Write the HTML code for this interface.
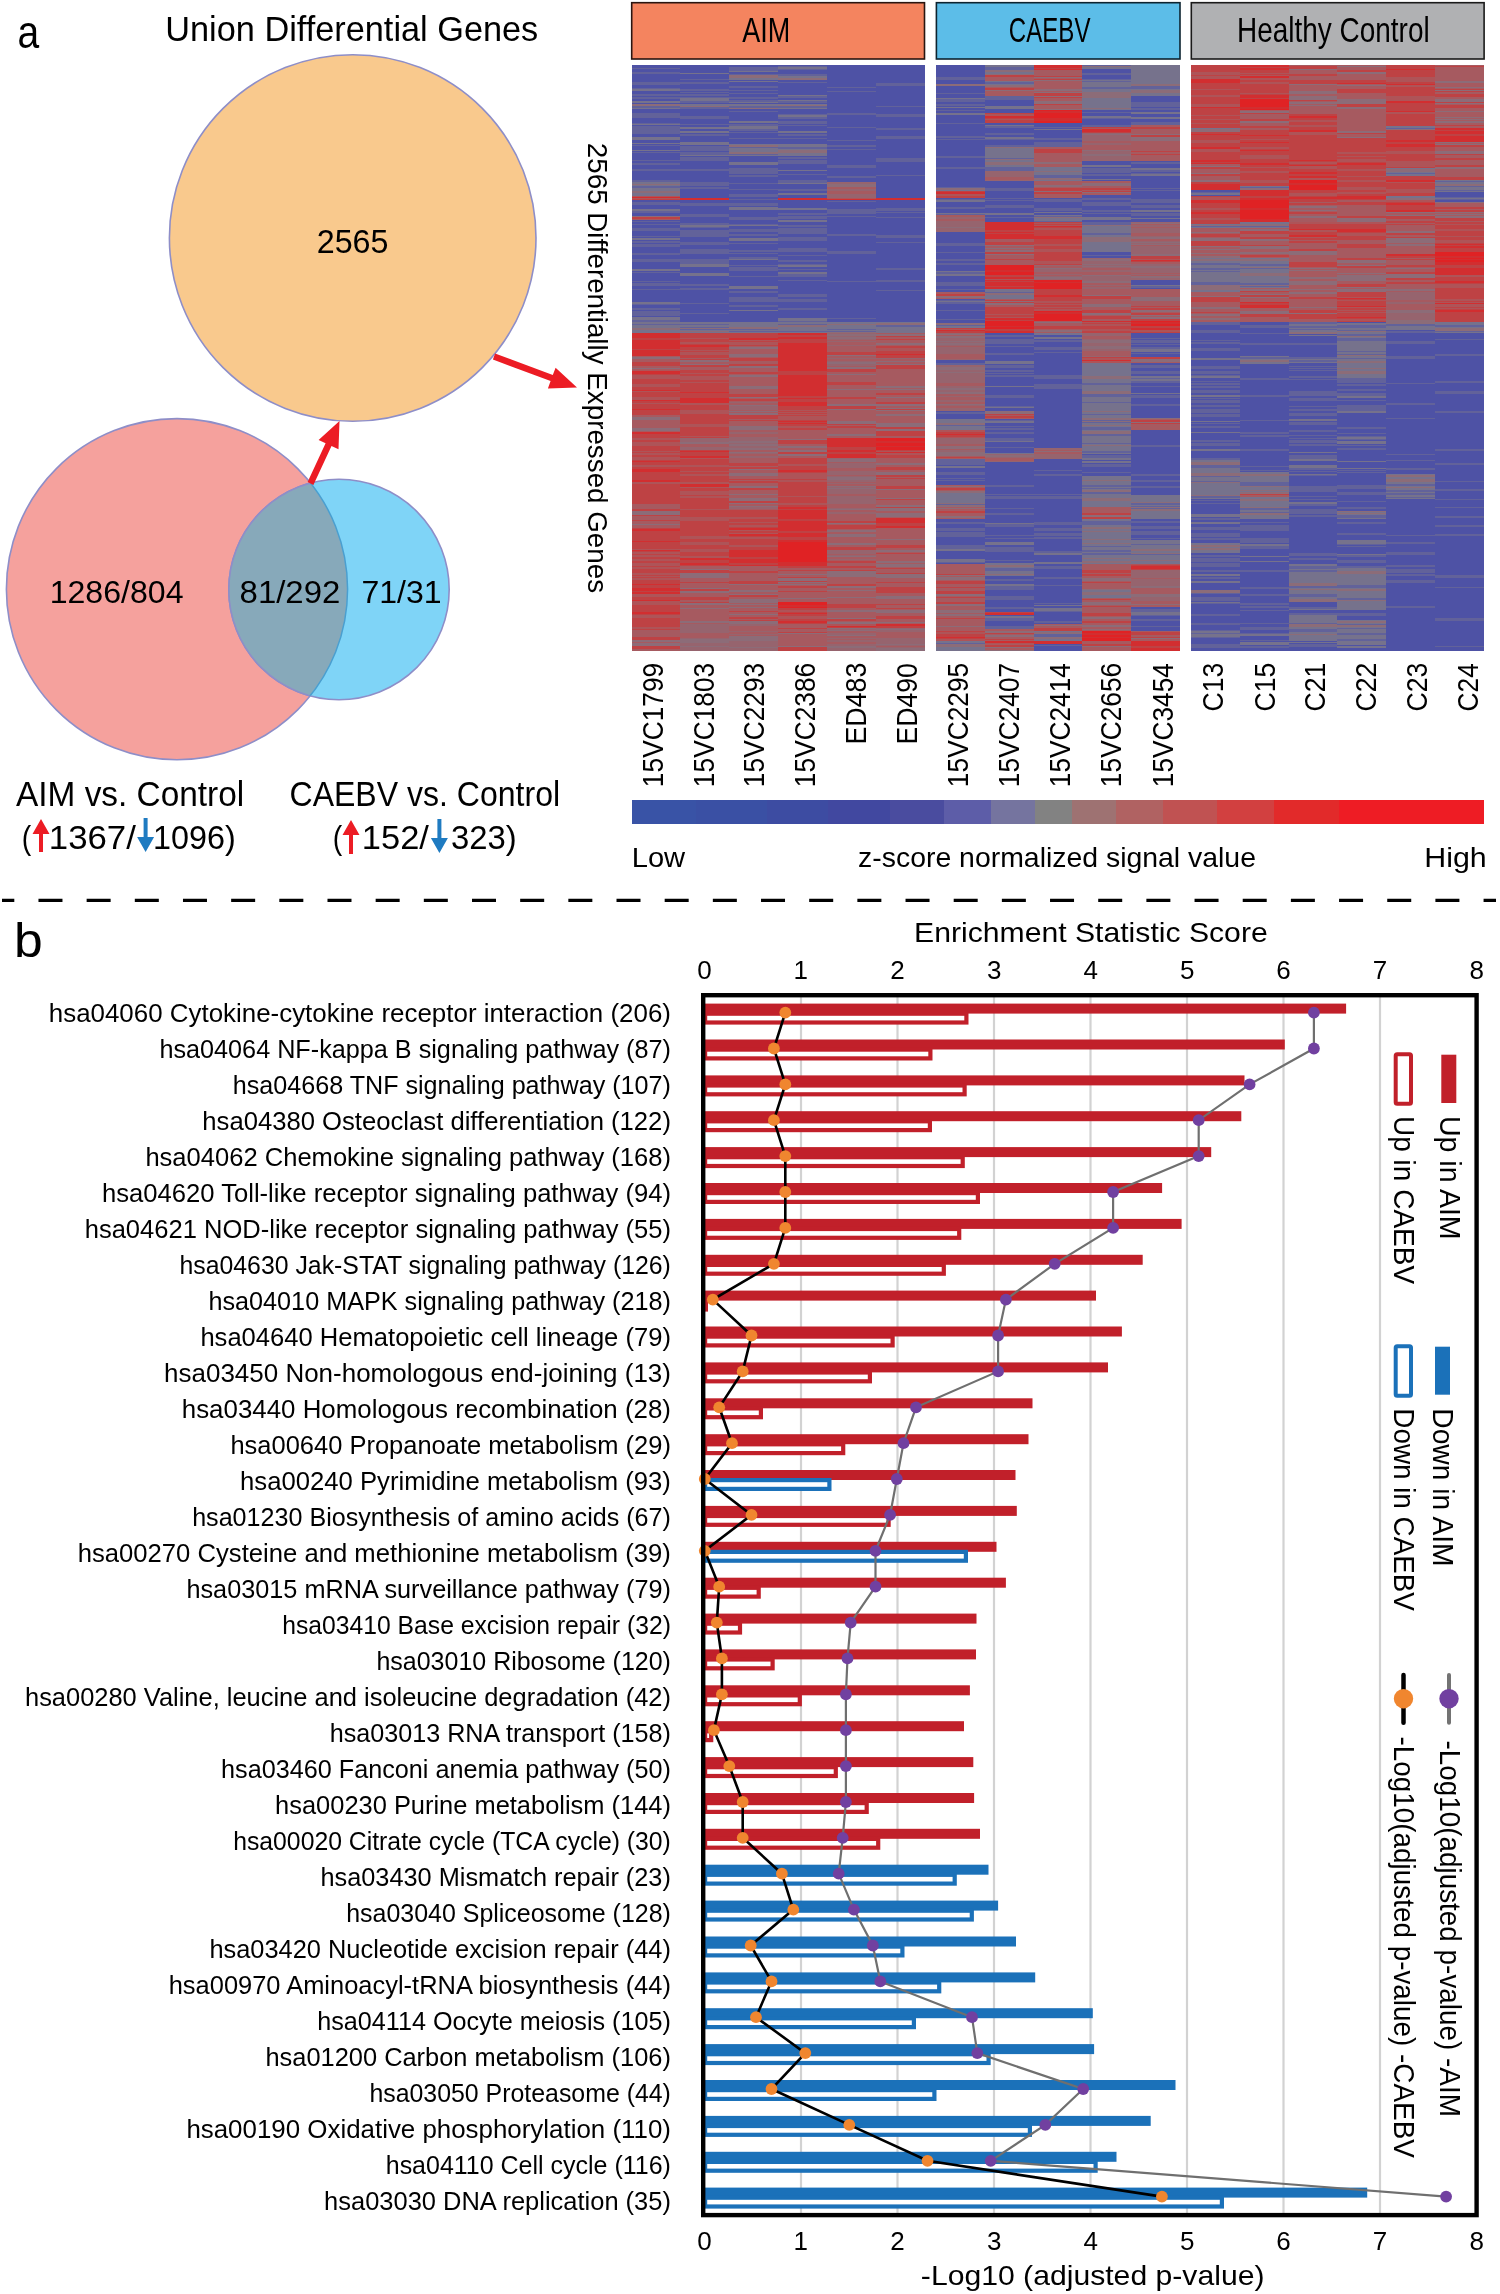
<!DOCTYPE html>
<html><head><meta charset="utf-8"><style>
html,body{margin:0;padding:0;background:#fff;}
svg{display:block;font-family:"Liberation Sans", sans-serif;will-change:transform;}
</style></head><body>
<svg width="1500" height="2294" viewBox="0 0 1500 2294">
<rect width="1500" height="2294" fill="#fff"/>
<circle cx="352.7" cy="238" r="183.3" fill="#f9c98d" stroke="#8e8ec8" stroke-width="1.6"/>
<defs><clipPath id="clipPink"><circle cx="177" cy="589.2" r="170.6"/></clipPath><clipPath id="clipBlue"><circle cx="339" cy="589.5" r="110.2"/></clipPath></defs>
<circle cx="177" cy="589.2" r="170.6" fill="#f5a19d" stroke="#8e8ec8" stroke-width="1.6"/>
<circle cx="339" cy="589.5" r="110.2" fill="#7fd4f7" stroke="#8e8ec8" stroke-width="1.6"/>
<circle cx="339" cy="589.5" r="110.2" fill="#87a9ba" clip-path="url(#clipPink)"/>
<circle cx="339" cy="589.5" r="110.2" fill="none" stroke="#8e8ec8" stroke-width="1.6" clip-path="url(#clipPink)"/>
<circle cx="177" cy="589.2" r="170.6" fill="none" stroke="#4a9fd0" stroke-width="1.5" clip-path="url(#clipBlue)"/>
<polygon points="313.4,484.9 331.5,446.0 338.5,449.2 339.5,421.0 318.6,440.0 325.6,443.2 307.6,482.1" fill="#ec1c24"/>
<polygon points="492.9,359.5 550.6,381.1 547.9,388.4 577.0,387.5 555.6,367.7 552.8,375.0 495.1,353.5" fill="#ec1c24"/>
<polygon points="39.0,852 39.0,834 32.5,834 41,819 49.5,834 43.0,834 43.0,852" fill="#ec1c24"/>
<polygon points="143.6,818 143.6,837 137.1,837 145.6,852 154.1,837 147.6,837 147.6,818" fill="#1f7bc1"/>
<polygon points="349.0,854 349.0,835 342.5,835 351,820 359.5,835 353.0,835 353.0,854" fill="#ec1c24"/>
<polygon points="437.4,819 437.4,838 430.9,838 439.4,853 447.9,838 441.4,838 441.4,819" fill="#1f7bc1"/>
<rect x="631.7" y="2.7" width="292.8" height="56.3" fill="#f4845f" stroke="#2a1510" stroke-width="1.6"/>
<rect x="936.4" y="2.7" width="243.6" height="56.3" fill="#5cbde8" stroke="#0d2430" stroke-width="1.6"/>
<rect x="1191.3" y="2.7" width="292.8" height="56.3" fill="#b0b1b3" stroke="#1a1a1a" stroke-width="1.6"/>
<g shape-rendering="crispEdges">
<rect x="632" y="65" width="48" height="39" fill="#4e52a5"/>
<rect x="632" y="97" width="48" height="2" fill="#62629a"/>
<rect x="632" y="82" width="48" height="2" fill="#62629a"/>
<rect x="632" y="72" width="48" height="2" fill="#62629a"/>
<rect x="632" y="83" width="48" height="2" fill="#62629a"/>
<rect x="632" y="94" width="48" height="2" fill="#62629a"/>
<rect x="632" y="82" width="48" height="1" fill="#62629a"/>
<rect x="632" y="68" width="48" height="1" fill="#62629a"/>
<rect x="632" y="88" width="48" height="3" fill="#62629a"/>
<rect x="632" y="101" width="48" height="2" fill="#76728c"/>
<rect x="632" y="89" width="48" height="2" fill="#76728c"/>
<rect x="632" y="104" width="48" height="5" fill="#76728c"/>
<rect x="632" y="106" width="48" height="2" fill="#62629a"/>
<rect x="632" y="104" width="48" height="2" fill="#8c6c78"/>
<rect x="632" y="109" width="48" height="73" fill="#4e52a5"/>
<rect x="632" y="113" width="48" height="2" fill="#62629a"/>
<rect x="632" y="123" width="48" height="1" fill="#62629a"/>
<rect x="632" y="152" width="48" height="1" fill="#62629a"/>
<rect x="632" y="132" width="48" height="2" fill="#62629a"/>
<rect x="632" y="169" width="48" height="2" fill="#62629a"/>
<rect x="632" y="126" width="48" height="2" fill="#62629a"/>
<rect x="632" y="145" width="48" height="1" fill="#62629a"/>
<rect x="632" y="115" width="48" height="3" fill="#62629a"/>
<rect x="632" y="128" width="48" height="3" fill="#62629a"/>
<rect x="632" y="180" width="48" height="2" fill="#62629a"/>
<rect x="632" y="160" width="48" height="1" fill="#62629a"/>
<rect x="632" y="163" width="48" height="2" fill="#62629a"/>
<rect x="632" y="130" width="48" height="2" fill="#62629a"/>
<rect x="632" y="150" width="48" height="1" fill="#62629a"/>
<rect x="632" y="138" width="48" height="1" fill="#62629a"/>
<rect x="632" y="137" width="48" height="1" fill="#62629a"/>
<rect x="632" y="170" width="48" height="1" fill="#62629a"/>
<rect x="632" y="124" width="48" height="1" fill="#76728c"/>
<rect x="632" y="143" width="48" height="1" fill="#76728c"/>
<rect x="632" y="137" width="48" height="3" fill="#76728c"/>
<rect x="632" y="150" width="48" height="1" fill="#76728c"/>
<rect x="632" y="182" width="48" height="14" fill="#76728c"/>
<rect x="632" y="192" width="48" height="1" fill="#62629a"/>
<rect x="632" y="186" width="48" height="2" fill="#62629a"/>
<rect x="632" y="186" width="48" height="2" fill="#62629a"/>
<rect x="632" y="191" width="48" height="2" fill="#8c6c78"/>
<rect x="632" y="184" width="48" height="1" fill="#8c6c78"/>
<rect x="632" y="196" width="48" height="4" fill="#be4244"/>
<rect x="632" y="196" width="48" height="3" fill="#ae5458"/>
<rect x="632" y="197" width="48" height="1" fill="#d22e30"/>
<rect x="632" y="200" width="48" height="16" fill="#4e52a5"/>
<rect x="632" y="202" width="48" height="2" fill="#62629a"/>
<rect x="632" y="203" width="48" height="2" fill="#62629a"/>
<rect x="632" y="203" width="48" height="2" fill="#62629a"/>
<rect x="632" y="210" width="48" height="3" fill="#62629a"/>
<rect x="632" y="209" width="48" height="2" fill="#76728c"/>
<rect x="632" y="216" width="48" height="4" fill="#a65a60"/>
<rect x="632" y="217" width="48" height="1" fill="#8c6c78"/>
<rect x="632" y="216" width="48" height="1" fill="#8c6c78"/>
<rect x="632" y="217" width="48" height="2" fill="#be4244"/>
<rect x="632" y="220" width="48" height="102" fill="#4e52a5"/>
<rect x="632" y="241" width="48" height="1" fill="#62629a"/>
<rect x="632" y="320" width="48" height="2" fill="#62629a"/>
<rect x="632" y="284" width="48" height="2" fill="#62629a"/>
<rect x="632" y="224" width="48" height="1" fill="#62629a"/>
<rect x="632" y="242" width="48" height="1" fill="#62629a"/>
<rect x="632" y="221" width="48" height="1" fill="#62629a"/>
<rect x="632" y="253" width="48" height="2" fill="#62629a"/>
<rect x="632" y="259" width="48" height="1" fill="#62629a"/>
<rect x="632" y="229" width="48" height="1" fill="#62629a"/>
<rect x="632" y="284" width="48" height="2" fill="#62629a"/>
<rect x="632" y="281" width="48" height="1" fill="#62629a"/>
<rect x="632" y="283" width="48" height="1" fill="#62629a"/>
<rect x="632" y="317" width="48" height="1" fill="#62629a"/>
<rect x="632" y="303" width="48" height="2" fill="#62629a"/>
<rect x="632" y="308" width="48" height="1" fill="#62629a"/>
<rect x="632" y="283" width="48" height="1" fill="#62629a"/>
<rect x="632" y="311" width="48" height="2" fill="#62629a"/>
<rect x="632" y="245" width="48" height="2" fill="#62629a"/>
<rect x="632" y="236" width="48" height="1" fill="#62629a"/>
<rect x="632" y="313" width="48" height="3" fill="#62629a"/>
<rect x="632" y="289" width="48" height="1" fill="#62629a"/>
<rect x="632" y="308" width="48" height="2" fill="#62629a"/>
<rect x="632" y="228" width="48" height="2" fill="#62629a"/>
<rect x="632" y="230" width="48" height="1" fill="#62629a"/>
<rect x="632" y="272" width="48" height="1" fill="#62629a"/>
<rect x="632" y="244" width="48" height="1" fill="#62629a"/>
<rect x="632" y="259" width="48" height="3" fill="#62629a"/>
<rect x="632" y="302" width="48" height="2" fill="#76728c"/>
<rect x="632" y="269" width="48" height="2" fill="#76728c"/>
<rect x="632" y="238" width="48" height="2" fill="#76728c"/>
<rect x="632" y="317" width="48" height="3" fill="#76728c"/>
<rect x="632" y="322" width="48" height="11" fill="#76728c"/>
<rect x="632" y="324" width="48" height="1" fill="#62629a"/>
<rect x="632" y="328" width="48" height="2" fill="#62629a"/>
<rect x="632" y="328" width="48" height="2" fill="#8c6c78"/>
<rect x="632" y="333" width="48" height="23" fill="#d22e30"/>
<rect x="632" y="338" width="48" height="1" fill="#be4244"/>
<rect x="632" y="349" width="48" height="1" fill="#be4244"/>
<rect x="632" y="339" width="48" height="1" fill="#be4244"/>
<rect x="632" y="338" width="48" height="2" fill="#be4244"/>
<rect x="632" y="356" width="48" height="14" fill="#a65a60"/>
<rect x="632" y="358" width="48" height="1" fill="#8c6c78"/>
<rect x="632" y="363" width="48" height="1" fill="#8c6c78"/>
<rect x="632" y="357" width="48" height="1" fill="#8c6c78"/>
<rect x="632" y="368" width="48" height="1" fill="#8c6c78"/>
<rect x="632" y="364" width="48" height="2" fill="#be4244"/>
<rect x="632" y="362" width="48" height="3" fill="#be4244"/>
<rect x="632" y="370" width="48" height="12" fill="#be4244"/>
<rect x="632" y="376" width="48" height="1" fill="#ae5458"/>
<rect x="632" y="375" width="48" height="1" fill="#ae5458"/>
<rect x="632" y="377" width="48" height="2" fill="#ae5458"/>
<rect x="632" y="370" width="48" height="1" fill="#ae5458"/>
<rect x="632" y="371" width="48" height="3" fill="#d22e30"/>
<rect x="632" y="382" width="48" height="24" fill="#be4244"/>
<rect x="632" y="399" width="48" height="1" fill="#ae5458"/>
<rect x="632" y="385" width="48" height="2" fill="#ae5458"/>
<rect x="632" y="384" width="48" height="1" fill="#ae5458"/>
<rect x="632" y="390" width="48" height="2" fill="#ae5458"/>
<rect x="632" y="403" width="48" height="1" fill="#ae5458"/>
<rect x="632" y="397" width="48" height="3" fill="#ae5458"/>
<rect x="632" y="400" width="48" height="1" fill="#d22e30"/>
<rect x="632" y="390" width="48" height="1" fill="#d22e30"/>
<rect x="632" y="406" width="48" height="4" fill="#d22e30"/>
<rect x="632" y="406" width="48" height="3" fill="#be4244"/>
<rect x="632" y="410" width="48" height="22" fill="#a65a60"/>
<rect x="632" y="428" width="48" height="1" fill="#8c6c78"/>
<rect x="632" y="429" width="48" height="2" fill="#8c6c78"/>
<rect x="632" y="428" width="48" height="1" fill="#8c6c78"/>
<rect x="632" y="410" width="48" height="2" fill="#8c6c78"/>
<rect x="632" y="417" width="48" height="3" fill="#8c6c78"/>
<rect x="632" y="410" width="48" height="2" fill="#be4244"/>
<rect x="632" y="412" width="48" height="1" fill="#be4244"/>
<rect x="632" y="412" width="48" height="3" fill="#be4244"/>
<rect x="632" y="432" width="48" height="4" fill="#d22e30"/>
<rect x="632" y="434" width="48" height="2" fill="#be4244"/>
<rect x="632" y="436" width="48" height="68" fill="#be4244"/>
<rect x="632" y="457" width="48" height="3" fill="#ae5458"/>
<rect x="632" y="481" width="48" height="3" fill="#ae5458"/>
<rect x="632" y="465" width="48" height="2" fill="#ae5458"/>
<rect x="632" y="442" width="48" height="2" fill="#ae5458"/>
<rect x="632" y="438" width="48" height="2" fill="#ae5458"/>
<rect x="632" y="442" width="48" height="2" fill="#ae5458"/>
<rect x="632" y="451" width="48" height="1" fill="#ae5458"/>
<rect x="632" y="443" width="48" height="3" fill="#ae5458"/>
<rect x="632" y="480" width="48" height="2" fill="#ae5458"/>
<rect x="632" y="453" width="48" height="2" fill="#ae5458"/>
<rect x="632" y="461" width="48" height="1" fill="#d22e30"/>
<rect x="632" y="481" width="48" height="1" fill="#d22e30"/>
<rect x="632" y="471" width="48" height="1" fill="#d22e30"/>
<rect x="632" y="480" width="48" height="1" fill="#d22e30"/>
<rect x="632" y="469" width="48" height="2" fill="#d22e30"/>
<rect x="632" y="504" width="48" height="24" fill="#a65a60"/>
<rect x="632" y="512" width="48" height="1" fill="#8c6c78"/>
<rect x="632" y="509" width="48" height="3" fill="#8c6c78"/>
<rect x="632" y="513" width="48" height="3" fill="#8c6c78"/>
<rect x="632" y="524" width="48" height="1" fill="#8c6c78"/>
<rect x="632" y="509" width="48" height="2" fill="#be4244"/>
<rect x="632" y="509" width="48" height="1" fill="#be4244"/>
<rect x="632" y="515" width="48" height="1" fill="#be4244"/>
<rect x="632" y="520" width="48" height="1" fill="#be4244"/>
<rect x="632" y="528" width="48" height="56" fill="#be4244"/>
<rect x="632" y="573" width="48" height="1" fill="#ae5458"/>
<rect x="632" y="553" width="48" height="1" fill="#ae5458"/>
<rect x="632" y="578" width="48" height="2" fill="#ae5458"/>
<rect x="632" y="549" width="48" height="2" fill="#ae5458"/>
<rect x="632" y="555" width="48" height="2" fill="#ae5458"/>
<rect x="632" y="567" width="48" height="2" fill="#ae5458"/>
<rect x="632" y="552" width="48" height="2" fill="#ae5458"/>
<rect x="632" y="574" width="48" height="1" fill="#ae5458"/>
<rect x="632" y="576" width="48" height="1" fill="#ae5458"/>
<rect x="632" y="565" width="48" height="1" fill="#ae5458"/>
<rect x="632" y="559" width="48" height="2" fill="#ae5458"/>
<rect x="632" y="563" width="48" height="2" fill="#ae5458"/>
<rect x="632" y="529" width="48" height="2" fill="#d22e30"/>
<rect x="632" y="550" width="48" height="1" fill="#d22e30"/>
<rect x="632" y="529" width="48" height="1" fill="#d22e30"/>
<rect x="632" y="541" width="48" height="1" fill="#d22e30"/>
<rect x="632" y="584" width="48" height="10" fill="#d22e30"/>
<rect x="632" y="591" width="48" height="1" fill="#be4244"/>
<rect x="632" y="585" width="48" height="3" fill="#be4244"/>
<rect x="632" y="594" width="48" height="36" fill="#be4244"/>
<rect x="632" y="616" width="48" height="1" fill="#ae5458"/>
<rect x="632" y="615" width="48" height="3" fill="#ae5458"/>
<rect x="632" y="627" width="48" height="2" fill="#ae5458"/>
<rect x="632" y="601" width="48" height="3" fill="#ae5458"/>
<rect x="632" y="603" width="48" height="2" fill="#ae5458"/>
<rect x="632" y="594" width="48" height="3" fill="#ae5458"/>
<rect x="632" y="612" width="48" height="2" fill="#d22e30"/>
<rect x="632" y="600" width="48" height="1" fill="#d22e30"/>
<rect x="632" y="630" width="48" height="21" fill="#a65a60"/>
<rect x="632" y="645" width="48" height="2" fill="#8c6c78"/>
<rect x="632" y="643" width="48" height="2" fill="#8c6c78"/>
<rect x="632" y="640" width="48" height="2" fill="#8c6c78"/>
<rect x="632" y="638" width="48" height="1" fill="#8c6c78"/>
<rect x="632" y="646" width="48" height="3" fill="#be4244"/>
<rect x="632" y="638" width="48" height="1" fill="#be4244"/>
<rect x="632" y="637" width="48" height="3" fill="#be4244"/>
<rect x="680" y="65" width="49" height="39" fill="#4e52a5"/>
<rect x="680" y="82" width="49" height="2" fill="#62629a"/>
<rect x="680" y="97" width="49" height="3" fill="#62629a"/>
<rect x="680" y="79" width="49" height="1" fill="#62629a"/>
<rect x="680" y="89" width="49" height="2" fill="#62629a"/>
<rect x="680" y="94" width="49" height="2" fill="#62629a"/>
<rect x="680" y="82" width="49" height="2" fill="#62629a"/>
<rect x="680" y="100" width="49" height="3" fill="#62629a"/>
<rect x="680" y="92" width="49" height="1" fill="#62629a"/>
<rect x="680" y="98" width="49" height="3" fill="#76728c"/>
<rect x="680" y="73" width="49" height="1" fill="#76728c"/>
<rect x="680" y="104" width="49" height="5" fill="#76728c"/>
<rect x="680" y="107" width="49" height="2" fill="#62629a"/>
<rect x="680" y="106" width="49" height="1" fill="#8c6c78"/>
<rect x="680" y="109" width="49" height="89" fill="#4e52a5"/>
<rect x="680" y="132" width="49" height="1" fill="#62629a"/>
<rect x="680" y="183" width="49" height="3" fill="#62629a"/>
<rect x="680" y="153" width="49" height="2" fill="#62629a"/>
<rect x="680" y="148" width="49" height="1" fill="#62629a"/>
<rect x="680" y="146" width="49" height="2" fill="#62629a"/>
<rect x="680" y="152" width="49" height="1" fill="#62629a"/>
<rect x="680" y="128" width="49" height="1" fill="#62629a"/>
<rect x="680" y="147" width="49" height="1" fill="#62629a"/>
<rect x="680" y="124" width="49" height="1" fill="#62629a"/>
<rect x="680" y="169" width="49" height="2" fill="#62629a"/>
<rect x="680" y="150" width="49" height="1" fill="#62629a"/>
<rect x="680" y="187" width="49" height="2" fill="#62629a"/>
<rect x="680" y="182" width="49" height="2" fill="#62629a"/>
<rect x="680" y="147" width="49" height="3" fill="#62629a"/>
<rect x="680" y="159" width="49" height="2" fill="#62629a"/>
<rect x="680" y="116" width="49" height="3" fill="#62629a"/>
<rect x="680" y="148" width="49" height="1" fill="#62629a"/>
<rect x="680" y="134" width="49" height="2" fill="#62629a"/>
<rect x="680" y="157" width="49" height="3" fill="#62629a"/>
<rect x="680" y="155" width="49" height="1" fill="#76728c"/>
<rect x="680" y="131" width="49" height="2" fill="#76728c"/>
<rect x="680" y="142" width="49" height="3" fill="#76728c"/>
<rect x="680" y="127" width="49" height="2" fill="#76728c"/>
<rect x="680" y="198" width="49" height="2" fill="#be4244"/>
<rect x="680" y="199" width="49" height="1" fill="#ae5458"/>
<rect x="680" y="198" width="49" height="2" fill="#d22e30"/>
<rect x="680" y="200" width="49" height="122" fill="#4e52a5"/>
<rect x="680" y="224" width="49" height="2" fill="#62629a"/>
<rect x="680" y="214" width="49" height="2" fill="#62629a"/>
<rect x="680" y="273" width="49" height="1" fill="#62629a"/>
<rect x="680" y="265" width="49" height="1" fill="#62629a"/>
<rect x="680" y="262" width="49" height="1" fill="#62629a"/>
<rect x="680" y="265" width="49" height="2" fill="#62629a"/>
<rect x="680" y="215" width="49" height="2" fill="#62629a"/>
<rect x="680" y="284" width="49" height="1" fill="#62629a"/>
<rect x="680" y="313" width="49" height="1" fill="#62629a"/>
<rect x="680" y="250" width="49" height="2" fill="#62629a"/>
<rect x="680" y="232" width="49" height="2" fill="#62629a"/>
<rect x="680" y="259" width="49" height="2" fill="#62629a"/>
<rect x="680" y="252" width="49" height="2" fill="#62629a"/>
<rect x="680" y="263" width="49" height="2" fill="#62629a"/>
<rect x="680" y="223" width="49" height="1" fill="#62629a"/>
<rect x="680" y="204" width="49" height="2" fill="#62629a"/>
<rect x="680" y="216" width="49" height="1" fill="#62629a"/>
<rect x="680" y="204" width="49" height="1" fill="#62629a"/>
<rect x="680" y="227" width="49" height="1" fill="#62629a"/>
<rect x="680" y="234" width="49" height="3" fill="#62629a"/>
<rect x="680" y="242" width="49" height="3" fill="#62629a"/>
<rect x="680" y="260" width="49" height="2" fill="#62629a"/>
<rect x="680" y="288" width="49" height="2" fill="#62629a"/>
<rect x="680" y="303" width="49" height="1" fill="#62629a"/>
<rect x="680" y="230" width="49" height="2" fill="#62629a"/>
<rect x="680" y="285" width="49" height="1" fill="#62629a"/>
<rect x="680" y="203" width="49" height="2" fill="#62629a"/>
<rect x="680" y="249" width="49" height="3" fill="#62629a"/>
<rect x="680" y="274" width="49" height="2" fill="#76728c"/>
<rect x="680" y="225" width="49" height="2" fill="#76728c"/>
<rect x="680" y="264" width="49" height="3" fill="#76728c"/>
<rect x="680" y="264" width="49" height="1" fill="#76728c"/>
<rect x="680" y="273" width="49" height="2" fill="#76728c"/>
<rect x="680" y="322" width="49" height="11" fill="#76728c"/>
<rect x="680" y="324" width="49" height="1" fill="#62629a"/>
<rect x="680" y="327" width="49" height="3" fill="#62629a"/>
<rect x="680" y="331" width="49" height="1" fill="#8c6c78"/>
<rect x="680" y="328" width="49" height="1" fill="#8c6c78"/>
<rect x="680" y="333" width="49" height="25" fill="#be4244"/>
<rect x="680" y="338" width="49" height="1" fill="#ae5458"/>
<rect x="680" y="354" width="49" height="1" fill="#ae5458"/>
<rect x="680" y="354" width="49" height="1" fill="#ae5458"/>
<rect x="680" y="350" width="49" height="1" fill="#ae5458"/>
<rect x="680" y="342" width="49" height="2" fill="#ae5458"/>
<rect x="680" y="352" width="49" height="2" fill="#ae5458"/>
<rect x="680" y="345" width="49" height="2" fill="#d22e30"/>
<rect x="680" y="358" width="49" height="12" fill="#a65a60"/>
<rect x="680" y="359" width="49" height="3" fill="#8c6c78"/>
<rect x="680" y="364" width="49" height="2" fill="#8c6c78"/>
<rect x="680" y="359" width="49" height="1" fill="#be4244"/>
<rect x="680" y="365" width="49" height="2" fill="#be4244"/>
<rect x="680" y="370" width="49" height="68" fill="#be4244"/>
<rect x="680" y="378" width="49" height="1" fill="#ae5458"/>
<rect x="680" y="412" width="49" height="2" fill="#ae5458"/>
<rect x="680" y="403" width="49" height="2" fill="#ae5458"/>
<rect x="680" y="424" width="49" height="3" fill="#ae5458"/>
<rect x="680" y="402" width="49" height="1" fill="#ae5458"/>
<rect x="680" y="373" width="49" height="1" fill="#ae5458"/>
<rect x="680" y="410" width="49" height="2" fill="#ae5458"/>
<rect x="680" y="402" width="49" height="2" fill="#ae5458"/>
<rect x="680" y="382" width="49" height="1" fill="#ae5458"/>
<rect x="680" y="382" width="49" height="1" fill="#ae5458"/>
<rect x="680" y="436" width="49" height="1" fill="#ae5458"/>
<rect x="680" y="376" width="49" height="3" fill="#ae5458"/>
<rect x="680" y="379" width="49" height="1" fill="#ae5458"/>
<rect x="680" y="400" width="49" height="3" fill="#d22e30"/>
<rect x="680" y="392" width="49" height="1" fill="#d22e30"/>
<rect x="680" y="398" width="49" height="2" fill="#d22e30"/>
<rect x="680" y="438" width="49" height="12" fill="#96646e"/>
<rect x="680" y="443" width="49" height="1" fill="#8c6c78"/>
<rect x="680" y="442" width="49" height="2" fill="#8c6c78"/>
<rect x="680" y="444" width="49" height="3" fill="#a65a60"/>
<rect x="680" y="450" width="49" height="116" fill="#be4244"/>
<rect x="680" y="471" width="49" height="1" fill="#ae5458"/>
<rect x="680" y="491" width="49" height="2" fill="#ae5458"/>
<rect x="680" y="496" width="49" height="2" fill="#ae5458"/>
<rect x="680" y="520" width="49" height="1" fill="#ae5458"/>
<rect x="680" y="509" width="49" height="1" fill="#ae5458"/>
<rect x="680" y="487" width="49" height="1" fill="#ae5458"/>
<rect x="680" y="542" width="49" height="1" fill="#ae5458"/>
<rect x="680" y="549" width="49" height="3" fill="#ae5458"/>
<rect x="680" y="556" width="49" height="3" fill="#ae5458"/>
<rect x="680" y="518" width="49" height="2" fill="#ae5458"/>
<rect x="680" y="517" width="49" height="2" fill="#ae5458"/>
<rect x="680" y="542" width="49" height="2" fill="#ae5458"/>
<rect x="680" y="482" width="49" height="2" fill="#ae5458"/>
<rect x="680" y="536" width="49" height="1" fill="#ae5458"/>
<rect x="680" y="544" width="49" height="1" fill="#ae5458"/>
<rect x="680" y="465" width="49" height="2" fill="#ae5458"/>
<rect x="680" y="551" width="49" height="1" fill="#ae5458"/>
<rect x="680" y="492" width="49" height="3" fill="#ae5458"/>
<rect x="680" y="537" width="49" height="2" fill="#ae5458"/>
<rect x="680" y="474" width="49" height="2" fill="#ae5458"/>
<rect x="680" y="458" width="49" height="1" fill="#ae5458"/>
<rect x="680" y="485" width="49" height="1" fill="#d22e30"/>
<rect x="680" y="451" width="49" height="1" fill="#d22e30"/>
<rect x="680" y="563" width="49" height="2" fill="#d22e30"/>
<rect x="680" y="456" width="49" height="2" fill="#d22e30"/>
<rect x="680" y="558" width="49" height="2" fill="#d22e30"/>
<rect x="680" y="484" width="49" height="3" fill="#d22e30"/>
<rect x="680" y="566" width="49" height="58" fill="#a65a60"/>
<rect x="680" y="604" width="49" height="1" fill="#8c6c78"/>
<rect x="680" y="576" width="49" height="2" fill="#8c6c78"/>
<rect x="680" y="588" width="49" height="1" fill="#8c6c78"/>
<rect x="680" y="602" width="49" height="2" fill="#8c6c78"/>
<rect x="680" y="573" width="49" height="3" fill="#8c6c78"/>
<rect x="680" y="621" width="49" height="2" fill="#8c6c78"/>
<rect x="680" y="573" width="49" height="1" fill="#8c6c78"/>
<rect x="680" y="608" width="49" height="1" fill="#8c6c78"/>
<rect x="680" y="591" width="49" height="2" fill="#8c6c78"/>
<rect x="680" y="569" width="49" height="2" fill="#8c6c78"/>
<rect x="680" y="603" width="49" height="1" fill="#8c6c78"/>
<rect x="680" y="572" width="49" height="1" fill="#be4244"/>
<rect x="680" y="582" width="49" height="1" fill="#be4244"/>
<rect x="680" y="597" width="49" height="2" fill="#be4244"/>
<rect x="680" y="589" width="49" height="2" fill="#be4244"/>
<rect x="680" y="598" width="49" height="2" fill="#be4244"/>
<rect x="680" y="602" width="49" height="1" fill="#be4244"/>
<rect x="680" y="570" width="49" height="3" fill="#be4244"/>
<rect x="680" y="624" width="49" height="27" fill="#96646e"/>
<rect x="680" y="641" width="49" height="2" fill="#8c6c78"/>
<rect x="680" y="634" width="49" height="1" fill="#8c6c78"/>
<rect x="680" y="634" width="49" height="1" fill="#8c6c78"/>
<rect x="680" y="646" width="49" height="1" fill="#8c6c78"/>
<rect x="680" y="639" width="49" height="2" fill="#8c6c78"/>
<rect x="680" y="635" width="49" height="1" fill="#a65a60"/>
<rect x="680" y="635" width="49" height="2" fill="#a65a60"/>
<rect x="680" y="634" width="49" height="2" fill="#a65a60"/>
<rect x="680" y="633" width="49" height="2" fill="#a65a60"/>
<rect x="680" y="636" width="49" height="2" fill="#a65a60"/>
<rect x="729" y="65" width="49" height="9" fill="#4e52a5"/>
<rect x="729" y="69" width="49" height="2" fill="#62629a"/>
<rect x="729" y="70" width="49" height="1" fill="#62629a"/>
<rect x="729" y="67" width="49" height="3" fill="#62629a"/>
<rect x="729" y="71" width="49" height="1" fill="#76728c"/>
<rect x="729" y="74" width="49" height="6" fill="#76728c"/>
<rect x="729" y="74" width="49" height="2" fill="#62629a"/>
<rect x="729" y="76" width="49" height="1" fill="#8c6c78"/>
<rect x="729" y="75" width="49" height="3" fill="#8c6c78"/>
<rect x="729" y="80" width="49" height="24" fill="#4e52a5"/>
<rect x="729" y="97" width="49" height="1" fill="#62629a"/>
<rect x="729" y="93" width="49" height="1" fill="#62629a"/>
<rect x="729" y="100" width="49" height="3" fill="#62629a"/>
<rect x="729" y="98" width="49" height="1" fill="#62629a"/>
<rect x="729" y="90" width="49" height="1" fill="#62629a"/>
<rect x="729" y="86" width="49" height="2" fill="#62629a"/>
<rect x="729" y="81" width="49" height="1" fill="#76728c"/>
<rect x="729" y="102" width="49" height="1" fill="#76728c"/>
<rect x="729" y="104" width="49" height="5" fill="#76728c"/>
<rect x="729" y="106" width="49" height="3" fill="#62629a"/>
<rect x="729" y="108" width="49" height="1" fill="#8c6c78"/>
<rect x="729" y="109" width="49" height="35" fill="#4e52a5"/>
<rect x="729" y="130" width="49" height="1" fill="#62629a"/>
<rect x="729" y="111" width="49" height="1" fill="#62629a"/>
<rect x="729" y="124" width="49" height="2" fill="#62629a"/>
<rect x="729" y="138" width="49" height="1" fill="#62629a"/>
<rect x="729" y="127" width="49" height="1" fill="#62629a"/>
<rect x="729" y="121" width="49" height="1" fill="#62629a"/>
<rect x="729" y="132" width="49" height="1" fill="#62629a"/>
<rect x="729" y="129" width="49" height="2" fill="#62629a"/>
<rect x="729" y="128" width="49" height="3" fill="#62629a"/>
<rect x="729" y="121" width="49" height="2" fill="#76728c"/>
<rect x="729" y="126" width="49" height="3" fill="#76728c"/>
<rect x="729" y="144" width="49" height="12" fill="#76728c"/>
<rect x="729" y="154" width="49" height="1" fill="#62629a"/>
<rect x="729" y="145" width="49" height="3" fill="#62629a"/>
<rect x="729" y="145" width="49" height="2" fill="#8c6c78"/>
<rect x="729" y="152" width="49" height="2" fill="#8c6c78"/>
<rect x="729" y="156" width="49" height="24" fill="#4e52a5"/>
<rect x="729" y="175" width="49" height="2" fill="#62629a"/>
<rect x="729" y="162" width="49" height="2" fill="#62629a"/>
<rect x="729" y="171" width="49" height="3" fill="#62629a"/>
<rect x="729" y="168" width="49" height="3" fill="#62629a"/>
<rect x="729" y="162" width="49" height="3" fill="#76728c"/>
<rect x="729" y="180" width="49" height="18" fill="#4e52a5"/>
<rect x="729" y="183" width="49" height="1" fill="#62629a"/>
<rect x="729" y="189" width="49" height="1" fill="#62629a"/>
<rect x="729" y="194" width="49" height="3" fill="#62629a"/>
<rect x="729" y="198" width="49" height="124" fill="#4e52a5"/>
<rect x="729" y="203" width="49" height="3" fill="#62629a"/>
<rect x="729" y="199" width="49" height="1" fill="#62629a"/>
<rect x="729" y="250" width="49" height="2" fill="#62629a"/>
<rect x="729" y="203" width="49" height="2" fill="#62629a"/>
<rect x="729" y="265" width="49" height="1" fill="#62629a"/>
<rect x="729" y="291" width="49" height="1" fill="#62629a"/>
<rect x="729" y="217" width="49" height="3" fill="#62629a"/>
<rect x="729" y="276" width="49" height="1" fill="#62629a"/>
<rect x="729" y="257" width="49" height="2" fill="#62629a"/>
<rect x="729" y="224" width="49" height="1" fill="#62629a"/>
<rect x="729" y="259" width="49" height="1" fill="#62629a"/>
<rect x="729" y="301" width="49" height="1" fill="#62629a"/>
<rect x="729" y="297" width="49" height="1" fill="#62629a"/>
<rect x="729" y="297" width="49" height="2" fill="#62629a"/>
<rect x="729" y="300" width="49" height="2" fill="#62629a"/>
<rect x="729" y="253" width="49" height="1" fill="#62629a"/>
<rect x="729" y="229" width="49" height="3" fill="#62629a"/>
<rect x="729" y="243" width="49" height="1" fill="#62629a"/>
<rect x="729" y="299" width="49" height="3" fill="#62629a"/>
<rect x="729" y="238" width="49" height="2" fill="#62629a"/>
<rect x="729" y="291" width="49" height="2" fill="#62629a"/>
<rect x="729" y="251" width="49" height="1" fill="#62629a"/>
<rect x="729" y="269" width="49" height="2" fill="#62629a"/>
<rect x="729" y="305" width="49" height="2" fill="#62629a"/>
<rect x="729" y="265" width="49" height="1" fill="#62629a"/>
<rect x="729" y="267" width="49" height="2" fill="#62629a"/>
<rect x="729" y="297" width="49" height="2" fill="#62629a"/>
<rect x="729" y="234" width="49" height="2" fill="#62629a"/>
<rect x="729" y="207" width="49" height="1" fill="#76728c"/>
<rect x="729" y="310" width="49" height="1" fill="#76728c"/>
<rect x="729" y="208" width="49" height="2" fill="#76728c"/>
<rect x="729" y="259" width="49" height="1" fill="#76728c"/>
<rect x="729" y="238" width="49" height="3" fill="#76728c"/>
<rect x="729" y="225" width="49" height="1" fill="#76728c"/>
<rect x="729" y="286" width="49" height="3" fill="#76728c"/>
<rect x="729" y="322" width="49" height="11" fill="#76728c"/>
<rect x="729" y="331" width="49" height="1" fill="#62629a"/>
<rect x="729" y="329" width="49" height="1" fill="#62629a"/>
<rect x="729" y="327" width="49" height="2" fill="#8c6c78"/>
<rect x="729" y="333" width="49" height="13" fill="#be4244"/>
<rect x="729" y="342" width="49" height="3" fill="#ae5458"/>
<rect x="729" y="339" width="49" height="2" fill="#ae5458"/>
<rect x="729" y="338" width="49" height="2" fill="#d22e30"/>
<rect x="729" y="346" width="49" height="24" fill="#a65a60"/>
<rect x="729" y="355" width="49" height="1" fill="#8c6c78"/>
<rect x="729" y="365" width="49" height="3" fill="#8c6c78"/>
<rect x="729" y="348" width="49" height="1" fill="#8c6c78"/>
<rect x="729" y="347" width="49" height="1" fill="#8c6c78"/>
<rect x="729" y="354" width="49" height="3" fill="#8c6c78"/>
<rect x="729" y="364" width="49" height="2" fill="#be4244"/>
<rect x="729" y="358" width="49" height="3" fill="#be4244"/>
<rect x="729" y="370" width="49" height="32" fill="#a65a60"/>
<rect x="729" y="386" width="49" height="2" fill="#8c6c78"/>
<rect x="729" y="387" width="49" height="2" fill="#8c6c78"/>
<rect x="729" y="373" width="49" height="1" fill="#8c6c78"/>
<rect x="729" y="396" width="49" height="2" fill="#8c6c78"/>
<rect x="729" y="395" width="49" height="1" fill="#8c6c78"/>
<rect x="729" y="386" width="49" height="1" fill="#8c6c78"/>
<rect x="729" y="375" width="49" height="2" fill="#8c6c78"/>
<rect x="729" y="399" width="49" height="2" fill="#be4244"/>
<rect x="729" y="394" width="49" height="3" fill="#be4244"/>
<rect x="729" y="372" width="49" height="2" fill="#be4244"/>
<rect x="729" y="402" width="49" height="8" fill="#96646e"/>
<rect x="729" y="404" width="49" height="2" fill="#8c6c78"/>
<rect x="729" y="403" width="49" height="2" fill="#a65a60"/>
<rect x="729" y="410" width="49" height="22" fill="#a65a60"/>
<rect x="729" y="416" width="49" height="1" fill="#8c6c78"/>
<rect x="729" y="429" width="49" height="1" fill="#8c6c78"/>
<rect x="729" y="411" width="49" height="1" fill="#8c6c78"/>
<rect x="729" y="413" width="49" height="3" fill="#8c6c78"/>
<rect x="729" y="426" width="49" height="3" fill="#8c6c78"/>
<rect x="729" y="415" width="49" height="2" fill="#be4244"/>
<rect x="729" y="420" width="49" height="1" fill="#be4244"/>
<rect x="729" y="417" width="49" height="2" fill="#be4244"/>
<rect x="729" y="432" width="49" height="26" fill="#96646e"/>
<rect x="729" y="441" width="49" height="2" fill="#8c6c78"/>
<rect x="729" y="452" width="49" height="1" fill="#8c6c78"/>
<rect x="729" y="448" width="49" height="2" fill="#8c6c78"/>
<rect x="729" y="444" width="49" height="2" fill="#8c6c78"/>
<rect x="729" y="434" width="49" height="3" fill="#a65a60"/>
<rect x="729" y="454" width="49" height="2" fill="#a65a60"/>
<rect x="729" y="450" width="49" height="2" fill="#a65a60"/>
<rect x="729" y="458" width="49" height="46" fill="#a65a60"/>
<rect x="729" y="473" width="49" height="3" fill="#8c6c78"/>
<rect x="729" y="494" width="49" height="1" fill="#8c6c78"/>
<rect x="729" y="498" width="49" height="1" fill="#8c6c78"/>
<rect x="729" y="486" width="49" height="2" fill="#8c6c78"/>
<rect x="729" y="474" width="49" height="2" fill="#8c6c78"/>
<rect x="729" y="494" width="49" height="1" fill="#8c6c78"/>
<rect x="729" y="499" width="49" height="2" fill="#8c6c78"/>
<rect x="729" y="469" width="49" height="1" fill="#8c6c78"/>
<rect x="729" y="503" width="49" height="1" fill="#8c6c78"/>
<rect x="729" y="488" width="49" height="2" fill="#be4244"/>
<rect x="729" y="467" width="49" height="2" fill="#be4244"/>
<rect x="729" y="481" width="49" height="2" fill="#be4244"/>
<rect x="729" y="501" width="49" height="2" fill="#be4244"/>
<rect x="729" y="479" width="49" height="1" fill="#be4244"/>
<rect x="729" y="463" width="49" height="3" fill="#be4244"/>
<rect x="729" y="504" width="49" height="6" fill="#96646e"/>
<rect x="729" y="504" width="49" height="3" fill="#8c6c78"/>
<rect x="729" y="509" width="49" height="1" fill="#a65a60"/>
<rect x="729" y="504" width="49" height="2" fill="#a65a60"/>
<rect x="729" y="510" width="49" height="40" fill="#be4244"/>
<rect x="729" y="545" width="49" height="2" fill="#ae5458"/>
<rect x="729" y="522" width="49" height="1" fill="#ae5458"/>
<rect x="729" y="517" width="49" height="1" fill="#ae5458"/>
<rect x="729" y="533" width="49" height="1" fill="#ae5458"/>
<rect x="729" y="537" width="49" height="2" fill="#ae5458"/>
<rect x="729" y="529" width="49" height="2" fill="#ae5458"/>
<rect x="729" y="517" width="49" height="2" fill="#ae5458"/>
<rect x="729" y="525" width="49" height="2" fill="#ae5458"/>
<rect x="729" y="534" width="49" height="2" fill="#d22e30"/>
<rect x="729" y="528" width="49" height="2" fill="#d22e30"/>
<rect x="729" y="550" width="49" height="16" fill="#d22e30"/>
<rect x="729" y="557" width="49" height="2" fill="#be4244"/>
<rect x="729" y="563" width="49" height="2" fill="#be4244"/>
<rect x="729" y="566" width="49" height="38" fill="#a65a60"/>
<rect x="729" y="590" width="49" height="2" fill="#8c6c78"/>
<rect x="729" y="584" width="49" height="1" fill="#8c6c78"/>
<rect x="729" y="581" width="49" height="1" fill="#8c6c78"/>
<rect x="729" y="601" width="49" height="1" fill="#8c6c78"/>
<rect x="729" y="601" width="49" height="2" fill="#8c6c78"/>
<rect x="729" y="594" width="49" height="2" fill="#8c6c78"/>
<rect x="729" y="590" width="49" height="1" fill="#8c6c78"/>
<rect x="729" y="599" width="49" height="1" fill="#8c6c78"/>
<rect x="729" y="599" width="49" height="2" fill="#8c6c78"/>
<rect x="729" y="595" width="49" height="2" fill="#be4244"/>
<rect x="729" y="581" width="49" height="3" fill="#be4244"/>
<rect x="729" y="581" width="49" height="1" fill="#be4244"/>
<rect x="729" y="571" width="49" height="2" fill="#be4244"/>
<rect x="729" y="571" width="49" height="2" fill="#be4244"/>
<rect x="729" y="604" width="49" height="20" fill="#a65a60"/>
<rect x="729" y="621" width="49" height="3" fill="#8c6c78"/>
<rect x="729" y="614" width="49" height="1" fill="#8c6c78"/>
<rect x="729" y="607" width="49" height="1" fill="#8c6c78"/>
<rect x="729" y="604" width="49" height="1" fill="#8c6c78"/>
<rect x="729" y="620" width="49" height="1" fill="#be4244"/>
<rect x="729" y="611" width="49" height="1" fill="#be4244"/>
<rect x="729" y="617" width="49" height="2" fill="#be4244"/>
<rect x="729" y="624" width="49" height="27" fill="#96646e"/>
<rect x="729" y="647" width="49" height="1" fill="#8c6c78"/>
<rect x="729" y="635" width="49" height="3" fill="#8c6c78"/>
<rect x="729" y="638" width="49" height="3" fill="#8c6c78"/>
<rect x="729" y="632" width="49" height="2" fill="#a65a60"/>
<rect x="729" y="635" width="49" height="1" fill="#a65a60"/>
<rect x="729" y="626" width="49" height="3" fill="#a65a60"/>
<rect x="729" y="629" width="49" height="2" fill="#a65a60"/>
<rect x="778" y="65" width="49" height="9" fill="#4e52a5"/>
<rect x="778" y="68" width="49" height="2" fill="#62629a"/>
<rect x="778" y="66" width="49" height="2" fill="#62629a"/>
<rect x="778" y="67" width="49" height="2" fill="#76728c"/>
<rect x="778" y="74" width="49" height="6" fill="#76728c"/>
<rect x="778" y="74" width="49" height="2" fill="#62629a"/>
<rect x="778" y="78" width="49" height="2" fill="#8c6c78"/>
<rect x="778" y="80" width="49" height="24" fill="#4e52a5"/>
<rect x="778" y="95" width="49" height="3" fill="#62629a"/>
<rect x="778" y="82" width="49" height="1" fill="#62629a"/>
<rect x="778" y="82" width="49" height="1" fill="#62629a"/>
<rect x="778" y="95" width="49" height="2" fill="#62629a"/>
<rect x="778" y="100" width="49" height="3" fill="#62629a"/>
<rect x="778" y="95" width="49" height="1" fill="#76728c"/>
<rect x="778" y="100" width="49" height="1" fill="#76728c"/>
<rect x="778" y="104" width="49" height="5" fill="#76728c"/>
<rect x="778" y="105" width="49" height="3" fill="#62629a"/>
<rect x="778" y="105" width="49" height="1" fill="#8c6c78"/>
<rect x="778" y="109" width="49" height="35" fill="#4e52a5"/>
<rect x="778" y="125" width="49" height="1" fill="#62629a"/>
<rect x="778" y="138" width="49" height="1" fill="#62629a"/>
<rect x="778" y="116" width="49" height="3" fill="#62629a"/>
<rect x="778" y="114" width="49" height="2" fill="#62629a"/>
<rect x="778" y="121" width="49" height="3" fill="#62629a"/>
<rect x="778" y="134" width="49" height="2" fill="#62629a"/>
<rect x="778" y="134" width="49" height="2" fill="#62629a"/>
<rect x="778" y="131" width="49" height="2" fill="#76728c"/>
<rect x="778" y="115" width="49" height="2" fill="#76728c"/>
<rect x="778" y="144" width="49" height="12" fill="#76728c"/>
<rect x="778" y="151" width="49" height="2" fill="#62629a"/>
<rect x="778" y="147" width="49" height="2" fill="#62629a"/>
<rect x="778" y="150" width="49" height="1" fill="#8c6c78"/>
<rect x="778" y="150" width="49" height="3" fill="#8c6c78"/>
<rect x="778" y="156" width="49" height="42" fill="#4e52a5"/>
<rect x="778" y="189" width="49" height="2" fill="#62629a"/>
<rect x="778" y="160" width="49" height="1" fill="#62629a"/>
<rect x="778" y="160" width="49" height="2" fill="#62629a"/>
<rect x="778" y="181" width="49" height="3" fill="#62629a"/>
<rect x="778" y="163" width="49" height="1" fill="#62629a"/>
<rect x="778" y="157" width="49" height="2" fill="#62629a"/>
<rect x="778" y="180" width="49" height="2" fill="#62629a"/>
<rect x="778" y="160" width="49" height="1" fill="#62629a"/>
<rect x="778" y="162" width="49" height="1" fill="#62629a"/>
<rect x="778" y="174" width="49" height="1" fill="#62629a"/>
<rect x="778" y="170" width="49" height="1" fill="#76728c"/>
<rect x="778" y="193" width="49" height="2" fill="#76728c"/>
<rect x="778" y="183" width="49" height="1" fill="#76728c"/>
<rect x="778" y="198" width="49" height="2" fill="#be4244"/>
<rect x="778" y="199" width="49" height="1" fill="#ae5458"/>
<rect x="778" y="198" width="49" height="2" fill="#d22e30"/>
<rect x="778" y="200" width="49" height="122" fill="#4e52a5"/>
<rect x="778" y="275" width="49" height="2" fill="#62629a"/>
<rect x="778" y="248" width="49" height="3" fill="#62629a"/>
<rect x="778" y="238" width="49" height="3" fill="#62629a"/>
<rect x="778" y="280" width="49" height="1" fill="#62629a"/>
<rect x="778" y="264" width="49" height="2" fill="#62629a"/>
<rect x="778" y="240" width="49" height="1" fill="#62629a"/>
<rect x="778" y="237" width="49" height="1" fill="#62629a"/>
<rect x="778" y="213" width="49" height="2" fill="#62629a"/>
<rect x="778" y="225" width="49" height="2" fill="#62629a"/>
<rect x="778" y="295" width="49" height="2" fill="#62629a"/>
<rect x="778" y="274" width="49" height="1" fill="#62629a"/>
<rect x="778" y="231" width="49" height="1" fill="#62629a"/>
<rect x="778" y="308" width="49" height="2" fill="#62629a"/>
<rect x="778" y="228" width="49" height="2" fill="#62629a"/>
<rect x="778" y="260" width="49" height="2" fill="#62629a"/>
<rect x="778" y="269" width="49" height="1" fill="#62629a"/>
<rect x="778" y="319" width="49" height="1" fill="#62629a"/>
<rect x="778" y="320" width="49" height="2" fill="#62629a"/>
<rect x="778" y="299" width="49" height="3" fill="#62629a"/>
<rect x="778" y="269" width="49" height="1" fill="#62629a"/>
<rect x="778" y="276" width="49" height="1" fill="#62629a"/>
<rect x="778" y="294" width="49" height="1" fill="#62629a"/>
<rect x="778" y="230" width="49" height="1" fill="#62629a"/>
<rect x="778" y="250" width="49" height="2" fill="#62629a"/>
<rect x="778" y="240" width="49" height="1" fill="#62629a"/>
<rect x="778" y="232" width="49" height="2" fill="#62629a"/>
<rect x="778" y="255" width="49" height="1" fill="#62629a"/>
<rect x="778" y="216" width="49" height="3" fill="#62629a"/>
<rect x="778" y="265" width="49" height="2" fill="#76728c"/>
<rect x="778" y="208" width="49" height="2" fill="#76728c"/>
<rect x="778" y="220" width="49" height="2" fill="#76728c"/>
<rect x="778" y="318" width="49" height="3" fill="#76728c"/>
<rect x="778" y="272" width="49" height="2" fill="#76728c"/>
<rect x="778" y="322" width="49" height="11" fill="#76728c"/>
<rect x="778" y="331" width="49" height="1" fill="#62629a"/>
<rect x="778" y="325" width="49" height="1" fill="#62629a"/>
<rect x="778" y="324" width="49" height="2" fill="#62629a"/>
<rect x="778" y="325" width="49" height="2" fill="#8c6c78"/>
<rect x="778" y="333" width="49" height="49" fill="#d22e30"/>
<rect x="778" y="342" width="49" height="1" fill="#be4244"/>
<rect x="778" y="371" width="49" height="2" fill="#be4244"/>
<rect x="778" y="335" width="49" height="2" fill="#be4244"/>
<rect x="778" y="371" width="49" height="1" fill="#be4244"/>
<rect x="778" y="339" width="49" height="3" fill="#be4244"/>
<rect x="778" y="372" width="49" height="3" fill="#be4244"/>
<rect x="778" y="382" width="49" height="24" fill="#d22e30"/>
<rect x="778" y="396" width="49" height="2" fill="#be4244"/>
<rect x="778" y="399" width="49" height="3" fill="#be4244"/>
<rect x="778" y="406" width="49" height="24" fill="#be4244"/>
<rect x="778" y="410" width="49" height="1" fill="#ae5458"/>
<rect x="778" y="416" width="49" height="2" fill="#ae5458"/>
<rect x="778" y="418" width="49" height="1" fill="#ae5458"/>
<rect x="778" y="419" width="49" height="1" fill="#ae5458"/>
<rect x="778" y="414" width="49" height="1" fill="#ae5458"/>
<rect x="778" y="412" width="49" height="1" fill="#ae5458"/>
<rect x="778" y="426" width="49" height="2" fill="#ae5458"/>
<rect x="778" y="421" width="49" height="1" fill="#d22e30"/>
<rect x="778" y="423" width="49" height="1" fill="#d22e30"/>
<rect x="778" y="430" width="49" height="28" fill="#a65a60"/>
<rect x="778" y="441" width="49" height="1" fill="#8c6c78"/>
<rect x="778" y="446" width="49" height="2" fill="#8c6c78"/>
<rect x="778" y="439" width="49" height="2" fill="#8c6c78"/>
<rect x="778" y="454" width="49" height="2" fill="#8c6c78"/>
<rect x="778" y="450" width="49" height="2" fill="#8c6c78"/>
<rect x="778" y="443" width="49" height="1" fill="#be4244"/>
<rect x="778" y="452" width="49" height="2" fill="#be4244"/>
<rect x="778" y="440" width="49" height="3" fill="#be4244"/>
<rect x="778" y="458" width="49" height="52" fill="#be4244"/>
<rect x="778" y="464" width="49" height="2" fill="#ae5458"/>
<rect x="778" y="504" width="49" height="1" fill="#ae5458"/>
<rect x="778" y="475" width="49" height="2" fill="#ae5458"/>
<rect x="778" y="480" width="49" height="2" fill="#ae5458"/>
<rect x="778" y="474" width="49" height="1" fill="#ae5458"/>
<rect x="778" y="473" width="49" height="1" fill="#ae5458"/>
<rect x="778" y="503" width="49" height="2" fill="#ae5458"/>
<rect x="778" y="476" width="49" height="3" fill="#ae5458"/>
<rect x="778" y="496" width="49" height="1" fill="#ae5458"/>
<rect x="778" y="503" width="49" height="1" fill="#ae5458"/>
<rect x="778" y="470" width="49" height="1" fill="#d22e30"/>
<rect x="778" y="470" width="49" height="2" fill="#d22e30"/>
<rect x="778" y="507" width="49" height="2" fill="#d22e30"/>
<rect x="778" y="510" width="49" height="32" fill="#d22e30"/>
<rect x="778" y="531" width="49" height="2" fill="#be4244"/>
<rect x="778" y="537" width="49" height="2" fill="#be4244"/>
<rect x="778" y="519" width="49" height="2" fill="#be4244"/>
<rect x="778" y="538" width="49" height="2" fill="#be4244"/>
<rect x="778" y="542" width="49" height="24" fill="#e02224"/>
<rect x="778" y="565" width="49" height="1" fill="#d22e30"/>
<rect x="778" y="562" width="49" height="3" fill="#d22e30"/>
<rect x="778" y="566" width="49" height="36" fill="#a65a60"/>
<rect x="778" y="578" width="49" height="3" fill="#8c6c78"/>
<rect x="778" y="580" width="49" height="2" fill="#8c6c78"/>
<rect x="778" y="574" width="49" height="1" fill="#8c6c78"/>
<rect x="778" y="580" width="49" height="3" fill="#8c6c78"/>
<rect x="778" y="598" width="49" height="1" fill="#8c6c78"/>
<rect x="778" y="584" width="49" height="1" fill="#8c6c78"/>
<rect x="778" y="570" width="49" height="1" fill="#be4244"/>
<rect x="778" y="586" width="49" height="2" fill="#be4244"/>
<rect x="778" y="566" width="49" height="2" fill="#be4244"/>
<rect x="778" y="591" width="49" height="1" fill="#be4244"/>
<rect x="778" y="577" width="49" height="1" fill="#be4244"/>
<rect x="778" y="581" width="49" height="1" fill="#be4244"/>
<rect x="778" y="602" width="49" height="6" fill="#e02224"/>
<rect x="778" y="605" width="49" height="2" fill="#d22e30"/>
<rect x="778" y="608" width="49" height="16" fill="#be4244"/>
<rect x="778" y="610" width="49" height="2" fill="#ae5458"/>
<rect x="778" y="616" width="49" height="3" fill="#ae5458"/>
<rect x="778" y="613" width="49" height="1" fill="#d22e30"/>
<rect x="778" y="621" width="49" height="2" fill="#d22e30"/>
<rect x="778" y="624" width="49" height="27" fill="#a65a60"/>
<rect x="778" y="632" width="49" height="2" fill="#8c6c78"/>
<rect x="778" y="648" width="49" height="1" fill="#8c6c78"/>
<rect x="778" y="646" width="49" height="2" fill="#8c6c78"/>
<rect x="778" y="632" width="49" height="1" fill="#8c6c78"/>
<rect x="778" y="646" width="49" height="3" fill="#8c6c78"/>
<rect x="778" y="632" width="49" height="1" fill="#be4244"/>
<rect x="778" y="647" width="49" height="1" fill="#be4244"/>
<rect x="778" y="628" width="49" height="1" fill="#be4244"/>
<rect x="778" y="648" width="49" height="3" fill="#be4244"/>
<rect x="827" y="65" width="49" height="117" fill="#4e52a5"/>
<rect x="827" y="127" width="49" height="1" fill="#62629a"/>
<rect x="827" y="87" width="49" height="1" fill="#62629a"/>
<rect x="827" y="140" width="49" height="1" fill="#62629a"/>
<rect x="827" y="149" width="49" height="1" fill="#62629a"/>
<rect x="827" y="176" width="49" height="2" fill="#62629a"/>
<rect x="827" y="165" width="49" height="2" fill="#62629a"/>
<rect x="827" y="165" width="49" height="3" fill="#62629a"/>
<rect x="827" y="145" width="49" height="2" fill="#62629a"/>
<rect x="827" y="113" width="49" height="2" fill="#62629a"/>
<rect x="827" y="91" width="49" height="1" fill="#62629a"/>
<rect x="827" y="182" width="49" height="16" fill="#96646e"/>
<rect x="827" y="184" width="49" height="1" fill="#8c6c78"/>
<rect x="827" y="185" width="49" height="3" fill="#8c6c78"/>
<rect x="827" y="193" width="49" height="1" fill="#a65a60"/>
<rect x="827" y="191" width="49" height="2" fill="#a65a60"/>
<rect x="827" y="187" width="49" height="2" fill="#a65a60"/>
<rect x="827" y="198" width="49" height="2" fill="#be4244"/>
<rect x="827" y="198" width="49" height="3" fill="#ae5458"/>
<rect x="827" y="199" width="49" height="1" fill="#d22e30"/>
<rect x="827" y="200" width="49" height="122" fill="#4e52a5"/>
<rect x="827" y="318" width="49" height="1" fill="#62629a"/>
<rect x="827" y="281" width="49" height="1" fill="#62629a"/>
<rect x="827" y="216" width="49" height="1" fill="#62629a"/>
<rect x="827" y="211" width="49" height="3" fill="#62629a"/>
<rect x="827" y="253" width="49" height="1" fill="#62629a"/>
<rect x="827" y="209" width="49" height="2" fill="#62629a"/>
<rect x="827" y="201" width="49" height="1" fill="#62629a"/>
<rect x="827" y="234" width="49" height="2" fill="#62629a"/>
<rect x="827" y="251" width="49" height="2" fill="#62629a"/>
<rect x="827" y="210" width="49" height="2" fill="#62629a"/>
<rect x="827" y="322" width="49" height="11" fill="#76728c"/>
<rect x="827" y="331" width="49" height="2" fill="#62629a"/>
<rect x="827" y="324" width="49" height="1" fill="#62629a"/>
<rect x="827" y="329" width="49" height="1" fill="#62629a"/>
<rect x="827" y="324" width="49" height="1" fill="#8c6c78"/>
<rect x="827" y="332" width="49" height="1" fill="#8c6c78"/>
<rect x="827" y="333" width="49" height="13" fill="#96646e"/>
<rect x="827" y="340" width="49" height="1" fill="#8c6c78"/>
<rect x="827" y="337" width="49" height="2" fill="#8c6c78"/>
<rect x="827" y="334" width="49" height="2" fill="#8c6c78"/>
<rect x="827" y="340" width="49" height="1" fill="#a65a60"/>
<rect x="827" y="342" width="49" height="3" fill="#a65a60"/>
<rect x="827" y="346" width="49" height="12" fill="#a65a60"/>
<rect x="827" y="353" width="49" height="1" fill="#8c6c78"/>
<rect x="827" y="352" width="49" height="1" fill="#8c6c78"/>
<rect x="827" y="354" width="49" height="2" fill="#8c6c78"/>
<rect x="827" y="352" width="49" height="3" fill="#be4244"/>
<rect x="827" y="358" width="49" height="8" fill="#96646e"/>
<rect x="827" y="362" width="49" height="2" fill="#8c6c78"/>
<rect x="827" y="359" width="49" height="2" fill="#a65a60"/>
<rect x="827" y="366" width="49" height="72" fill="#a65a60"/>
<rect x="827" y="374" width="49" height="1" fill="#8c6c78"/>
<rect x="827" y="382" width="49" height="2" fill="#8c6c78"/>
<rect x="827" y="404" width="49" height="2" fill="#8c6c78"/>
<rect x="827" y="421" width="49" height="2" fill="#8c6c78"/>
<rect x="827" y="382" width="49" height="3" fill="#8c6c78"/>
<rect x="827" y="404" width="49" height="2" fill="#8c6c78"/>
<rect x="827" y="408" width="49" height="2" fill="#8c6c78"/>
<rect x="827" y="368" width="49" height="2" fill="#8c6c78"/>
<rect x="827" y="434" width="49" height="2" fill="#8c6c78"/>
<rect x="827" y="407" width="49" height="1" fill="#8c6c78"/>
<rect x="827" y="389" width="49" height="1" fill="#8c6c78"/>
<rect x="827" y="367" width="49" height="2" fill="#8c6c78"/>
<rect x="827" y="422" width="49" height="2" fill="#8c6c78"/>
<rect x="827" y="397" width="49" height="2" fill="#be4244"/>
<rect x="827" y="426" width="49" height="2" fill="#be4244"/>
<rect x="827" y="371" width="49" height="1" fill="#be4244"/>
<rect x="827" y="406" width="49" height="1" fill="#be4244"/>
<rect x="827" y="407" width="49" height="2" fill="#be4244"/>
<rect x="827" y="382" width="49" height="3" fill="#be4244"/>
<rect x="827" y="370" width="49" height="1" fill="#be4244"/>
<rect x="827" y="369" width="49" height="2" fill="#be4244"/>
<rect x="827" y="424" width="49" height="1" fill="#be4244"/>
<rect x="827" y="438" width="49" height="20" fill="#d22e30"/>
<rect x="827" y="447" width="49" height="3" fill="#be4244"/>
<rect x="827" y="452" width="49" height="2" fill="#be4244"/>
<rect x="827" y="458" width="49" height="16" fill="#96646e"/>
<rect x="827" y="459" width="49" height="2" fill="#8c6c78"/>
<rect x="827" y="460" width="49" height="2" fill="#8c6c78"/>
<rect x="827" y="462" width="49" height="1" fill="#a65a60"/>
<rect x="827" y="468" width="49" height="2" fill="#a65a60"/>
<rect x="827" y="469" width="49" height="2" fill="#a65a60"/>
<rect x="827" y="474" width="49" height="12" fill="#96646e"/>
<rect x="827" y="477" width="49" height="1" fill="#8c6c78"/>
<rect x="827" y="478" width="49" height="2" fill="#8c6c78"/>
<rect x="827" y="482" width="49" height="1" fill="#a65a60"/>
<rect x="827" y="475" width="49" height="1" fill="#a65a60"/>
<rect x="827" y="484" width="49" height="2" fill="#a65a60"/>
<rect x="827" y="486" width="49" height="28" fill="#96646e"/>
<rect x="827" y="506" width="49" height="1" fill="#8c6c78"/>
<rect x="827" y="505" width="49" height="2" fill="#8c6c78"/>
<rect x="827" y="486" width="49" height="1" fill="#8c6c78"/>
<rect x="827" y="509" width="49" height="2" fill="#8c6c78"/>
<rect x="827" y="488" width="49" height="1" fill="#8c6c78"/>
<rect x="827" y="494" width="49" height="2" fill="#a65a60"/>
<rect x="827" y="510" width="49" height="2" fill="#a65a60"/>
<rect x="827" y="504" width="49" height="1" fill="#a65a60"/>
<rect x="827" y="505" width="49" height="3" fill="#a65a60"/>
<rect x="827" y="514" width="49" height="36" fill="#a65a60"/>
<rect x="827" y="534" width="49" height="3" fill="#8c6c78"/>
<rect x="827" y="523" width="49" height="1" fill="#8c6c78"/>
<rect x="827" y="543" width="49" height="2" fill="#8c6c78"/>
<rect x="827" y="530" width="49" height="2" fill="#8c6c78"/>
<rect x="827" y="527" width="49" height="1" fill="#8c6c78"/>
<rect x="827" y="547" width="49" height="1" fill="#8c6c78"/>
<rect x="827" y="521" width="49" height="2" fill="#be4244"/>
<rect x="827" y="528" width="49" height="1" fill="#be4244"/>
<rect x="827" y="547" width="49" height="3" fill="#be4244"/>
<rect x="827" y="525" width="49" height="3" fill="#be4244"/>
<rect x="827" y="550" width="49" height="10" fill="#96646e"/>
<rect x="827" y="556" width="49" height="3" fill="#8c6c78"/>
<rect x="827" y="557" width="49" height="2" fill="#a65a60"/>
<rect x="827" y="554" width="49" height="1" fill="#a65a60"/>
<rect x="827" y="560" width="49" height="64" fill="#a65a60"/>
<rect x="827" y="618" width="49" height="2" fill="#8c6c78"/>
<rect x="827" y="584" width="49" height="1" fill="#8c6c78"/>
<rect x="827" y="574" width="49" height="1" fill="#8c6c78"/>
<rect x="827" y="575" width="49" height="2" fill="#8c6c78"/>
<rect x="827" y="610" width="49" height="2" fill="#8c6c78"/>
<rect x="827" y="573" width="49" height="2" fill="#8c6c78"/>
<rect x="827" y="597" width="49" height="1" fill="#8c6c78"/>
<rect x="827" y="590" width="49" height="1" fill="#8c6c78"/>
<rect x="827" y="622" width="49" height="2" fill="#8c6c78"/>
<rect x="827" y="571" width="49" height="3" fill="#8c6c78"/>
<rect x="827" y="573" width="49" height="2" fill="#8c6c78"/>
<rect x="827" y="586" width="49" height="2" fill="#8c6c78"/>
<rect x="827" y="604" width="49" height="1" fill="#be4244"/>
<rect x="827" y="619" width="49" height="2" fill="#be4244"/>
<rect x="827" y="561" width="49" height="2" fill="#be4244"/>
<rect x="827" y="607" width="49" height="1" fill="#be4244"/>
<rect x="827" y="584" width="49" height="2" fill="#be4244"/>
<rect x="827" y="604" width="49" height="3" fill="#be4244"/>
<rect x="827" y="566" width="49" height="2" fill="#be4244"/>
<rect x="827" y="570" width="49" height="1" fill="#be4244"/>
<rect x="827" y="624" width="49" height="4" fill="#be4244"/>
<rect x="827" y="624" width="49" height="2" fill="#ae5458"/>
<rect x="827" y="626" width="49" height="1" fill="#d22e30"/>
<rect x="827" y="628" width="49" height="23" fill="#96646e"/>
<rect x="827" y="628" width="49" height="1" fill="#8c6c78"/>
<rect x="827" y="646" width="49" height="2" fill="#8c6c78"/>
<rect x="827" y="630" width="49" height="2" fill="#8c6c78"/>
<rect x="827" y="635" width="49" height="2" fill="#8c6c78"/>
<rect x="827" y="642" width="49" height="2" fill="#a65a60"/>
<rect x="827" y="636" width="49" height="2" fill="#a65a60"/>
<rect x="827" y="639" width="49" height="1" fill="#a65a60"/>
<rect x="827" y="631" width="49" height="1" fill="#a65a60"/>
<rect x="827" y="631" width="49" height="2" fill="#a65a60"/>
<rect x="876" y="65" width="49" height="133" fill="#4e52a5"/>
<rect x="876" y="106" width="49" height="1" fill="#62629a"/>
<rect x="876" y="128" width="49" height="2" fill="#62629a"/>
<rect x="876" y="83" width="49" height="3" fill="#62629a"/>
<rect x="876" y="136" width="49" height="3" fill="#62629a"/>
<rect x="876" y="160" width="49" height="2" fill="#62629a"/>
<rect x="876" y="114" width="49" height="3" fill="#62629a"/>
<rect x="876" y="175" width="49" height="1" fill="#62629a"/>
<rect x="876" y="158" width="49" height="2" fill="#62629a"/>
<rect x="876" y="198" width="49" height="2" fill="#be4244"/>
<rect x="876" y="198" width="49" height="2" fill="#ae5458"/>
<rect x="876" y="198" width="49" height="2" fill="#d22e30"/>
<rect x="876" y="200" width="49" height="122" fill="#4e52a5"/>
<rect x="876" y="212" width="49" height="1" fill="#62629a"/>
<rect x="876" y="242" width="49" height="1" fill="#62629a"/>
<rect x="876" y="217" width="49" height="1" fill="#62629a"/>
<rect x="876" y="290" width="49" height="1" fill="#62629a"/>
<rect x="876" y="268" width="49" height="2" fill="#62629a"/>
<rect x="876" y="235" width="49" height="3" fill="#62629a"/>
<rect x="876" y="208" width="49" height="3" fill="#62629a"/>
<rect x="876" y="268" width="49" height="1" fill="#62629a"/>
<rect x="876" y="280" width="49" height="2" fill="#62629a"/>
<rect x="876" y="322" width="49" height="11" fill="#76728c"/>
<rect x="876" y="324" width="49" height="2" fill="#62629a"/>
<rect x="876" y="324" width="49" height="3" fill="#62629a"/>
<rect x="876" y="323" width="49" height="2" fill="#8c6c78"/>
<rect x="876" y="333" width="49" height="13" fill="#a65a60"/>
<rect x="876" y="334" width="49" height="2" fill="#8c6c78"/>
<rect x="876" y="343" width="49" height="2" fill="#8c6c78"/>
<rect x="876" y="339" width="49" height="1" fill="#be4244"/>
<rect x="876" y="336" width="49" height="1" fill="#be4244"/>
<rect x="876" y="346" width="49" height="12" fill="#be4244"/>
<rect x="876" y="348" width="49" height="2" fill="#ae5458"/>
<rect x="876" y="350" width="49" height="1" fill="#ae5458"/>
<rect x="876" y="348" width="49" height="3" fill="#ae5458"/>
<rect x="876" y="354" width="49" height="1" fill="#d22e30"/>
<rect x="876" y="358" width="49" height="4" fill="#96646e"/>
<rect x="876" y="360" width="49" height="2" fill="#8c6c78"/>
<rect x="876" y="359" width="49" height="2" fill="#a65a60"/>
<rect x="876" y="362" width="49" height="76" fill="#a65a60"/>
<rect x="876" y="424" width="49" height="3" fill="#8c6c78"/>
<rect x="876" y="414" width="49" height="2" fill="#8c6c78"/>
<rect x="876" y="430" width="49" height="1" fill="#8c6c78"/>
<rect x="876" y="389" width="49" height="1" fill="#8c6c78"/>
<rect x="876" y="430" width="49" height="1" fill="#8c6c78"/>
<rect x="876" y="366" width="49" height="2" fill="#8c6c78"/>
<rect x="876" y="425" width="49" height="2" fill="#8c6c78"/>
<rect x="876" y="397" width="49" height="1" fill="#8c6c78"/>
<rect x="876" y="428" width="49" height="2" fill="#8c6c78"/>
<rect x="876" y="364" width="49" height="1" fill="#8c6c78"/>
<rect x="876" y="386" width="49" height="2" fill="#8c6c78"/>
<rect x="876" y="404" width="49" height="2" fill="#8c6c78"/>
<rect x="876" y="423" width="49" height="1" fill="#8c6c78"/>
<rect x="876" y="410" width="49" height="1" fill="#8c6c78"/>
<rect x="876" y="408" width="49" height="2" fill="#8c6c78"/>
<rect x="876" y="364" width="49" height="2" fill="#8c6c78"/>
<rect x="876" y="431" width="49" height="3" fill="#be4244"/>
<rect x="876" y="409" width="49" height="1" fill="#be4244"/>
<rect x="876" y="402" width="49" height="2" fill="#be4244"/>
<rect x="876" y="393" width="49" height="2" fill="#be4244"/>
<rect x="876" y="367" width="49" height="2" fill="#be4244"/>
<rect x="876" y="427" width="49" height="2" fill="#be4244"/>
<rect x="876" y="434" width="49" height="2" fill="#be4244"/>
<rect x="876" y="365" width="49" height="2" fill="#be4244"/>
<rect x="876" y="438" width="49" height="12" fill="#e02224"/>
<rect x="876" y="446" width="49" height="1" fill="#d22e30"/>
<rect x="876" y="441" width="49" height="2" fill="#d22e30"/>
<rect x="876" y="450" width="49" height="8" fill="#be4244"/>
<rect x="876" y="453" width="49" height="2" fill="#ae5458"/>
<rect x="876" y="451" width="49" height="1" fill="#ae5458"/>
<rect x="876" y="452" width="49" height="1" fill="#d22e30"/>
<rect x="876" y="458" width="49" height="60" fill="#a65a60"/>
<rect x="876" y="498" width="49" height="1" fill="#8c6c78"/>
<rect x="876" y="489" width="49" height="1" fill="#8c6c78"/>
<rect x="876" y="515" width="49" height="2" fill="#8c6c78"/>
<rect x="876" y="472" width="49" height="1" fill="#8c6c78"/>
<rect x="876" y="507" width="49" height="2" fill="#8c6c78"/>
<rect x="876" y="463" width="49" height="2" fill="#8c6c78"/>
<rect x="876" y="509" width="49" height="2" fill="#8c6c78"/>
<rect x="876" y="513" width="49" height="3" fill="#8c6c78"/>
<rect x="876" y="473" width="49" height="2" fill="#8c6c78"/>
<rect x="876" y="510" width="49" height="1" fill="#8c6c78"/>
<rect x="876" y="505" width="49" height="2" fill="#8c6c78"/>
<rect x="876" y="499" width="49" height="1" fill="#be4244"/>
<rect x="876" y="467" width="49" height="3" fill="#be4244"/>
<rect x="876" y="507" width="49" height="1" fill="#be4244"/>
<rect x="876" y="478" width="49" height="1" fill="#be4244"/>
<rect x="876" y="486" width="49" height="3" fill="#be4244"/>
<rect x="876" y="475" width="49" height="2" fill="#be4244"/>
<rect x="876" y="475" width="49" height="2" fill="#be4244"/>
<rect x="876" y="518" width="49" height="10" fill="#d22e30"/>
<rect x="876" y="523" width="49" height="3" fill="#be4244"/>
<rect x="876" y="528" width="49" height="96" fill="#a65a60"/>
<rect x="876" y="550" width="49" height="2" fill="#8c6c78"/>
<rect x="876" y="562" width="49" height="1" fill="#8c6c78"/>
<rect x="876" y="545" width="49" height="3" fill="#8c6c78"/>
<rect x="876" y="597" width="49" height="2" fill="#8c6c78"/>
<rect x="876" y="622" width="49" height="1" fill="#8c6c78"/>
<rect x="876" y="612" width="49" height="1" fill="#8c6c78"/>
<rect x="876" y="539" width="49" height="1" fill="#8c6c78"/>
<rect x="876" y="576" width="49" height="2" fill="#8c6c78"/>
<rect x="876" y="573" width="49" height="3" fill="#8c6c78"/>
<rect x="876" y="587" width="49" height="1" fill="#8c6c78"/>
<rect x="876" y="610" width="49" height="2" fill="#8c6c78"/>
<rect x="876" y="561" width="49" height="1" fill="#8c6c78"/>
<rect x="876" y="576" width="49" height="2" fill="#8c6c78"/>
<rect x="876" y="564" width="49" height="3" fill="#8c6c78"/>
<rect x="876" y="587" width="49" height="3" fill="#8c6c78"/>
<rect x="876" y="596" width="49" height="1" fill="#8c6c78"/>
<rect x="876" y="545" width="49" height="2" fill="#be4244"/>
<rect x="876" y="608" width="49" height="1" fill="#be4244"/>
<rect x="876" y="582" width="49" height="1" fill="#be4244"/>
<rect x="876" y="588" width="49" height="2" fill="#be4244"/>
<rect x="876" y="587" width="49" height="1" fill="#be4244"/>
<rect x="876" y="604" width="49" height="1" fill="#be4244"/>
<rect x="876" y="547" width="49" height="1" fill="#be4244"/>
<rect x="876" y="591" width="49" height="2" fill="#be4244"/>
<rect x="876" y="590" width="49" height="1" fill="#be4244"/>
<rect x="876" y="573" width="49" height="1" fill="#be4244"/>
<rect x="876" y="616" width="49" height="3" fill="#be4244"/>
<rect x="876" y="553" width="49" height="1" fill="#be4244"/>
<rect x="876" y="568" width="49" height="1" fill="#be4244"/>
<rect x="876" y="590" width="49" height="3" fill="#be4244"/>
<rect x="876" y="624" width="49" height="4" fill="#d22e30"/>
<rect x="876" y="626" width="49" height="2" fill="#be4244"/>
<rect x="876" y="628" width="49" height="23" fill="#96646e"/>
<rect x="876" y="629" width="49" height="1" fill="#8c6c78"/>
<rect x="876" y="648" width="49" height="3" fill="#8c6c78"/>
<rect x="876" y="632" width="49" height="1" fill="#8c6c78"/>
<rect x="876" y="644" width="49" height="1" fill="#8c6c78"/>
<rect x="876" y="637" width="49" height="1" fill="#a65a60"/>
<rect x="876" y="646" width="49" height="1" fill="#a65a60"/>
<rect x="876" y="632" width="49" height="2" fill="#a65a60"/>
<rect x="876" y="635" width="49" height="1" fill="#a65a60"/>
<rect x="876" y="634" width="49" height="3" fill="#a65a60"/>
<rect x="936" y="65" width="49" height="19" fill="#4e52a5"/>
<rect x="936" y="77" width="49" height="2" fill="#62629a"/>
<rect x="936" y="78" width="49" height="2" fill="#62629a"/>
<rect x="936" y="84" width="49" height="2" fill="#76728c"/>
<rect x="936" y="84" width="49" height="2" fill="#62629a"/>
<rect x="936" y="84" width="49" height="3" fill="#8c6c78"/>
<rect x="936" y="86" width="49" height="10" fill="#4e52a5"/>
<rect x="936" y="93" width="49" height="1" fill="#62629a"/>
<rect x="936" y="96" width="49" height="32" fill="#4e52a5"/>
<rect x="936" y="110" width="49" height="1" fill="#62629a"/>
<rect x="936" y="113" width="49" height="1" fill="#62629a"/>
<rect x="936" y="123" width="49" height="1" fill="#62629a"/>
<rect x="936" y="100" width="49" height="2" fill="#62629a"/>
<rect x="936" y="123" width="49" height="1" fill="#62629a"/>
<rect x="936" y="113" width="49" height="2" fill="#62629a"/>
<rect x="936" y="104" width="49" height="1" fill="#62629a"/>
<rect x="936" y="104" width="49" height="2" fill="#62629a"/>
<rect x="936" y="99" width="49" height="1" fill="#62629a"/>
<rect x="936" y="107" width="49" height="1" fill="#76728c"/>
<rect x="936" y="113" width="49" height="2" fill="#76728c"/>
<rect x="936" y="98" width="49" height="1" fill="#76728c"/>
<rect x="936" y="128" width="49" height="60" fill="#4e52a5"/>
<rect x="936" y="167" width="49" height="2" fill="#62629a"/>
<rect x="936" y="139" width="49" height="1" fill="#62629a"/>
<rect x="936" y="136" width="49" height="2" fill="#62629a"/>
<rect x="936" y="187" width="49" height="1" fill="#62629a"/>
<rect x="936" y="156" width="49" height="2" fill="#62629a"/>
<rect x="936" y="188" width="49" height="3" fill="#76728c"/>
<rect x="936" y="188" width="49" height="2" fill="#62629a"/>
<rect x="936" y="188" width="49" height="2" fill="#8c6c78"/>
<rect x="936" y="191" width="49" height="7" fill="#be4244"/>
<rect x="936" y="192" width="49" height="1" fill="#ae5458"/>
<rect x="936" y="194" width="49" height="2" fill="#ae5458"/>
<rect x="936" y="192" width="49" height="2" fill="#d22e30"/>
<rect x="936" y="198" width="49" height="17" fill="#4e52a5"/>
<rect x="936" y="213" width="49" height="1" fill="#62629a"/>
<rect x="936" y="214" width="49" height="1" fill="#62629a"/>
<rect x="936" y="207" width="49" height="2" fill="#62629a"/>
<rect x="936" y="199" width="49" height="3" fill="#62629a"/>
<rect x="936" y="213" width="49" height="1" fill="#76728c"/>
<rect x="936" y="200" width="49" height="2" fill="#76728c"/>
<rect x="936" y="215" width="49" height="17" fill="#96646e"/>
<rect x="936" y="219" width="49" height="1" fill="#8c6c78"/>
<rect x="936" y="227" width="49" height="1" fill="#8c6c78"/>
<rect x="936" y="216" width="49" height="1" fill="#8c6c78"/>
<rect x="936" y="215" width="49" height="2" fill="#8c6c78"/>
<rect x="936" y="216" width="49" height="1" fill="#a65a60"/>
<rect x="936" y="215" width="49" height="2" fill="#a65a60"/>
<rect x="936" y="219" width="49" height="2" fill="#a65a60"/>
<rect x="936" y="232" width="49" height="26" fill="#4e52a5"/>
<rect x="936" y="252" width="49" height="1" fill="#62629a"/>
<rect x="936" y="243" width="49" height="3" fill="#62629a"/>
<rect x="936" y="258" width="49" height="34" fill="#4e52a5"/>
<rect x="936" y="284" width="49" height="2" fill="#62629a"/>
<rect x="936" y="282" width="49" height="3" fill="#62629a"/>
<rect x="936" y="289" width="49" height="1" fill="#62629a"/>
<rect x="936" y="271" width="49" height="2" fill="#62629a"/>
<rect x="936" y="271" width="49" height="3" fill="#62629a"/>
<rect x="936" y="259" width="49" height="2" fill="#62629a"/>
<rect x="936" y="263" width="49" height="2" fill="#62629a"/>
<rect x="936" y="271" width="49" height="1" fill="#76728c"/>
<rect x="936" y="274" width="49" height="2" fill="#76728c"/>
<rect x="936" y="292" width="49" height="7" fill="#a65a60"/>
<rect x="936" y="296" width="49" height="2" fill="#8c6c78"/>
<rect x="936" y="295" width="49" height="2" fill="#8c6c78"/>
<rect x="936" y="294" width="49" height="2" fill="#be4244"/>
<rect x="936" y="299" width="49" height="10" fill="#4e52a5"/>
<rect x="936" y="300" width="49" height="1" fill="#62629a"/>
<rect x="936" y="301" width="49" height="3" fill="#62629a"/>
<rect x="936" y="301" width="49" height="1" fill="#76728c"/>
<rect x="936" y="309" width="49" height="14" fill="#4e52a5"/>
<rect x="936" y="319" width="49" height="1" fill="#62629a"/>
<rect x="936" y="310" width="49" height="1" fill="#62629a"/>
<rect x="936" y="323" width="49" height="5" fill="#76728c"/>
<rect x="936" y="325" width="49" height="1" fill="#62629a"/>
<rect x="936" y="323" width="49" height="3" fill="#62629a"/>
<rect x="936" y="323" width="49" height="2" fill="#8c6c78"/>
<rect x="936" y="328" width="49" height="5" fill="#be4244"/>
<rect x="936" y="329" width="49" height="1" fill="#ae5458"/>
<rect x="936" y="330" width="49" height="1" fill="#ae5458"/>
<rect x="936" y="330" width="49" height="1" fill="#d22e30"/>
<rect x="936" y="333" width="49" height="27" fill="#96646e"/>
<rect x="936" y="343" width="49" height="1" fill="#8c6c78"/>
<rect x="936" y="357" width="49" height="2" fill="#8c6c78"/>
<rect x="936" y="334" width="49" height="1" fill="#8c6c78"/>
<rect x="936" y="341" width="49" height="1" fill="#8c6c78"/>
<rect x="936" y="336" width="49" height="2" fill="#8c6c78"/>
<rect x="936" y="344" width="49" height="1" fill="#8c6c78"/>
<rect x="936" y="346" width="49" height="1" fill="#a65a60"/>
<rect x="936" y="354" width="49" height="3" fill="#a65a60"/>
<rect x="936" y="335" width="49" height="1" fill="#a65a60"/>
<rect x="936" y="357" width="49" height="2" fill="#a65a60"/>
<rect x="936" y="360" width="49" height="5" fill="#4e52a5"/>
<rect x="936" y="363" width="49" height="2" fill="#62629a"/>
<rect x="936" y="365" width="49" height="46" fill="#96646e"/>
<rect x="936" y="388" width="49" height="2" fill="#8c6c78"/>
<rect x="936" y="372" width="49" height="1" fill="#8c6c78"/>
<rect x="936" y="393" width="49" height="3" fill="#8c6c78"/>
<rect x="936" y="367" width="49" height="3" fill="#8c6c78"/>
<rect x="936" y="392" width="49" height="2" fill="#8c6c78"/>
<rect x="936" y="403" width="49" height="2" fill="#8c6c78"/>
<rect x="936" y="383" width="49" height="3" fill="#a65a60"/>
<rect x="936" y="406" width="49" height="2" fill="#a65a60"/>
<rect x="936" y="403" width="49" height="1" fill="#a65a60"/>
<rect x="936" y="397" width="49" height="3" fill="#a65a60"/>
<rect x="936" y="394" width="49" height="2" fill="#a65a60"/>
<rect x="936" y="402" width="49" height="2" fill="#a65a60"/>
<rect x="936" y="411" width="49" height="8" fill="#4e52a5"/>
<rect x="936" y="412" width="49" height="2" fill="#62629a"/>
<rect x="936" y="419" width="49" height="11" fill="#76728c"/>
<rect x="936" y="424" width="49" height="2" fill="#62629a"/>
<rect x="936" y="424" width="49" height="1" fill="#62629a"/>
<rect x="936" y="424" width="49" height="1" fill="#8c6c78"/>
<rect x="936" y="423" width="49" height="2" fill="#8c6c78"/>
<rect x="936" y="430" width="49" height="8" fill="#be4244"/>
<rect x="936" y="430" width="49" height="2" fill="#ae5458"/>
<rect x="936" y="437" width="49" height="1" fill="#ae5458"/>
<rect x="936" y="434" width="49" height="1" fill="#d22e30"/>
<rect x="936" y="438" width="49" height="16" fill="#96646e"/>
<rect x="936" y="452" width="49" height="2" fill="#8c6c78"/>
<rect x="936" y="446" width="49" height="3" fill="#8c6c78"/>
<rect x="936" y="449" width="49" height="1" fill="#a65a60"/>
<rect x="936" y="444" width="49" height="2" fill="#a65a60"/>
<rect x="936" y="449" width="49" height="1" fill="#a65a60"/>
<rect x="936" y="454" width="49" height="5" fill="#a65a60"/>
<rect x="936" y="454" width="49" height="2" fill="#8c6c78"/>
<rect x="936" y="457" width="49" height="1" fill="#be4244"/>
<rect x="936" y="459" width="49" height="3" fill="#4e52a5"/>
<rect x="936" y="459" width="49" height="3" fill="#62629a"/>
<rect x="936" y="462" width="49" height="23" fill="#4e52a5"/>
<rect x="936" y="480" width="49" height="1" fill="#62629a"/>
<rect x="936" y="473" width="49" height="1" fill="#62629a"/>
<rect x="936" y="463" width="49" height="2" fill="#62629a"/>
<rect x="936" y="478" width="49" height="1" fill="#62629a"/>
<rect x="936" y="473" width="49" height="2" fill="#62629a"/>
<rect x="936" y="472" width="49" height="1" fill="#62629a"/>
<rect x="936" y="462" width="49" height="2" fill="#62629a"/>
<rect x="936" y="466" width="49" height="2" fill="#76728c"/>
<rect x="936" y="485" width="49" height="8" fill="#a65a60"/>
<rect x="936" y="491" width="49" height="2" fill="#8c6c78"/>
<rect x="936" y="486" width="49" height="1" fill="#8c6c78"/>
<rect x="936" y="488" width="49" height="2" fill="#be4244"/>
<rect x="936" y="493" width="49" height="14" fill="#76728c"/>
<rect x="936" y="504" width="49" height="2" fill="#62629a"/>
<rect x="936" y="503" width="49" height="1" fill="#62629a"/>
<rect x="936" y="503" width="49" height="1" fill="#62629a"/>
<rect x="936" y="505" width="49" height="2" fill="#8c6c78"/>
<rect x="936" y="503" width="49" height="1" fill="#8c6c78"/>
<rect x="936" y="507" width="49" height="12" fill="#a65a60"/>
<rect x="936" y="516" width="49" height="1" fill="#8c6c78"/>
<rect x="936" y="508" width="49" height="1" fill="#8c6c78"/>
<rect x="936" y="517" width="49" height="1" fill="#8c6c78"/>
<rect x="936" y="516" width="49" height="1" fill="#8c6c78"/>
<rect x="936" y="512" width="49" height="1" fill="#be4244"/>
<rect x="936" y="511" width="49" height="2" fill="#be4244"/>
<rect x="936" y="519" width="49" height="45" fill="#4e52a5"/>
<rect x="936" y="545" width="49" height="3" fill="#62629a"/>
<rect x="936" y="522" width="49" height="2" fill="#62629a"/>
<rect x="936" y="528" width="49" height="3" fill="#62629a"/>
<rect x="936" y="532" width="49" height="3" fill="#62629a"/>
<rect x="936" y="560" width="49" height="3" fill="#62629a"/>
<rect x="936" y="548" width="49" height="2" fill="#62629a"/>
<rect x="936" y="535" width="49" height="2" fill="#62629a"/>
<rect x="936" y="549" width="49" height="2" fill="#76728c"/>
<rect x="936" y="559" width="49" height="3" fill="#76728c"/>
<rect x="936" y="564" width="49" height="67" fill="#a65a60"/>
<rect x="936" y="603" width="49" height="3" fill="#8c6c78"/>
<rect x="936" y="577" width="49" height="3" fill="#8c6c78"/>
<rect x="936" y="575" width="49" height="1" fill="#8c6c78"/>
<rect x="936" y="594" width="49" height="2" fill="#8c6c78"/>
<rect x="936" y="582" width="49" height="1" fill="#8c6c78"/>
<rect x="936" y="626" width="49" height="1" fill="#8c6c78"/>
<rect x="936" y="604" width="49" height="2" fill="#8c6c78"/>
<rect x="936" y="577" width="49" height="1" fill="#8c6c78"/>
<rect x="936" y="610" width="49" height="1" fill="#8c6c78"/>
<rect x="936" y="610" width="49" height="3" fill="#8c6c78"/>
<rect x="936" y="614" width="49" height="2" fill="#8c6c78"/>
<rect x="936" y="574" width="49" height="1" fill="#be4244"/>
<rect x="936" y="581" width="49" height="3" fill="#be4244"/>
<rect x="936" y="618" width="49" height="1" fill="#be4244"/>
<rect x="936" y="582" width="49" height="2" fill="#be4244"/>
<rect x="936" y="597" width="49" height="1" fill="#be4244"/>
<rect x="936" y="587" width="49" height="1" fill="#be4244"/>
<rect x="936" y="591" width="49" height="3" fill="#be4244"/>
<rect x="936" y="602" width="49" height="2" fill="#be4244"/>
<rect x="936" y="631" width="49" height="10" fill="#be4244"/>
<rect x="936" y="632" width="49" height="2" fill="#ae5458"/>
<rect x="936" y="639" width="49" height="2" fill="#ae5458"/>
<rect x="936" y="637" width="49" height="1" fill="#d22e30"/>
<rect x="936" y="641" width="49" height="10" fill="#76728c"/>
<rect x="936" y="643" width="49" height="2" fill="#62629a"/>
<rect x="936" y="644" width="49" height="2" fill="#62629a"/>
<rect x="936" y="644" width="49" height="3" fill="#8c6c78"/>
<rect x="985" y="65" width="49" height="9" fill="#76728c"/>
<rect x="985" y="69" width="49" height="1" fill="#62629a"/>
<rect x="985" y="68" width="49" height="1" fill="#62629a"/>
<rect x="985" y="67" width="49" height="2" fill="#62629a"/>
<rect x="985" y="70" width="49" height="2" fill="#8c6c78"/>
<rect x="985" y="74" width="49" height="7" fill="#a65a60"/>
<rect x="985" y="76" width="49" height="1" fill="#8c6c78"/>
<rect x="985" y="74" width="49" height="3" fill="#8c6c78"/>
<rect x="985" y="75" width="49" height="2" fill="#be4244"/>
<rect x="985" y="81" width="49" height="6" fill="#76728c"/>
<rect x="985" y="82" width="49" height="2" fill="#62629a"/>
<rect x="985" y="85" width="49" height="2" fill="#8c6c78"/>
<rect x="985" y="87" width="49" height="9" fill="#a65a60"/>
<rect x="985" y="90" width="49" height="1" fill="#8c6c78"/>
<rect x="985" y="90" width="49" height="1" fill="#8c6c78"/>
<rect x="985" y="88" width="49" height="2" fill="#be4244"/>
<rect x="985" y="96" width="49" height="17" fill="#4e52a5"/>
<rect x="985" y="97" width="49" height="3" fill="#62629a"/>
<rect x="985" y="97" width="49" height="1" fill="#62629a"/>
<rect x="985" y="96" width="49" height="2" fill="#62629a"/>
<rect x="985" y="108" width="49" height="1" fill="#62629a"/>
<rect x="985" y="106" width="49" height="3" fill="#76728c"/>
<rect x="985" y="113" width="49" height="10" fill="#be4244"/>
<rect x="985" y="119" width="49" height="1" fill="#ae5458"/>
<rect x="985" y="117" width="49" height="1" fill="#ae5458"/>
<rect x="985" y="114" width="49" height="2" fill="#ae5458"/>
<rect x="985" y="116" width="49" height="2" fill="#d22e30"/>
<rect x="985" y="123" width="49" height="24" fill="#4e52a5"/>
<rect x="985" y="137" width="49" height="3" fill="#62629a"/>
<rect x="985" y="145" width="49" height="1" fill="#62629a"/>
<rect x="985" y="146" width="49" height="1" fill="#62629a"/>
<rect x="985" y="133" width="49" height="2" fill="#62629a"/>
<rect x="985" y="138" width="49" height="1" fill="#62629a"/>
<rect x="985" y="125" width="49" height="3" fill="#62629a"/>
<rect x="985" y="125" width="49" height="1" fill="#76728c"/>
<rect x="985" y="137" width="49" height="2" fill="#76728c"/>
<rect x="985" y="147" width="49" height="24" fill="#76728c"/>
<rect x="985" y="167" width="49" height="3" fill="#62629a"/>
<rect x="985" y="169" width="49" height="2" fill="#62629a"/>
<rect x="985" y="158" width="49" height="1" fill="#62629a"/>
<rect x="985" y="159" width="49" height="1" fill="#8c6c78"/>
<rect x="985" y="164" width="49" height="1" fill="#8c6c78"/>
<rect x="985" y="147" width="49" height="1" fill="#8c6c78"/>
<rect x="985" y="162" width="49" height="3" fill="#8c6c78"/>
<rect x="985" y="171" width="49" height="10" fill="#96646e"/>
<rect x="985" y="177" width="49" height="3" fill="#8c6c78"/>
<rect x="985" y="177" width="49" height="3" fill="#a65a60"/>
<rect x="985" y="181" width="49" height="17" fill="#4e52a5"/>
<rect x="985" y="188" width="49" height="3" fill="#62629a"/>
<rect x="985" y="198" width="49" height="17" fill="#4e52a5"/>
<rect x="985" y="205" width="49" height="1" fill="#62629a"/>
<rect x="985" y="198" width="49" height="1" fill="#62629a"/>
<rect x="985" y="213" width="49" height="1" fill="#62629a"/>
<rect x="985" y="200" width="49" height="1" fill="#62629a"/>
<rect x="985" y="206" width="49" height="2" fill="#62629a"/>
<rect x="985" y="213" width="49" height="2" fill="#76728c"/>
<rect x="985" y="215" width="49" height="7" fill="#4e52a5"/>
<rect x="985" y="217" width="49" height="1" fill="#62629a"/>
<rect x="985" y="222" width="49" height="17" fill="#d22e30"/>
<rect x="985" y="230" width="49" height="2" fill="#be4244"/>
<rect x="985" y="231" width="49" height="1" fill="#be4244"/>
<rect x="985" y="233" width="49" height="1" fill="#be4244"/>
<rect x="985" y="239" width="49" height="26" fill="#a65a60"/>
<rect x="985" y="251" width="49" height="2" fill="#8c6c78"/>
<rect x="985" y="248" width="49" height="1" fill="#8c6c78"/>
<rect x="985" y="245" width="49" height="1" fill="#8c6c78"/>
<rect x="985" y="250" width="49" height="2" fill="#8c6c78"/>
<rect x="985" y="254" width="49" height="1" fill="#8c6c78"/>
<rect x="985" y="253" width="49" height="1" fill="#8c6c78"/>
<rect x="985" y="242" width="49" height="2" fill="#be4244"/>
<rect x="985" y="259" width="49" height="1" fill="#be4244"/>
<rect x="985" y="243" width="49" height="2" fill="#be4244"/>
<rect x="985" y="252" width="49" height="2" fill="#be4244"/>
<rect x="985" y="265" width="49" height="10" fill="#e02224"/>
<rect x="985" y="270" width="49" height="2" fill="#d22e30"/>
<rect x="985" y="275" width="49" height="5" fill="#be4244"/>
<rect x="985" y="277" width="49" height="3" fill="#ae5458"/>
<rect x="985" y="277" width="49" height="2" fill="#d22e30"/>
<rect x="985" y="280" width="49" height="9" fill="#d22e30"/>
<rect x="985" y="281" width="49" height="1" fill="#be4244"/>
<rect x="985" y="286" width="49" height="1" fill="#be4244"/>
<rect x="985" y="289" width="49" height="10" fill="#76728c"/>
<rect x="985" y="292" width="49" height="3" fill="#62629a"/>
<rect x="985" y="294" width="49" height="1" fill="#8c6c78"/>
<rect x="985" y="293" width="49" height="1" fill="#8c6c78"/>
<rect x="985" y="299" width="49" height="8" fill="#a65a60"/>
<rect x="985" y="301" width="49" height="2" fill="#8c6c78"/>
<rect x="985" y="303" width="49" height="2" fill="#8c6c78"/>
<rect x="985" y="302" width="49" height="1" fill="#be4244"/>
<rect x="985" y="300" width="49" height="1" fill="#be4244"/>
<rect x="985" y="307" width="49" height="14" fill="#be4244"/>
<rect x="985" y="314" width="49" height="1" fill="#ae5458"/>
<rect x="985" y="317" width="49" height="3" fill="#ae5458"/>
<rect x="985" y="318" width="49" height="2" fill="#d22e30"/>
<rect x="985" y="321" width="49" height="8" fill="#e02224"/>
<rect x="985" y="326" width="49" height="1" fill="#d22e30"/>
<rect x="985" y="329" width="49" height="4" fill="#be4244"/>
<rect x="985" y="331" width="49" height="2" fill="#ae5458"/>
<rect x="985" y="331" width="49" height="2" fill="#d22e30"/>
<rect x="985" y="333" width="49" height="78" fill="#4e52a5"/>
<rect x="985" y="363" width="49" height="1" fill="#62629a"/>
<rect x="985" y="353" width="49" height="2" fill="#62629a"/>
<rect x="985" y="353" width="49" height="2" fill="#62629a"/>
<rect x="985" y="339" width="49" height="2" fill="#62629a"/>
<rect x="985" y="362" width="49" height="2" fill="#62629a"/>
<rect x="985" y="365" width="49" height="3" fill="#62629a"/>
<rect x="985" y="342" width="49" height="2" fill="#62629a"/>
<rect x="985" y="397" width="49" height="1" fill="#62629a"/>
<rect x="985" y="346" width="49" height="1" fill="#62629a"/>
<rect x="985" y="375" width="49" height="2" fill="#62629a"/>
<rect x="985" y="395" width="49" height="2" fill="#62629a"/>
<rect x="985" y="340" width="49" height="3" fill="#62629a"/>
<rect x="985" y="335" width="49" height="2" fill="#62629a"/>
<rect x="985" y="370" width="49" height="2" fill="#62629a"/>
<rect x="985" y="373" width="49" height="1" fill="#62629a"/>
<rect x="985" y="370" width="49" height="2" fill="#62629a"/>
<rect x="985" y="362" width="49" height="1" fill="#62629a"/>
<rect x="985" y="406" width="49" height="2" fill="#62629a"/>
<rect x="985" y="386" width="49" height="1" fill="#76728c"/>
<rect x="985" y="407" width="49" height="1" fill="#76728c"/>
<rect x="985" y="407" width="49" height="1" fill="#76728c"/>
<rect x="985" y="361" width="49" height="3" fill="#76728c"/>
<rect x="985" y="411" width="49" height="8" fill="#a65a60"/>
<rect x="985" y="412" width="49" height="2" fill="#8c6c78"/>
<rect x="985" y="411" width="49" height="2" fill="#8c6c78"/>
<rect x="985" y="414" width="49" height="1" fill="#be4244"/>
<rect x="985" y="416" width="49" height="2" fill="#be4244"/>
<rect x="985" y="419" width="49" height="35" fill="#4e52a5"/>
<rect x="985" y="421" width="49" height="1" fill="#62629a"/>
<rect x="985" y="426" width="49" height="1" fill="#62629a"/>
<rect x="985" y="428" width="49" height="2" fill="#62629a"/>
<rect x="985" y="440" width="49" height="2" fill="#62629a"/>
<rect x="985" y="432" width="49" height="2" fill="#62629a"/>
<rect x="985" y="438" width="49" height="2" fill="#62629a"/>
<rect x="985" y="422" width="49" height="1" fill="#62629a"/>
<rect x="985" y="447" width="49" height="1" fill="#62629a"/>
<rect x="985" y="420" width="49" height="2" fill="#62629a"/>
<rect x="985" y="447" width="49" height="1" fill="#62629a"/>
<rect x="985" y="441" width="49" height="1" fill="#76728c"/>
<rect x="985" y="453" width="49" height="1" fill="#76728c"/>
<rect x="985" y="421" width="49" height="2" fill="#76728c"/>
<rect x="985" y="454" width="49" height="8" fill="#96646e"/>
<rect x="985" y="455" width="49" height="2" fill="#8c6c78"/>
<rect x="985" y="460" width="49" height="1" fill="#a65a60"/>
<rect x="985" y="458" width="49" height="3" fill="#a65a60"/>
<rect x="985" y="462" width="49" height="57" fill="#4e52a5"/>
<rect x="985" y="513" width="49" height="2" fill="#62629a"/>
<rect x="985" y="494" width="49" height="1" fill="#62629a"/>
<rect x="985" y="508" width="49" height="1" fill="#62629a"/>
<rect x="985" y="485" width="49" height="2" fill="#62629a"/>
<rect x="985" y="496" width="49" height="3" fill="#62629a"/>
<rect x="985" y="519" width="49" height="44" fill="#4e52a5"/>
<rect x="985" y="526" width="49" height="1" fill="#62629a"/>
<rect x="985" y="538" width="49" height="1" fill="#62629a"/>
<rect x="985" y="535" width="49" height="1" fill="#62629a"/>
<rect x="985" y="547" width="49" height="2" fill="#62629a"/>
<rect x="985" y="538" width="49" height="1" fill="#62629a"/>
<rect x="985" y="549" width="49" height="3" fill="#62629a"/>
<rect x="985" y="560" width="49" height="1" fill="#62629a"/>
<rect x="985" y="547" width="49" height="2" fill="#62629a"/>
<rect x="985" y="549" width="49" height="2" fill="#62629a"/>
<rect x="985" y="524" width="49" height="3" fill="#62629a"/>
<rect x="985" y="548" width="49" height="2" fill="#62629a"/>
<rect x="985" y="542" width="49" height="3" fill="#76728c"/>
<rect x="985" y="523" width="49" height="1" fill="#76728c"/>
<rect x="985" y="563" width="49" height="13" fill="#76728c"/>
<rect x="985" y="569" width="49" height="2" fill="#62629a"/>
<rect x="985" y="565" width="49" height="1" fill="#62629a"/>
<rect x="985" y="568" width="49" height="2" fill="#62629a"/>
<rect x="985" y="574" width="49" height="1" fill="#8c6c78"/>
<rect x="985" y="565" width="49" height="2" fill="#8c6c78"/>
<rect x="985" y="576" width="49" height="26" fill="#4e52a5"/>
<rect x="985" y="597" width="49" height="3" fill="#62629a"/>
<rect x="985" y="586" width="49" height="2" fill="#62629a"/>
<rect x="985" y="588" width="49" height="2" fill="#62629a"/>
<rect x="985" y="579" width="49" height="2" fill="#62629a"/>
<rect x="985" y="596" width="49" height="3" fill="#62629a"/>
<rect x="985" y="584" width="49" height="2" fill="#76728c"/>
<rect x="985" y="585" width="49" height="1" fill="#76728c"/>
<rect x="985" y="602" width="49" height="10" fill="#4e52a5"/>
<rect x="985" y="608" width="49" height="1" fill="#62629a"/>
<rect x="985" y="607" width="49" height="2" fill="#62629a"/>
<rect x="985" y="612" width="49" height="3" fill="#be4244"/>
<rect x="985" y="613" width="49" height="2" fill="#ae5458"/>
<rect x="985" y="613" width="49" height="2" fill="#d22e30"/>
<rect x="985" y="615" width="49" height="14" fill="#4e52a5"/>
<rect x="985" y="619" width="49" height="2" fill="#62629a"/>
<rect x="985" y="617" width="49" height="2" fill="#62629a"/>
<rect x="985" y="626" width="49" height="3" fill="#62629a"/>
<rect x="985" y="616" width="49" height="2" fill="#76728c"/>
<rect x="985" y="629" width="49" height="12" fill="#a65a60"/>
<rect x="985" y="631" width="49" height="2" fill="#8c6c78"/>
<rect x="985" y="633" width="49" height="1" fill="#8c6c78"/>
<rect x="985" y="635" width="49" height="2" fill="#8c6c78"/>
<rect x="985" y="639" width="49" height="1" fill="#be4244"/>
<rect x="985" y="633" width="49" height="1" fill="#be4244"/>
<rect x="985" y="641" width="49" height="3" fill="#be4244"/>
<rect x="985" y="641" width="49" height="3" fill="#ae5458"/>
<rect x="985" y="641" width="49" height="2" fill="#d22e30"/>
<rect x="985" y="644" width="49" height="7" fill="#a65a60"/>
<rect x="985" y="650" width="49" height="1" fill="#8c6c78"/>
<rect x="985" y="646" width="49" height="2" fill="#8c6c78"/>
<rect x="985" y="645" width="49" height="2" fill="#be4244"/>
<rect x="1034" y="65" width="48" height="5" fill="#d22e30"/>
<rect x="1034" y="68" width="48" height="1" fill="#be4244"/>
<rect x="1034" y="70" width="48" height="40" fill="#a65a60"/>
<rect x="1034" y="96" width="48" height="1" fill="#8c6c78"/>
<rect x="1034" y="102" width="48" height="2" fill="#8c6c78"/>
<rect x="1034" y="109" width="48" height="1" fill="#8c6c78"/>
<rect x="1034" y="92" width="48" height="1" fill="#8c6c78"/>
<rect x="1034" y="89" width="48" height="2" fill="#8c6c78"/>
<rect x="1034" y="76" width="48" height="2" fill="#8c6c78"/>
<rect x="1034" y="101" width="48" height="2" fill="#8c6c78"/>
<rect x="1034" y="80" width="48" height="1" fill="#8c6c78"/>
<rect x="1034" y="79" width="48" height="1" fill="#be4244"/>
<rect x="1034" y="104" width="48" height="1" fill="#be4244"/>
<rect x="1034" y="93" width="48" height="3" fill="#be4244"/>
<rect x="1034" y="76" width="48" height="1" fill="#be4244"/>
<rect x="1034" y="93" width="48" height="1" fill="#be4244"/>
<rect x="1034" y="97" width="48" height="1" fill="#be4244"/>
<rect x="1034" y="110" width="48" height="13" fill="#e02224"/>
<rect x="1034" y="111" width="48" height="2" fill="#d22e30"/>
<rect x="1034" y="118" width="48" height="3" fill="#d22e30"/>
<rect x="1034" y="123" width="48" height="24" fill="#4e52a5"/>
<rect x="1034" y="142" width="48" height="2" fill="#62629a"/>
<rect x="1034" y="144" width="48" height="3" fill="#62629a"/>
<rect x="1034" y="129" width="48" height="1" fill="#62629a"/>
<rect x="1034" y="127" width="48" height="1" fill="#62629a"/>
<rect x="1034" y="138" width="48" height="2" fill="#62629a"/>
<rect x="1034" y="129" width="48" height="1" fill="#62629a"/>
<rect x="1034" y="129" width="48" height="1" fill="#76728c"/>
<rect x="1034" y="129" width="48" height="1" fill="#76728c"/>
<rect x="1034" y="147" width="48" height="20" fill="#a65a60"/>
<rect x="1034" y="162" width="48" height="1" fill="#8c6c78"/>
<rect x="1034" y="150" width="48" height="2" fill="#8c6c78"/>
<rect x="1034" y="150" width="48" height="2" fill="#8c6c78"/>
<rect x="1034" y="162" width="48" height="2" fill="#8c6c78"/>
<rect x="1034" y="149" width="48" height="2" fill="#be4244"/>
<rect x="1034" y="150" width="48" height="3" fill="#be4244"/>
<rect x="1034" y="167" width="48" height="14" fill="#76728c"/>
<rect x="1034" y="175" width="48" height="3" fill="#62629a"/>
<rect x="1034" y="176" width="48" height="2" fill="#62629a"/>
<rect x="1034" y="171" width="48" height="1" fill="#8c6c78"/>
<rect x="1034" y="178" width="48" height="2" fill="#8c6c78"/>
<rect x="1034" y="181" width="48" height="17" fill="#a65a60"/>
<rect x="1034" y="191" width="48" height="2" fill="#8c6c78"/>
<rect x="1034" y="185" width="48" height="2" fill="#8c6c78"/>
<rect x="1034" y="191" width="48" height="2" fill="#8c6c78"/>
<rect x="1034" y="192" width="48" height="2" fill="#be4244"/>
<rect x="1034" y="188" width="48" height="3" fill="#be4244"/>
<rect x="1034" y="198" width="48" height="17" fill="#4e52a5"/>
<rect x="1034" y="209" width="48" height="2" fill="#62629a"/>
<rect x="1034" y="199" width="48" height="1" fill="#62629a"/>
<rect x="1034" y="200" width="48" height="2" fill="#62629a"/>
<rect x="1034" y="208" width="48" height="3" fill="#62629a"/>
<rect x="1034" y="212" width="48" height="1" fill="#76728c"/>
<rect x="1034" y="215" width="48" height="7" fill="#76728c"/>
<rect x="1034" y="221" width="48" height="1" fill="#62629a"/>
<rect x="1034" y="216" width="48" height="1" fill="#62629a"/>
<rect x="1034" y="217" width="48" height="1" fill="#8c6c78"/>
<rect x="1034" y="222" width="48" height="43" fill="#be4244"/>
<rect x="1034" y="225" width="48" height="1" fill="#ae5458"/>
<rect x="1034" y="249" width="48" height="3" fill="#ae5458"/>
<rect x="1034" y="223" width="48" height="1" fill="#ae5458"/>
<rect x="1034" y="228" width="48" height="2" fill="#ae5458"/>
<rect x="1034" y="261" width="48" height="3" fill="#ae5458"/>
<rect x="1034" y="244" width="48" height="2" fill="#ae5458"/>
<rect x="1034" y="244" width="48" height="2" fill="#ae5458"/>
<rect x="1034" y="226" width="48" height="1" fill="#d22e30"/>
<rect x="1034" y="236" width="48" height="3" fill="#d22e30"/>
<rect x="1034" y="265" width="48" height="15" fill="#96646e"/>
<rect x="1034" y="277" width="48" height="2" fill="#8c6c78"/>
<rect x="1034" y="266" width="48" height="3" fill="#8c6c78"/>
<rect x="1034" y="272" width="48" height="1" fill="#a65a60"/>
<rect x="1034" y="275" width="48" height="1" fill="#a65a60"/>
<rect x="1034" y="273" width="48" height="1" fill="#a65a60"/>
<rect x="1034" y="266" width="48" height="2" fill="#a65a60"/>
<rect x="1034" y="280" width="48" height="9" fill="#e02224"/>
<rect x="1034" y="282" width="48" height="1" fill="#d22e30"/>
<rect x="1034" y="289" width="48" height="22" fill="#be4244"/>
<rect x="1034" y="304" width="48" height="1" fill="#ae5458"/>
<rect x="1034" y="309" width="48" height="1" fill="#ae5458"/>
<rect x="1034" y="307" width="48" height="1" fill="#ae5458"/>
<rect x="1034" y="302" width="48" height="1" fill="#ae5458"/>
<rect x="1034" y="309" width="48" height="2" fill="#ae5458"/>
<rect x="1034" y="301" width="48" height="2" fill="#ae5458"/>
<rect x="1034" y="295" width="48" height="2" fill="#d22e30"/>
<rect x="1034" y="311" width="48" height="10" fill="#e02224"/>
<rect x="1034" y="312" width="48" height="1" fill="#d22e30"/>
<rect x="1034" y="312" width="48" height="2" fill="#d22e30"/>
<rect x="1034" y="321" width="48" height="12" fill="#a65a60"/>
<rect x="1034" y="322" width="48" height="1" fill="#8c6c78"/>
<rect x="1034" y="330" width="48" height="2" fill="#8c6c78"/>
<rect x="1034" y="326" width="48" height="1" fill="#8c6c78"/>
<rect x="1034" y="330" width="48" height="1" fill="#8c6c78"/>
<rect x="1034" y="326" width="48" height="3" fill="#be4244"/>
<rect x="1034" y="333" width="48" height="20" fill="#4e52a5"/>
<rect x="1034" y="347" width="48" height="2" fill="#62629a"/>
<rect x="1034" y="347" width="48" height="3" fill="#62629a"/>
<rect x="1034" y="340" width="48" height="1" fill="#62629a"/>
<rect x="1034" y="352" width="48" height="1" fill="#62629a"/>
<rect x="1034" y="341" width="48" height="1" fill="#62629a"/>
<rect x="1034" y="337" width="48" height="2" fill="#76728c"/>
<rect x="1034" y="333" width="48" height="2" fill="#76728c"/>
<rect x="1034" y="353" width="48" height="95" fill="#4e52a5"/>
<rect x="1034" y="378" width="48" height="1" fill="#62629a"/>
<rect x="1034" y="387" width="48" height="2" fill="#62629a"/>
<rect x="1034" y="384" width="48" height="3" fill="#62629a"/>
<rect x="1034" y="385" width="48" height="3" fill="#62629a"/>
<rect x="1034" y="375" width="48" height="3" fill="#62629a"/>
<rect x="1034" y="448" width="48" height="11" fill="#96646e"/>
<rect x="1034" y="450" width="48" height="2" fill="#8c6c78"/>
<rect x="1034" y="450" width="48" height="1" fill="#8c6c78"/>
<rect x="1034" y="452" width="48" height="2" fill="#a65a60"/>
<rect x="1034" y="450" width="48" height="1" fill="#a65a60"/>
<rect x="1034" y="459" width="48" height="60" fill="#4e52a5"/>
<rect x="1034" y="496" width="48" height="3" fill="#62629a"/>
<rect x="1034" y="494" width="48" height="1" fill="#62629a"/>
<rect x="1034" y="474" width="48" height="2" fill="#62629a"/>
<rect x="1034" y="470" width="48" height="1" fill="#62629a"/>
<rect x="1034" y="519" width="48" height="45" fill="#4e52a5"/>
<rect x="1034" y="522" width="48" height="1" fill="#62629a"/>
<rect x="1034" y="533" width="48" height="2" fill="#62629a"/>
<rect x="1034" y="528" width="48" height="3" fill="#62629a"/>
<rect x="1034" y="554" width="48" height="1" fill="#62629a"/>
<rect x="1034" y="523" width="48" height="2" fill="#62629a"/>
<rect x="1034" y="551" width="48" height="3" fill="#62629a"/>
<rect x="1034" y="538" width="48" height="1" fill="#62629a"/>
<rect x="1034" y="537" width="48" height="1" fill="#62629a"/>
<rect x="1034" y="535" width="48" height="1" fill="#62629a"/>
<rect x="1034" y="522" width="48" height="2" fill="#62629a"/>
<rect x="1034" y="563" width="48" height="1" fill="#62629a"/>
<rect x="1034" y="562" width="48" height="2" fill="#76728c"/>
<rect x="1034" y="553" width="48" height="2" fill="#76728c"/>
<rect x="1034" y="564" width="48" height="38" fill="#4e52a5"/>
<rect x="1034" y="577" width="48" height="1" fill="#62629a"/>
<rect x="1034" y="578" width="48" height="1" fill="#62629a"/>
<rect x="1034" y="585" width="48" height="1" fill="#62629a"/>
<rect x="1034" y="566" width="48" height="3" fill="#62629a"/>
<rect x="1034" y="602" width="48" height="22" fill="#4e52a5"/>
<rect x="1034" y="603" width="48" height="1" fill="#62629a"/>
<rect x="1034" y="610" width="48" height="1" fill="#62629a"/>
<rect x="1034" y="611" width="48" height="1" fill="#62629a"/>
<rect x="1034" y="605" width="48" height="1" fill="#62629a"/>
<rect x="1034" y="605" width="48" height="1" fill="#62629a"/>
<rect x="1034" y="621" width="48" height="2" fill="#62629a"/>
<rect x="1034" y="609" width="48" height="2" fill="#62629a"/>
<rect x="1034" y="605" width="48" height="1" fill="#76728c"/>
<rect x="1034" y="608" width="48" height="3" fill="#76728c"/>
<rect x="1034" y="624" width="48" height="7" fill="#a65a60"/>
<rect x="1034" y="625" width="48" height="1" fill="#8c6c78"/>
<rect x="1034" y="628" width="48" height="1" fill="#8c6c78"/>
<rect x="1034" y="629" width="48" height="1" fill="#8c6c78"/>
<rect x="1034" y="628" width="48" height="3" fill="#be4244"/>
<rect x="1034" y="631" width="48" height="10" fill="#76728c"/>
<rect x="1034" y="634" width="48" height="3" fill="#62629a"/>
<rect x="1034" y="637" width="48" height="2" fill="#8c6c78"/>
<rect x="1034" y="632" width="48" height="2" fill="#8c6c78"/>
<rect x="1034" y="641" width="48" height="3" fill="#be4244"/>
<rect x="1034" y="643" width="48" height="1" fill="#ae5458"/>
<rect x="1034" y="641" width="48" height="3" fill="#d22e30"/>
<rect x="1034" y="644" width="48" height="7" fill="#4e52a5"/>
<rect x="1034" y="645" width="48" height="1" fill="#62629a"/>
<rect x="1082" y="65" width="49" height="4" fill="#76728c"/>
<rect x="1082" y="65" width="49" height="2" fill="#62629a"/>
<rect x="1082" y="66" width="49" height="1" fill="#8c6c78"/>
<rect x="1082" y="69" width="49" height="10" fill="#4e52a5"/>
<rect x="1082" y="73" width="49" height="2" fill="#62629a"/>
<rect x="1082" y="79" width="49" height="31" fill="#76728c"/>
<rect x="1082" y="92" width="49" height="2" fill="#62629a"/>
<rect x="1082" y="87" width="49" height="2" fill="#62629a"/>
<rect x="1082" y="81" width="49" height="1" fill="#62629a"/>
<rect x="1082" y="79" width="49" height="1" fill="#62629a"/>
<rect x="1082" y="108" width="49" height="1" fill="#62629a"/>
<rect x="1082" y="93" width="49" height="3" fill="#62629a"/>
<rect x="1082" y="108" width="49" height="1" fill="#8c6c78"/>
<rect x="1082" y="95" width="49" height="3" fill="#8c6c78"/>
<rect x="1082" y="93" width="49" height="2" fill="#8c6c78"/>
<rect x="1082" y="92" width="49" height="2" fill="#8c6c78"/>
<rect x="1082" y="110" width="49" height="17" fill="#4e52a5"/>
<rect x="1082" y="125" width="49" height="2" fill="#62629a"/>
<rect x="1082" y="117" width="49" height="2" fill="#62629a"/>
<rect x="1082" y="112" width="49" height="1" fill="#62629a"/>
<rect x="1082" y="125" width="49" height="2" fill="#62629a"/>
<rect x="1082" y="117" width="49" height="1" fill="#76728c"/>
<rect x="1082" y="116" width="49" height="2" fill="#76728c"/>
<rect x="1082" y="127" width="49" height="6" fill="#be4244"/>
<rect x="1082" y="128" width="49" height="1" fill="#ae5458"/>
<rect x="1082" y="128" width="49" height="1" fill="#ae5458"/>
<rect x="1082" y="129" width="49" height="3" fill="#d22e30"/>
<rect x="1082" y="133" width="49" height="28" fill="#96646e"/>
<rect x="1082" y="134" width="49" height="1" fill="#8c6c78"/>
<rect x="1082" y="154" width="49" height="2" fill="#8c6c78"/>
<rect x="1082" y="149" width="49" height="2" fill="#8c6c78"/>
<rect x="1082" y="146" width="49" height="1" fill="#8c6c78"/>
<rect x="1082" y="142" width="49" height="1" fill="#8c6c78"/>
<rect x="1082" y="141" width="49" height="1" fill="#a65a60"/>
<rect x="1082" y="142" width="49" height="1" fill="#a65a60"/>
<rect x="1082" y="148" width="49" height="2" fill="#a65a60"/>
<rect x="1082" y="145" width="49" height="3" fill="#a65a60"/>
<rect x="1082" y="161" width="49" height="20" fill="#4e52a5"/>
<rect x="1082" y="174" width="49" height="2" fill="#62629a"/>
<rect x="1082" y="168" width="49" height="1" fill="#62629a"/>
<rect x="1082" y="171" width="49" height="2" fill="#62629a"/>
<rect x="1082" y="169" width="49" height="2" fill="#62629a"/>
<rect x="1082" y="169" width="49" height="2" fill="#62629a"/>
<rect x="1082" y="179" width="49" height="1" fill="#76728c"/>
<rect x="1082" y="165" width="49" height="2" fill="#76728c"/>
<rect x="1082" y="181" width="49" height="14" fill="#a65a60"/>
<rect x="1082" y="191" width="49" height="2" fill="#8c6c78"/>
<rect x="1082" y="183" width="49" height="3" fill="#8c6c78"/>
<rect x="1082" y="188" width="49" height="2" fill="#be4244"/>
<rect x="1082" y="191" width="49" height="1" fill="#be4244"/>
<rect x="1082" y="195" width="49" height="27" fill="#4e52a5"/>
<rect x="1082" y="203" width="49" height="3" fill="#62629a"/>
<rect x="1082" y="210" width="49" height="2" fill="#62629a"/>
<rect x="1082" y="213" width="49" height="1" fill="#62629a"/>
<rect x="1082" y="202" width="49" height="2" fill="#62629a"/>
<rect x="1082" y="211" width="49" height="1" fill="#62629a"/>
<rect x="1082" y="204" width="49" height="1" fill="#62629a"/>
<rect x="1082" y="198" width="49" height="2" fill="#62629a"/>
<rect x="1082" y="217" width="49" height="3" fill="#76728c"/>
<rect x="1082" y="222" width="49" height="30" fill="#76728c"/>
<rect x="1082" y="240" width="49" height="2" fill="#62629a"/>
<rect x="1082" y="222" width="49" height="3" fill="#62629a"/>
<rect x="1082" y="233" width="49" height="2" fill="#62629a"/>
<rect x="1082" y="238" width="49" height="2" fill="#62629a"/>
<rect x="1082" y="237" width="49" height="3" fill="#8c6c78"/>
<rect x="1082" y="225" width="49" height="1" fill="#8c6c78"/>
<rect x="1082" y="240" width="49" height="2" fill="#8c6c78"/>
<rect x="1082" y="252" width="49" height="6" fill="#4e52a5"/>
<rect x="1082" y="255" width="49" height="1" fill="#62629a"/>
<rect x="1082" y="258" width="49" height="31" fill="#96646e"/>
<rect x="1082" y="266" width="49" height="1" fill="#8c6c78"/>
<rect x="1082" y="259" width="49" height="2" fill="#8c6c78"/>
<rect x="1082" y="282" width="49" height="1" fill="#8c6c78"/>
<rect x="1082" y="275" width="49" height="1" fill="#8c6c78"/>
<rect x="1082" y="281" width="49" height="2" fill="#8c6c78"/>
<rect x="1082" y="264" width="49" height="1" fill="#8c6c78"/>
<rect x="1082" y="272" width="49" height="3" fill="#a65a60"/>
<rect x="1082" y="268" width="49" height="2" fill="#a65a60"/>
<rect x="1082" y="286" width="49" height="1" fill="#a65a60"/>
<rect x="1082" y="283" width="49" height="2" fill="#a65a60"/>
<rect x="1082" y="289" width="49" height="32" fill="#a65a60"/>
<rect x="1082" y="298" width="49" height="1" fill="#8c6c78"/>
<rect x="1082" y="304" width="49" height="3" fill="#8c6c78"/>
<rect x="1082" y="317" width="49" height="2" fill="#8c6c78"/>
<rect x="1082" y="295" width="49" height="3" fill="#8c6c78"/>
<rect x="1082" y="313" width="49" height="2" fill="#8c6c78"/>
<rect x="1082" y="316" width="49" height="3" fill="#be4244"/>
<rect x="1082" y="296" width="49" height="3" fill="#be4244"/>
<rect x="1082" y="310" width="49" height="3" fill="#be4244"/>
<rect x="1082" y="321" width="49" height="12" fill="#be4244"/>
<rect x="1082" y="329" width="49" height="2" fill="#ae5458"/>
<rect x="1082" y="322" width="49" height="1" fill="#ae5458"/>
<rect x="1082" y="324" width="49" height="2" fill="#ae5458"/>
<rect x="1082" y="321" width="49" height="1" fill="#d22e30"/>
<rect x="1082" y="333" width="49" height="24" fill="#96646e"/>
<rect x="1082" y="355" width="49" height="1" fill="#8c6c78"/>
<rect x="1082" y="340" width="49" height="3" fill="#8c6c78"/>
<rect x="1082" y="346" width="49" height="3" fill="#8c6c78"/>
<rect x="1082" y="354" width="49" height="2" fill="#a65a60"/>
<rect x="1082" y="351" width="49" height="3" fill="#a65a60"/>
<rect x="1082" y="336" width="49" height="3" fill="#a65a60"/>
<rect x="1082" y="357" width="49" height="6" fill="#be4244"/>
<rect x="1082" y="361" width="49" height="2" fill="#ae5458"/>
<rect x="1082" y="358" width="49" height="2" fill="#ae5458"/>
<rect x="1082" y="360" width="49" height="1" fill="#d22e30"/>
<rect x="1082" y="363" width="49" height="91" fill="#76728c"/>
<rect x="1082" y="451" width="49" height="2" fill="#62629a"/>
<rect x="1082" y="421" width="49" height="2" fill="#62629a"/>
<rect x="1082" y="427" width="49" height="3" fill="#62629a"/>
<rect x="1082" y="402" width="49" height="1" fill="#62629a"/>
<rect x="1082" y="431" width="49" height="2" fill="#62629a"/>
<rect x="1082" y="414" width="49" height="1" fill="#62629a"/>
<rect x="1082" y="420" width="49" height="2" fill="#62629a"/>
<rect x="1082" y="383" width="49" height="2" fill="#62629a"/>
<rect x="1082" y="394" width="49" height="3" fill="#62629a"/>
<rect x="1082" y="443" width="49" height="1" fill="#62629a"/>
<rect x="1082" y="434" width="49" height="2" fill="#62629a"/>
<rect x="1082" y="384" width="49" height="1" fill="#62629a"/>
<rect x="1082" y="432" width="49" height="2" fill="#62629a"/>
<rect x="1082" y="376" width="49" height="3" fill="#8c6c78"/>
<rect x="1082" y="391" width="49" height="2" fill="#8c6c78"/>
<rect x="1082" y="425" width="49" height="1" fill="#8c6c78"/>
<rect x="1082" y="421" width="49" height="1" fill="#8c6c78"/>
<rect x="1082" y="431" width="49" height="3" fill="#8c6c78"/>
<rect x="1082" y="393" width="49" height="1" fill="#8c6c78"/>
<rect x="1082" y="445" width="49" height="1" fill="#8c6c78"/>
<rect x="1082" y="411" width="49" height="1" fill="#8c6c78"/>
<rect x="1082" y="418" width="49" height="2" fill="#8c6c78"/>
<rect x="1082" y="432" width="49" height="2" fill="#8c6c78"/>
<rect x="1082" y="454" width="49" height="22" fill="#4e52a5"/>
<rect x="1082" y="456" width="49" height="2" fill="#62629a"/>
<rect x="1082" y="465" width="49" height="1" fill="#62629a"/>
<rect x="1082" y="455" width="49" height="2" fill="#62629a"/>
<rect x="1082" y="472" width="49" height="1" fill="#62629a"/>
<rect x="1082" y="455" width="49" height="2" fill="#62629a"/>
<rect x="1082" y="464" width="49" height="3" fill="#62629a"/>
<rect x="1082" y="458" width="49" height="2" fill="#76728c"/>
<rect x="1082" y="461" width="49" height="2" fill="#76728c"/>
<rect x="1082" y="476" width="49" height="31" fill="#76728c"/>
<rect x="1082" y="485" width="49" height="2" fill="#62629a"/>
<rect x="1082" y="486" width="49" height="1" fill="#62629a"/>
<rect x="1082" y="485" width="49" height="1" fill="#62629a"/>
<rect x="1082" y="491" width="49" height="3" fill="#62629a"/>
<rect x="1082" y="488" width="49" height="1" fill="#62629a"/>
<rect x="1082" y="500" width="49" height="1" fill="#8c6c78"/>
<rect x="1082" y="480" width="49" height="1" fill="#8c6c78"/>
<rect x="1082" y="490" width="49" height="2" fill="#8c6c78"/>
<rect x="1082" y="498" width="49" height="2" fill="#8c6c78"/>
<rect x="1082" y="507" width="49" height="12" fill="#a65a60"/>
<rect x="1082" y="515" width="49" height="2" fill="#8c6c78"/>
<rect x="1082" y="516" width="49" height="2" fill="#8c6c78"/>
<rect x="1082" y="513" width="49" height="2" fill="#be4244"/>
<rect x="1082" y="517" width="49" height="2" fill="#be4244"/>
<rect x="1082" y="519" width="49" height="45" fill="#76728c"/>
<rect x="1082" y="523" width="49" height="2" fill="#62629a"/>
<rect x="1082" y="553" width="49" height="1" fill="#62629a"/>
<rect x="1082" y="546" width="49" height="1" fill="#62629a"/>
<rect x="1082" y="543" width="49" height="1" fill="#62629a"/>
<rect x="1082" y="553" width="49" height="2" fill="#62629a"/>
<rect x="1082" y="550" width="49" height="2" fill="#62629a"/>
<rect x="1082" y="531" width="49" height="1" fill="#62629a"/>
<rect x="1082" y="521" width="49" height="3" fill="#62629a"/>
<rect x="1082" y="539" width="49" height="1" fill="#8c6c78"/>
<rect x="1082" y="561" width="49" height="2" fill="#8c6c78"/>
<rect x="1082" y="527" width="49" height="2" fill="#8c6c78"/>
<rect x="1082" y="558" width="49" height="1" fill="#8c6c78"/>
<rect x="1082" y="543" width="49" height="1" fill="#8c6c78"/>
<rect x="1082" y="531" width="49" height="1" fill="#8c6c78"/>
<rect x="1082" y="564" width="49" height="26" fill="#a65a60"/>
<rect x="1082" y="578" width="49" height="3" fill="#8c6c78"/>
<rect x="1082" y="589" width="49" height="1" fill="#8c6c78"/>
<rect x="1082" y="578" width="49" height="2" fill="#8c6c78"/>
<rect x="1082" y="570" width="49" height="3" fill="#8c6c78"/>
<rect x="1082" y="570" width="49" height="3" fill="#be4244"/>
<rect x="1082" y="574" width="49" height="2" fill="#be4244"/>
<rect x="1082" y="582" width="49" height="1" fill="#be4244"/>
<rect x="1082" y="590" width="49" height="8" fill="#76728c"/>
<rect x="1082" y="592" width="49" height="1" fill="#62629a"/>
<rect x="1082" y="593" width="49" height="2" fill="#62629a"/>
<rect x="1082" y="593" width="49" height="1" fill="#8c6c78"/>
<rect x="1082" y="592" width="49" height="3" fill="#8c6c78"/>
<rect x="1082" y="598" width="49" height="33" fill="#a65a60"/>
<rect x="1082" y="617" width="49" height="2" fill="#8c6c78"/>
<rect x="1082" y="629" width="49" height="1" fill="#8c6c78"/>
<rect x="1082" y="613" width="49" height="3" fill="#8c6c78"/>
<rect x="1082" y="625" width="49" height="2" fill="#8c6c78"/>
<rect x="1082" y="602" width="49" height="3" fill="#8c6c78"/>
<rect x="1082" y="599" width="49" height="1" fill="#be4244"/>
<rect x="1082" y="613" width="49" height="3" fill="#be4244"/>
<rect x="1082" y="621" width="49" height="2" fill="#be4244"/>
<rect x="1082" y="606" width="49" height="1" fill="#be4244"/>
<rect x="1082" y="631" width="49" height="10" fill="#e02224"/>
<rect x="1082" y="637" width="49" height="1" fill="#d22e30"/>
<rect x="1082" y="633" width="49" height="2" fill="#d22e30"/>
<rect x="1082" y="641" width="49" height="10" fill="#a65a60"/>
<rect x="1082" y="644" width="49" height="3" fill="#8c6c78"/>
<rect x="1082" y="644" width="49" height="2" fill="#be4244"/>
<rect x="1131" y="65" width="49" height="31" fill="#76728c"/>
<rect x="1131" y="84" width="49" height="1" fill="#62629a"/>
<rect x="1131" y="90" width="49" height="2" fill="#62629a"/>
<rect x="1131" y="87" width="49" height="2" fill="#62629a"/>
<rect x="1131" y="86" width="49" height="2" fill="#62629a"/>
<rect x="1131" y="90" width="49" height="3" fill="#62629a"/>
<rect x="1131" y="84" width="49" height="2" fill="#8c6c78"/>
<rect x="1131" y="90" width="49" height="3" fill="#8c6c78"/>
<rect x="1131" y="91" width="49" height="2" fill="#8c6c78"/>
<rect x="1131" y="96" width="49" height="29" fill="#4e52a5"/>
<rect x="1131" y="117" width="49" height="1" fill="#62629a"/>
<rect x="1131" y="102" width="49" height="2" fill="#62629a"/>
<rect x="1131" y="122" width="49" height="2" fill="#62629a"/>
<rect x="1131" y="122" width="49" height="3" fill="#62629a"/>
<rect x="1131" y="108" width="49" height="2" fill="#62629a"/>
<rect x="1131" y="104" width="49" height="3" fill="#62629a"/>
<rect x="1131" y="117" width="49" height="2" fill="#76728c"/>
<rect x="1131" y="112" width="49" height="2" fill="#76728c"/>
<rect x="1131" y="125" width="49" height="36" fill="#a65a60"/>
<rect x="1131" y="136" width="49" height="3" fill="#8c6c78"/>
<rect x="1131" y="138" width="49" height="3" fill="#8c6c78"/>
<rect x="1131" y="137" width="49" height="2" fill="#8c6c78"/>
<rect x="1131" y="134" width="49" height="2" fill="#8c6c78"/>
<rect x="1131" y="138" width="49" height="2" fill="#8c6c78"/>
<rect x="1131" y="135" width="49" height="2" fill="#be4244"/>
<rect x="1131" y="151" width="49" height="1" fill="#be4244"/>
<rect x="1131" y="127" width="49" height="2" fill="#be4244"/>
<rect x="1131" y="127" width="49" height="2" fill="#be4244"/>
<rect x="1131" y="154" width="49" height="1" fill="#be4244"/>
<rect x="1131" y="161" width="49" height="20" fill="#4e52a5"/>
<rect x="1131" y="162" width="49" height="2" fill="#62629a"/>
<rect x="1131" y="173" width="49" height="3" fill="#62629a"/>
<rect x="1131" y="175" width="49" height="1" fill="#62629a"/>
<rect x="1131" y="170" width="49" height="2" fill="#62629a"/>
<rect x="1131" y="174" width="49" height="2" fill="#76728c"/>
<rect x="1131" y="168" width="49" height="2" fill="#76728c"/>
<rect x="1131" y="181" width="49" height="10" fill="#4e52a5"/>
<rect x="1131" y="190" width="49" height="1" fill="#62629a"/>
<rect x="1131" y="188" width="49" height="1" fill="#62629a"/>
<rect x="1131" y="191" width="49" height="31" fill="#4e52a5"/>
<rect x="1131" y="200" width="49" height="2" fill="#62629a"/>
<rect x="1131" y="205" width="49" height="3" fill="#62629a"/>
<rect x="1131" y="199" width="49" height="1" fill="#62629a"/>
<rect x="1131" y="201" width="49" height="2" fill="#62629a"/>
<rect x="1131" y="200" width="49" height="2" fill="#62629a"/>
<rect x="1131" y="213" width="49" height="3" fill="#62629a"/>
<rect x="1131" y="210" width="49" height="2" fill="#76728c"/>
<rect x="1131" y="218" width="49" height="1" fill="#76728c"/>
<rect x="1131" y="222" width="49" height="34" fill="#96646e"/>
<rect x="1131" y="244" width="49" height="2" fill="#8c6c78"/>
<rect x="1131" y="242" width="49" height="1" fill="#8c6c78"/>
<rect x="1131" y="237" width="49" height="2" fill="#8c6c78"/>
<rect x="1131" y="254" width="49" height="2" fill="#8c6c78"/>
<rect x="1131" y="223" width="49" height="2" fill="#8c6c78"/>
<rect x="1131" y="233" width="49" height="2" fill="#a65a60"/>
<rect x="1131" y="224" width="49" height="1" fill="#a65a60"/>
<rect x="1131" y="240" width="49" height="1" fill="#a65a60"/>
<rect x="1131" y="245" width="49" height="1" fill="#a65a60"/>
<rect x="1131" y="235" width="49" height="1" fill="#a65a60"/>
<rect x="1131" y="227" width="49" height="1" fill="#a65a60"/>
<rect x="1131" y="239" width="49" height="2" fill="#a65a60"/>
<rect x="1131" y="256" width="49" height="6" fill="#be4244"/>
<rect x="1131" y="259" width="49" height="1" fill="#ae5458"/>
<rect x="1131" y="259" width="49" height="2" fill="#ae5458"/>
<rect x="1131" y="260" width="49" height="1" fill="#d22e30"/>
<rect x="1131" y="262" width="49" height="18" fill="#96646e"/>
<rect x="1131" y="275" width="49" height="3" fill="#8c6c78"/>
<rect x="1131" y="266" width="49" height="2" fill="#8c6c78"/>
<rect x="1131" y="262" width="49" height="1" fill="#a65a60"/>
<rect x="1131" y="273" width="49" height="1" fill="#a65a60"/>
<rect x="1131" y="275" width="49" height="1" fill="#a65a60"/>
<rect x="1131" y="262" width="49" height="2" fill="#a65a60"/>
<rect x="1131" y="280" width="49" height="9" fill="#4e52a5"/>
<rect x="1131" y="286" width="49" height="1" fill="#62629a"/>
<rect x="1131" y="285" width="49" height="1" fill="#62629a"/>
<rect x="1131" y="286" width="49" height="2" fill="#62629a"/>
<rect x="1131" y="285" width="49" height="1" fill="#76728c"/>
<rect x="1131" y="289" width="49" height="32" fill="#a65a60"/>
<rect x="1131" y="310" width="49" height="2" fill="#8c6c78"/>
<rect x="1131" y="314" width="49" height="1" fill="#8c6c78"/>
<rect x="1131" y="315" width="49" height="1" fill="#8c6c78"/>
<rect x="1131" y="298" width="49" height="3" fill="#8c6c78"/>
<rect x="1131" y="317" width="49" height="2" fill="#8c6c78"/>
<rect x="1131" y="297" width="49" height="2" fill="#8c6c78"/>
<rect x="1131" y="319" width="49" height="2" fill="#be4244"/>
<rect x="1131" y="306" width="49" height="1" fill="#be4244"/>
<rect x="1131" y="308" width="49" height="2" fill="#be4244"/>
<rect x="1131" y="309" width="49" height="1" fill="#be4244"/>
<rect x="1131" y="313" width="49" height="2" fill="#be4244"/>
<rect x="1131" y="321" width="49" height="5" fill="#e02224"/>
<rect x="1131" y="322" width="49" height="2" fill="#d22e30"/>
<rect x="1131" y="326" width="49" height="7" fill="#be4244"/>
<rect x="1131" y="331" width="49" height="1" fill="#ae5458"/>
<rect x="1131" y="329" width="49" height="3" fill="#ae5458"/>
<rect x="1131" y="328" width="49" height="2" fill="#d22e30"/>
<rect x="1131" y="333" width="49" height="24" fill="#4e52a5"/>
<rect x="1131" y="340" width="49" height="3" fill="#62629a"/>
<rect x="1131" y="353" width="49" height="1" fill="#62629a"/>
<rect x="1131" y="344" width="49" height="1" fill="#62629a"/>
<rect x="1131" y="338" width="49" height="1" fill="#62629a"/>
<rect x="1131" y="347" width="49" height="3" fill="#62629a"/>
<rect x="1131" y="349" width="49" height="3" fill="#76728c"/>
<rect x="1131" y="357" width="49" height="6" fill="#a65a60"/>
<rect x="1131" y="359" width="49" height="3" fill="#8c6c78"/>
<rect x="1131" y="357" width="49" height="2" fill="#be4244"/>
<rect x="1131" y="363" width="49" height="55" fill="#4e52a5"/>
<rect x="1131" y="365" width="49" height="2" fill="#62629a"/>
<rect x="1131" y="404" width="49" height="1" fill="#62629a"/>
<rect x="1131" y="395" width="49" height="2" fill="#62629a"/>
<rect x="1131" y="366" width="49" height="2" fill="#62629a"/>
<rect x="1131" y="386" width="49" height="1" fill="#62629a"/>
<rect x="1131" y="395" width="49" height="3" fill="#62629a"/>
<rect x="1131" y="377" width="49" height="2" fill="#62629a"/>
<rect x="1131" y="371" width="49" height="3" fill="#62629a"/>
<rect x="1131" y="380" width="49" height="3" fill="#62629a"/>
<rect x="1131" y="404" width="49" height="2" fill="#62629a"/>
<rect x="1131" y="393" width="49" height="1" fill="#76728c"/>
<rect x="1131" y="376" width="49" height="2" fill="#76728c"/>
<rect x="1131" y="376" width="49" height="1" fill="#76728c"/>
<rect x="1131" y="379" width="49" height="2" fill="#76728c"/>
<rect x="1131" y="418" width="49" height="12" fill="#a65a60"/>
<rect x="1131" y="418" width="49" height="1" fill="#8c6c78"/>
<rect x="1131" y="422" width="49" height="2" fill="#8c6c78"/>
<rect x="1131" y="421" width="49" height="1" fill="#8c6c78"/>
<rect x="1131" y="420" width="49" height="1" fill="#8c6c78"/>
<rect x="1131" y="423" width="49" height="1" fill="#be4244"/>
<rect x="1131" y="420" width="49" height="2" fill="#be4244"/>
<rect x="1131" y="430" width="49" height="65" fill="#4e52a5"/>
<rect x="1131" y="486" width="49" height="2" fill="#62629a"/>
<rect x="1131" y="480" width="49" height="2" fill="#62629a"/>
<rect x="1131" y="474" width="49" height="2" fill="#62629a"/>
<rect x="1131" y="445" width="49" height="2" fill="#62629a"/>
<rect x="1131" y="495" width="49" height="24" fill="#76728c"/>
<rect x="1131" y="503" width="49" height="2" fill="#62629a"/>
<rect x="1131" y="506" width="49" height="1" fill="#62629a"/>
<rect x="1131" y="508" width="49" height="2" fill="#62629a"/>
<rect x="1131" y="502" width="49" height="1" fill="#62629a"/>
<rect x="1131" y="502" width="49" height="1" fill="#8c6c78"/>
<rect x="1131" y="510" width="49" height="1" fill="#8c6c78"/>
<rect x="1131" y="509" width="49" height="1" fill="#8c6c78"/>
<rect x="1131" y="507" width="49" height="1" fill="#8c6c78"/>
<rect x="1131" y="519" width="49" height="23" fill="#4e52a5"/>
<rect x="1131" y="538" width="49" height="1" fill="#62629a"/>
<rect x="1131" y="533" width="49" height="2" fill="#62629a"/>
<rect x="1131" y="526" width="49" height="3" fill="#62629a"/>
<rect x="1131" y="521" width="49" height="2" fill="#62629a"/>
<rect x="1131" y="531" width="49" height="2" fill="#62629a"/>
<rect x="1131" y="540" width="49" height="2" fill="#76728c"/>
<rect x="1131" y="542" width="49" height="22" fill="#76728c"/>
<rect x="1131" y="544" width="49" height="1" fill="#62629a"/>
<rect x="1131" y="553" width="49" height="1" fill="#62629a"/>
<rect x="1131" y="553" width="49" height="2" fill="#62629a"/>
<rect x="1131" y="553" width="49" height="2" fill="#62629a"/>
<rect x="1131" y="560" width="49" height="1" fill="#8c6c78"/>
<rect x="1131" y="549" width="49" height="2" fill="#8c6c78"/>
<rect x="1131" y="553" width="49" height="1" fill="#8c6c78"/>
<rect x="1131" y="564" width="49" height="6" fill="#be4244"/>
<rect x="1131" y="564" width="49" height="1" fill="#ae5458"/>
<rect x="1131" y="568" width="49" height="1" fill="#ae5458"/>
<rect x="1131" y="566" width="49" height="3" fill="#d22e30"/>
<rect x="1131" y="570" width="49" height="37" fill="#96646e"/>
<rect x="1131" y="586" width="49" height="1" fill="#8c6c78"/>
<rect x="1131" y="591" width="49" height="2" fill="#8c6c78"/>
<rect x="1131" y="591" width="49" height="2" fill="#8c6c78"/>
<rect x="1131" y="595" width="49" height="2" fill="#8c6c78"/>
<rect x="1131" y="587" width="49" height="1" fill="#8c6c78"/>
<rect x="1131" y="594" width="49" height="1" fill="#8c6c78"/>
<rect x="1131" y="604" width="49" height="1" fill="#8c6c78"/>
<rect x="1131" y="588" width="49" height="3" fill="#a65a60"/>
<rect x="1131" y="605" width="49" height="2" fill="#a65a60"/>
<rect x="1131" y="591" width="49" height="3" fill="#a65a60"/>
<rect x="1131" y="578" width="49" height="1" fill="#a65a60"/>
<rect x="1131" y="601" width="49" height="3" fill="#a65a60"/>
<rect x="1131" y="607" width="49" height="24" fill="#4e52a5"/>
<rect x="1131" y="609" width="49" height="2" fill="#62629a"/>
<rect x="1131" y="615" width="49" height="1" fill="#62629a"/>
<rect x="1131" y="619" width="49" height="2" fill="#62629a"/>
<rect x="1131" y="611" width="49" height="3" fill="#62629a"/>
<rect x="1131" y="626" width="49" height="1" fill="#62629a"/>
<rect x="1131" y="612" width="49" height="3" fill="#76728c"/>
<rect x="1131" y="631" width="49" height="10" fill="#a65a60"/>
<rect x="1131" y="632" width="49" height="1" fill="#8c6c78"/>
<rect x="1131" y="638" width="49" height="1" fill="#8c6c78"/>
<rect x="1131" y="632" width="49" height="3" fill="#8c6c78"/>
<rect x="1131" y="637" width="49" height="1" fill="#be4244"/>
<rect x="1131" y="632" width="49" height="3" fill="#be4244"/>
<rect x="1131" y="641" width="49" height="10" fill="#d22e30"/>
<rect x="1131" y="646" width="49" height="2" fill="#be4244"/>
<rect x="1191" y="65" width="49" height="63" fill="#be4244"/>
<rect x="1191" y="115" width="49" height="1" fill="#ae5458"/>
<rect x="1191" y="76" width="49" height="3" fill="#ae5458"/>
<rect x="1191" y="72" width="49" height="3" fill="#ae5458"/>
<rect x="1191" y="123" width="49" height="1" fill="#ae5458"/>
<rect x="1191" y="119" width="49" height="1" fill="#ae5458"/>
<rect x="1191" y="89" width="49" height="1" fill="#ae5458"/>
<rect x="1191" y="80" width="49" height="3" fill="#ae5458"/>
<rect x="1191" y="104" width="49" height="3" fill="#ae5458"/>
<rect x="1191" y="95" width="49" height="2" fill="#ae5458"/>
<rect x="1191" y="80" width="49" height="1" fill="#d22e30"/>
<rect x="1191" y="82" width="49" height="1" fill="#d22e30"/>
<rect x="1191" y="107" width="49" height="1" fill="#d22e30"/>
<rect x="1191" y="81" width="49" height="1" fill="#d22e30"/>
<rect x="1191" y="79" width="49" height="3" fill="#d22e30"/>
<rect x="1191" y="128" width="49" height="4" fill="#76728c"/>
<rect x="1191" y="130" width="49" height="2" fill="#62629a"/>
<rect x="1191" y="129" width="49" height="3" fill="#8c6c78"/>
<rect x="1191" y="132" width="49" height="28" fill="#be4244"/>
<rect x="1191" y="149" width="49" height="3" fill="#ae5458"/>
<rect x="1191" y="149" width="49" height="3" fill="#ae5458"/>
<rect x="1191" y="140" width="49" height="3" fill="#ae5458"/>
<rect x="1191" y="134" width="49" height="1" fill="#d22e30"/>
<rect x="1191" y="147" width="49" height="2" fill="#d22e30"/>
<rect x="1191" y="160" width="49" height="4" fill="#d22e30"/>
<rect x="1191" y="162" width="49" height="1" fill="#be4244"/>
<rect x="1191" y="164" width="49" height="18" fill="#a65a60"/>
<rect x="1191" y="166" width="49" height="1" fill="#8c6c78"/>
<rect x="1191" y="180" width="49" height="2" fill="#8c6c78"/>
<rect x="1191" y="173" width="49" height="2" fill="#8c6c78"/>
<rect x="1191" y="166" width="49" height="2" fill="#8c6c78"/>
<rect x="1191" y="174" width="49" height="2" fill="#be4244"/>
<rect x="1191" y="167" width="49" height="2" fill="#be4244"/>
<rect x="1191" y="182" width="49" height="8" fill="#d22e30"/>
<rect x="1191" y="182" width="49" height="2" fill="#be4244"/>
<rect x="1191" y="190" width="49" height="6" fill="#4e52a5"/>
<rect x="1191" y="192" width="49" height="3" fill="#62629a"/>
<rect x="1191" y="193" width="49" height="2" fill="#76728c"/>
<rect x="1191" y="196" width="49" height="28" fill="#be4244"/>
<rect x="1191" y="201" width="49" height="2" fill="#ae5458"/>
<rect x="1191" y="197" width="49" height="3" fill="#ae5458"/>
<rect x="1191" y="218" width="49" height="2" fill="#ae5458"/>
<rect x="1191" y="200" width="49" height="1" fill="#ae5458"/>
<rect x="1191" y="208" width="49" height="2" fill="#ae5458"/>
<rect x="1191" y="212" width="49" height="2" fill="#d22e30"/>
<rect x="1191" y="200" width="49" height="3" fill="#d22e30"/>
<rect x="1191" y="224" width="49" height="4" fill="#76728c"/>
<rect x="1191" y="226" width="49" height="1" fill="#62629a"/>
<rect x="1191" y="225" width="49" height="1" fill="#8c6c78"/>
<rect x="1191" y="228" width="49" height="30" fill="#a65a60"/>
<rect x="1191" y="232" width="49" height="1" fill="#8c6c78"/>
<rect x="1191" y="246" width="49" height="1" fill="#8c6c78"/>
<rect x="1191" y="235" width="49" height="1" fill="#8c6c78"/>
<rect x="1191" y="238" width="49" height="3" fill="#8c6c78"/>
<rect x="1191" y="249" width="49" height="1" fill="#8c6c78"/>
<rect x="1191" y="253" width="49" height="1" fill="#8c6c78"/>
<rect x="1191" y="256" width="49" height="2" fill="#8c6c78"/>
<rect x="1191" y="245" width="49" height="1" fill="#be4244"/>
<rect x="1191" y="236" width="49" height="1" fill="#be4244"/>
<rect x="1191" y="241" width="49" height="1" fill="#be4244"/>
<rect x="1191" y="234" width="49" height="2" fill="#be4244"/>
<rect x="1191" y="242" width="49" height="3" fill="#be4244"/>
<rect x="1191" y="258" width="49" height="34" fill="#76728c"/>
<rect x="1191" y="264" width="49" height="1" fill="#62629a"/>
<rect x="1191" y="283" width="49" height="2" fill="#62629a"/>
<rect x="1191" y="263" width="49" height="2" fill="#62629a"/>
<rect x="1191" y="282" width="49" height="2" fill="#62629a"/>
<rect x="1191" y="271" width="49" height="1" fill="#62629a"/>
<rect x="1191" y="268" width="49" height="2" fill="#62629a"/>
<rect x="1191" y="259" width="49" height="2" fill="#8c6c78"/>
<rect x="1191" y="288" width="49" height="2" fill="#8c6c78"/>
<rect x="1191" y="286" width="49" height="2" fill="#8c6c78"/>
<rect x="1191" y="285" width="49" height="2" fill="#8c6c78"/>
<rect x="1191" y="292" width="49" height="30" fill="#a65a60"/>
<rect x="1191" y="307" width="49" height="2" fill="#8c6c78"/>
<rect x="1191" y="296" width="49" height="3" fill="#8c6c78"/>
<rect x="1191" y="314" width="49" height="2" fill="#8c6c78"/>
<rect x="1191" y="318" width="49" height="2" fill="#8c6c78"/>
<rect x="1191" y="318" width="49" height="1" fill="#8c6c78"/>
<rect x="1191" y="300" width="49" height="1" fill="#be4244"/>
<rect x="1191" y="300" width="49" height="2" fill="#be4244"/>
<rect x="1191" y="312" width="49" height="1" fill="#be4244"/>
<rect x="1191" y="297" width="49" height="3" fill="#be4244"/>
<rect x="1191" y="322" width="49" height="138" fill="#4e52a5"/>
<rect x="1191" y="440" width="49" height="2" fill="#62629a"/>
<rect x="1191" y="426" width="49" height="2" fill="#62629a"/>
<rect x="1191" y="398" width="49" height="1" fill="#62629a"/>
<rect x="1191" y="423" width="49" height="1" fill="#62629a"/>
<rect x="1191" y="371" width="49" height="3" fill="#62629a"/>
<rect x="1191" y="414" width="49" height="2" fill="#62629a"/>
<rect x="1191" y="444" width="49" height="2" fill="#62629a"/>
<rect x="1191" y="443" width="49" height="2" fill="#62629a"/>
<rect x="1191" y="458" width="49" height="2" fill="#62629a"/>
<rect x="1191" y="411" width="49" height="2" fill="#62629a"/>
<rect x="1191" y="342" width="49" height="2" fill="#62629a"/>
<rect x="1191" y="390" width="49" height="2" fill="#62629a"/>
<rect x="1191" y="340" width="49" height="1" fill="#62629a"/>
<rect x="1191" y="330" width="49" height="3" fill="#62629a"/>
<rect x="1191" y="400" width="49" height="3" fill="#62629a"/>
<rect x="1191" y="366" width="49" height="1" fill="#62629a"/>
<rect x="1191" y="375" width="49" height="2" fill="#62629a"/>
<rect x="1191" y="383" width="49" height="2" fill="#62629a"/>
<rect x="1191" y="358" width="49" height="1" fill="#62629a"/>
<rect x="1191" y="391" width="49" height="2" fill="#62629a"/>
<rect x="1191" y="348" width="49" height="2" fill="#62629a"/>
<rect x="1191" y="349" width="49" height="2" fill="#62629a"/>
<rect x="1191" y="405" width="49" height="2" fill="#62629a"/>
<rect x="1191" y="322" width="49" height="3" fill="#62629a"/>
<rect x="1191" y="416" width="49" height="1" fill="#62629a"/>
<rect x="1191" y="366" width="49" height="3" fill="#62629a"/>
<rect x="1191" y="386" width="49" height="2" fill="#62629a"/>
<rect x="1191" y="409" width="49" height="2" fill="#62629a"/>
<rect x="1191" y="381" width="49" height="1" fill="#62629a"/>
<rect x="1191" y="432" width="49" height="1" fill="#76728c"/>
<rect x="1191" y="421" width="49" height="1" fill="#76728c"/>
<rect x="1191" y="449" width="49" height="2" fill="#76728c"/>
<rect x="1191" y="358" width="49" height="2" fill="#76728c"/>
<rect x="1191" y="376" width="49" height="2" fill="#76728c"/>
<rect x="1191" y="421" width="49" height="1" fill="#76728c"/>
<rect x="1191" y="395" width="49" height="2" fill="#76728c"/>
<rect x="1191" y="460" width="49" height="39" fill="#76728c"/>
<rect x="1191" y="466" width="49" height="2" fill="#62629a"/>
<rect x="1191" y="495" width="49" height="3" fill="#62629a"/>
<rect x="1191" y="465" width="49" height="1" fill="#62629a"/>
<rect x="1191" y="466" width="49" height="2" fill="#62629a"/>
<rect x="1191" y="476" width="49" height="1" fill="#62629a"/>
<rect x="1191" y="481" width="49" height="1" fill="#62629a"/>
<rect x="1191" y="482" width="49" height="1" fill="#8c6c78"/>
<rect x="1191" y="473" width="49" height="3" fill="#8c6c78"/>
<rect x="1191" y="462" width="49" height="3" fill="#8c6c78"/>
<rect x="1191" y="495" width="49" height="1" fill="#8c6c78"/>
<rect x="1191" y="499" width="49" height="44" fill="#4e52a5"/>
<rect x="1191" y="519" width="49" height="1" fill="#62629a"/>
<rect x="1191" y="528" width="49" height="2" fill="#62629a"/>
<rect x="1191" y="518" width="49" height="2" fill="#62629a"/>
<rect x="1191" y="539" width="49" height="1" fill="#62629a"/>
<rect x="1191" y="527" width="49" height="1" fill="#62629a"/>
<rect x="1191" y="519" width="49" height="1" fill="#62629a"/>
<rect x="1191" y="500" width="49" height="1" fill="#62629a"/>
<rect x="1191" y="536" width="49" height="1" fill="#62629a"/>
<rect x="1191" y="522" width="49" height="1" fill="#62629a"/>
<rect x="1191" y="503" width="49" height="1" fill="#62629a"/>
<rect x="1191" y="533" width="49" height="3" fill="#62629a"/>
<rect x="1191" y="538" width="49" height="2" fill="#62629a"/>
<rect x="1191" y="528" width="49" height="1" fill="#62629a"/>
<rect x="1191" y="514" width="49" height="3" fill="#76728c"/>
<rect x="1191" y="522" width="49" height="2" fill="#76728c"/>
<rect x="1191" y="543" width="49" height="10" fill="#76728c"/>
<rect x="1191" y="545" width="49" height="2" fill="#62629a"/>
<rect x="1191" y="549" width="49" height="1" fill="#62629a"/>
<rect x="1191" y="545" width="49" height="2" fill="#8c6c78"/>
<rect x="1191" y="548" width="49" height="2" fill="#8c6c78"/>
<rect x="1191" y="553" width="49" height="37" fill="#4e52a5"/>
<rect x="1191" y="560" width="49" height="2" fill="#62629a"/>
<rect x="1191" y="570" width="49" height="2" fill="#62629a"/>
<rect x="1191" y="570" width="49" height="2" fill="#62629a"/>
<rect x="1191" y="558" width="49" height="2" fill="#62629a"/>
<rect x="1191" y="555" width="49" height="2" fill="#62629a"/>
<rect x="1191" y="566" width="49" height="1" fill="#62629a"/>
<rect x="1191" y="577" width="49" height="2" fill="#62629a"/>
<rect x="1191" y="563" width="49" height="3" fill="#62629a"/>
<rect x="1191" y="574" width="49" height="2" fill="#76728c"/>
<rect x="1191" y="581" width="49" height="2" fill="#76728c"/>
<rect x="1191" y="590" width="49" height="4" fill="#76728c"/>
<rect x="1191" y="592" width="49" height="2" fill="#62629a"/>
<rect x="1191" y="590" width="49" height="3" fill="#8c6c78"/>
<rect x="1191" y="594" width="49" height="57" fill="#4e52a5"/>
<rect x="1191" y="632" width="49" height="2" fill="#62629a"/>
<rect x="1191" y="598" width="49" height="2" fill="#62629a"/>
<rect x="1191" y="597" width="49" height="1" fill="#62629a"/>
<rect x="1191" y="623" width="49" height="2" fill="#62629a"/>
<rect x="1191" y="645" width="49" height="3" fill="#62629a"/>
<rect x="1191" y="602" width="49" height="2" fill="#62629a"/>
<rect x="1191" y="599" width="49" height="2" fill="#62629a"/>
<rect x="1191" y="637" width="49" height="1" fill="#62629a"/>
<rect x="1191" y="630" width="49" height="2" fill="#62629a"/>
<rect x="1191" y="614" width="49" height="2" fill="#62629a"/>
<rect x="1191" y="635" width="49" height="1" fill="#62629a"/>
<rect x="1191" y="644" width="49" height="1" fill="#62629a"/>
<rect x="1191" y="602" width="49" height="2" fill="#62629a"/>
<rect x="1191" y="602" width="49" height="1" fill="#76728c"/>
<rect x="1191" y="634" width="49" height="3" fill="#76728c"/>
<rect x="1191" y="631" width="49" height="2" fill="#76728c"/>
<rect x="1240" y="65" width="49" height="1" fill="#be4244"/>
<rect x="1240" y="65" width="49" height="1" fill="#ae5458"/>
<rect x="1240" y="65" width="49" height="1" fill="#d22e30"/>
<rect x="1240" y="66" width="49" height="4" fill="#d22e30"/>
<rect x="1240" y="67" width="49" height="1" fill="#be4244"/>
<rect x="1240" y="70" width="49" height="29" fill="#be4244"/>
<rect x="1240" y="79" width="49" height="1" fill="#ae5458"/>
<rect x="1240" y="82" width="49" height="1" fill="#ae5458"/>
<rect x="1240" y="73" width="49" height="1" fill="#ae5458"/>
<rect x="1240" y="97" width="49" height="1" fill="#ae5458"/>
<rect x="1240" y="83" width="49" height="1" fill="#ae5458"/>
<rect x="1240" y="93" width="49" height="1" fill="#ae5458"/>
<rect x="1240" y="75" width="49" height="2" fill="#ae5458"/>
<rect x="1240" y="78" width="49" height="2" fill="#ae5458"/>
<rect x="1240" y="76" width="49" height="2" fill="#d22e30"/>
<rect x="1240" y="95" width="49" height="3" fill="#d22e30"/>
<rect x="1240" y="99" width="49" height="11" fill="#e02224"/>
<rect x="1240" y="107" width="49" height="2" fill="#d22e30"/>
<rect x="1240" y="110" width="49" height="20" fill="#a65a60"/>
<rect x="1240" y="121" width="49" height="2" fill="#8c6c78"/>
<rect x="1240" y="111" width="49" height="2" fill="#8c6c78"/>
<rect x="1240" y="126" width="49" height="2" fill="#8c6c78"/>
<rect x="1240" y="126" width="49" height="1" fill="#8c6c78"/>
<rect x="1240" y="113" width="49" height="1" fill="#be4244"/>
<rect x="1240" y="119" width="49" height="2" fill="#be4244"/>
<rect x="1240" y="126" width="49" height="2" fill="#be4244"/>
<rect x="1240" y="130" width="49" height="56" fill="#be4244"/>
<rect x="1240" y="139" width="49" height="1" fill="#ae5458"/>
<rect x="1240" y="147" width="49" height="2" fill="#ae5458"/>
<rect x="1240" y="163" width="49" height="1" fill="#ae5458"/>
<rect x="1240" y="171" width="49" height="2" fill="#ae5458"/>
<rect x="1240" y="167" width="49" height="1" fill="#ae5458"/>
<rect x="1240" y="180" width="49" height="3" fill="#ae5458"/>
<rect x="1240" y="155" width="49" height="1" fill="#ae5458"/>
<rect x="1240" y="158" width="49" height="1" fill="#ae5458"/>
<rect x="1240" y="139" width="49" height="1" fill="#ae5458"/>
<rect x="1240" y="157" width="49" height="2" fill="#ae5458"/>
<rect x="1240" y="156" width="49" height="3" fill="#ae5458"/>
<rect x="1240" y="150" width="49" height="1" fill="#d22e30"/>
<rect x="1240" y="142" width="49" height="1" fill="#d22e30"/>
<rect x="1240" y="163" width="49" height="2" fill="#d22e30"/>
<rect x="1240" y="135" width="49" height="1" fill="#d22e30"/>
<rect x="1240" y="186" width="49" height="4" fill="#76728c"/>
<rect x="1240" y="187" width="49" height="2" fill="#62629a"/>
<rect x="1240" y="188" width="49" height="2" fill="#8c6c78"/>
<rect x="1240" y="190" width="49" height="10" fill="#d22e30"/>
<rect x="1240" y="196" width="49" height="2" fill="#be4244"/>
<rect x="1240" y="200" width="49" height="22" fill="#e02224"/>
<rect x="1240" y="208" width="49" height="2" fill="#d22e30"/>
<rect x="1240" y="219" width="49" height="3" fill="#d22e30"/>
<rect x="1240" y="222" width="49" height="6" fill="#76728c"/>
<rect x="1240" y="225" width="49" height="2" fill="#62629a"/>
<rect x="1240" y="225" width="49" height="1" fill="#8c6c78"/>
<rect x="1240" y="224" width="49" height="2" fill="#8c6c78"/>
<rect x="1240" y="228" width="49" height="30" fill="#a65a60"/>
<rect x="1240" y="252" width="49" height="2" fill="#8c6c78"/>
<rect x="1240" y="246" width="49" height="3" fill="#8c6c78"/>
<rect x="1240" y="239" width="49" height="2" fill="#8c6c78"/>
<rect x="1240" y="229" width="49" height="3" fill="#8c6c78"/>
<rect x="1240" y="237" width="49" height="2" fill="#be4244"/>
<rect x="1240" y="256" width="49" height="1" fill="#be4244"/>
<rect x="1240" y="255" width="49" height="1" fill="#be4244"/>
<rect x="1240" y="245" width="49" height="1" fill="#be4244"/>
<rect x="1240" y="231" width="49" height="3" fill="#be4244"/>
<rect x="1240" y="258" width="49" height="30" fill="#76728c"/>
<rect x="1240" y="286" width="49" height="1" fill="#62629a"/>
<rect x="1240" y="283" width="49" height="2" fill="#62629a"/>
<rect x="1240" y="273" width="49" height="1" fill="#62629a"/>
<rect x="1240" y="264" width="49" height="2" fill="#62629a"/>
<rect x="1240" y="268" width="49" height="1" fill="#62629a"/>
<rect x="1240" y="284" width="49" height="2" fill="#62629a"/>
<rect x="1240" y="285" width="49" height="1" fill="#8c6c78"/>
<rect x="1240" y="267" width="49" height="1" fill="#8c6c78"/>
<rect x="1240" y="259" width="49" height="2" fill="#8c6c78"/>
<rect x="1240" y="273" width="49" height="3" fill="#8c6c78"/>
<rect x="1240" y="288" width="49" height="14" fill="#a65a60"/>
<rect x="1240" y="294" width="49" height="2" fill="#8c6c78"/>
<rect x="1240" y="290" width="49" height="1" fill="#8c6c78"/>
<rect x="1240" y="289" width="49" height="1" fill="#8c6c78"/>
<rect x="1240" y="295" width="49" height="3" fill="#8c6c78"/>
<rect x="1240" y="291" width="49" height="1" fill="#be4244"/>
<rect x="1240" y="295" width="49" height="2" fill="#be4244"/>
<rect x="1240" y="302" width="49" height="6" fill="#d22e30"/>
<rect x="1240" y="303" width="49" height="2" fill="#be4244"/>
<rect x="1240" y="308" width="49" height="14" fill="#a65a60"/>
<rect x="1240" y="313" width="49" height="2" fill="#8c6c78"/>
<rect x="1240" y="311" width="49" height="2" fill="#8c6c78"/>
<rect x="1240" y="313" width="49" height="1" fill="#8c6c78"/>
<rect x="1240" y="314" width="49" height="3" fill="#be4244"/>
<rect x="1240" y="322" width="49" height="34" fill="#4e52a5"/>
<rect x="1240" y="333" width="49" height="1" fill="#62629a"/>
<rect x="1240" y="325" width="49" height="3" fill="#62629a"/>
<rect x="1240" y="343" width="49" height="2" fill="#62629a"/>
<rect x="1240" y="356" width="49" height="8" fill="#76728c"/>
<rect x="1240" y="357" width="49" height="2" fill="#62629a"/>
<rect x="1240" y="360" width="49" height="2" fill="#8c6c78"/>
<rect x="1240" y="364" width="49" height="108" fill="#4e52a5"/>
<rect x="1240" y="470" width="49" height="1" fill="#62629a"/>
<rect x="1240" y="395" width="49" height="2" fill="#62629a"/>
<rect x="1240" y="466" width="49" height="1" fill="#62629a"/>
<rect x="1240" y="432" width="49" height="2" fill="#62629a"/>
<rect x="1240" y="378" width="49" height="2" fill="#62629a"/>
<rect x="1240" y="435" width="49" height="2" fill="#62629a"/>
<rect x="1240" y="420" width="49" height="1" fill="#62629a"/>
<rect x="1240" y="449" width="49" height="2" fill="#62629a"/>
<rect x="1240" y="472" width="49" height="20" fill="#76728c"/>
<rect x="1240" y="484" width="49" height="3" fill="#62629a"/>
<rect x="1240" y="482" width="49" height="3" fill="#62629a"/>
<rect x="1240" y="474" width="49" height="2" fill="#8c6c78"/>
<rect x="1240" y="486" width="49" height="1" fill="#8c6c78"/>
<rect x="1240" y="490" width="49" height="1" fill="#8c6c78"/>
<rect x="1240" y="492" width="49" height="5" fill="#a65a60"/>
<rect x="1240" y="492" width="49" height="2" fill="#8c6c78"/>
<rect x="1240" y="494" width="49" height="1" fill="#be4244"/>
<rect x="1240" y="497" width="49" height="22" fill="#76728c"/>
<rect x="1240" y="508" width="49" height="2" fill="#62629a"/>
<rect x="1240" y="512" width="49" height="3" fill="#62629a"/>
<rect x="1240" y="499" width="49" height="2" fill="#62629a"/>
<rect x="1240" y="513" width="49" height="2" fill="#8c6c78"/>
<rect x="1240" y="507" width="49" height="1" fill="#8c6c78"/>
<rect x="1240" y="499" width="49" height="2" fill="#8c6c78"/>
<rect x="1240" y="519" width="49" height="45" fill="#4e52a5"/>
<rect x="1240" y="522" width="49" height="1" fill="#62629a"/>
<rect x="1240" y="547" width="49" height="2" fill="#62629a"/>
<rect x="1240" y="544" width="49" height="3" fill="#62629a"/>
<rect x="1240" y="527" width="49" height="3" fill="#62629a"/>
<rect x="1240" y="542" width="49" height="1" fill="#62629a"/>
<rect x="1240" y="538" width="49" height="1" fill="#62629a"/>
<rect x="1240" y="530" width="49" height="1" fill="#62629a"/>
<rect x="1240" y="539" width="49" height="3" fill="#62629a"/>
<rect x="1240" y="525" width="49" height="2" fill="#62629a"/>
<rect x="1240" y="544" width="49" height="1" fill="#62629a"/>
<rect x="1240" y="544" width="49" height="2" fill="#76728c"/>
<rect x="1240" y="561" width="49" height="1" fill="#76728c"/>
<rect x="1240" y="556" width="49" height="1" fill="#76728c"/>
<rect x="1240" y="564" width="49" height="38" fill="#4e52a5"/>
<rect x="1240" y="587" width="49" height="2" fill="#62629a"/>
<rect x="1240" y="594" width="49" height="2" fill="#62629a"/>
<rect x="1240" y="570" width="49" height="2" fill="#62629a"/>
<rect x="1240" y="602" width="49" height="49" fill="#4e52a5"/>
<rect x="1240" y="646" width="49" height="2" fill="#62629a"/>
<rect x="1240" y="633" width="49" height="1" fill="#62629a"/>
<rect x="1240" y="610" width="49" height="1" fill="#62629a"/>
<rect x="1240" y="646" width="49" height="1" fill="#62629a"/>
<rect x="1240" y="646" width="49" height="1" fill="#62629a"/>
<rect x="1240" y="642" width="49" height="2" fill="#62629a"/>
<rect x="1240" y="606" width="49" height="2" fill="#62629a"/>
<rect x="1240" y="633" width="49" height="1" fill="#62629a"/>
<rect x="1240" y="627" width="49" height="3" fill="#62629a"/>
<rect x="1240" y="623" width="49" height="1" fill="#62629a"/>
<rect x="1240" y="603" width="49" height="2" fill="#62629a"/>
<rect x="1240" y="640" width="49" height="1" fill="#62629a"/>
<rect x="1240" y="634" width="49" height="2" fill="#76728c"/>
<rect x="1240" y="642" width="49" height="3" fill="#76728c"/>
<rect x="1289" y="65" width="48" height="49" fill="#a65a60"/>
<rect x="1289" y="98" width="48" height="2" fill="#8c6c78"/>
<rect x="1289" y="67" width="48" height="1" fill="#8c6c78"/>
<rect x="1289" y="91" width="48" height="2" fill="#8c6c78"/>
<rect x="1289" y="91" width="48" height="1" fill="#8c6c78"/>
<rect x="1289" y="96" width="48" height="2" fill="#8c6c78"/>
<rect x="1289" y="105" width="48" height="1" fill="#8c6c78"/>
<rect x="1289" y="69" width="48" height="1" fill="#8c6c78"/>
<rect x="1289" y="83" width="48" height="1" fill="#8c6c78"/>
<rect x="1289" y="102" width="48" height="2" fill="#8c6c78"/>
<rect x="1289" y="93" width="48" height="1" fill="#8c6c78"/>
<rect x="1289" y="83" width="48" height="2" fill="#8c6c78"/>
<rect x="1289" y="74" width="48" height="1" fill="#be4244"/>
<rect x="1289" y="66" width="48" height="1" fill="#be4244"/>
<rect x="1289" y="74" width="48" height="1" fill="#be4244"/>
<rect x="1289" y="75" width="48" height="1" fill="#be4244"/>
<rect x="1289" y="80" width="48" height="2" fill="#be4244"/>
<rect x="1289" y="100" width="48" height="1" fill="#be4244"/>
<rect x="1289" y="67" width="48" height="2" fill="#be4244"/>
<rect x="1289" y="82" width="48" height="2" fill="#be4244"/>
<rect x="1289" y="114" width="48" height="58" fill="#be4244"/>
<rect x="1289" y="120" width="48" height="2" fill="#ae5458"/>
<rect x="1289" y="167" width="48" height="1" fill="#ae5458"/>
<rect x="1289" y="166" width="48" height="1" fill="#ae5458"/>
<rect x="1289" y="133" width="48" height="2" fill="#ae5458"/>
<rect x="1289" y="167" width="48" height="2" fill="#ae5458"/>
<rect x="1289" y="163" width="48" height="1" fill="#ae5458"/>
<rect x="1289" y="125" width="48" height="2" fill="#ae5458"/>
<rect x="1289" y="121" width="48" height="1" fill="#ae5458"/>
<rect x="1289" y="165" width="48" height="2" fill="#ae5458"/>
<rect x="1289" y="162" width="48" height="1" fill="#ae5458"/>
<rect x="1289" y="132" width="48" height="3" fill="#ae5458"/>
<rect x="1289" y="165" width="48" height="1" fill="#d22e30"/>
<rect x="1289" y="116" width="48" height="2" fill="#d22e30"/>
<rect x="1289" y="130" width="48" height="2" fill="#d22e30"/>
<rect x="1289" y="160" width="48" height="1" fill="#d22e30"/>
<rect x="1289" y="172" width="48" height="4" fill="#d22e30"/>
<rect x="1289" y="174" width="48" height="2" fill="#be4244"/>
<rect x="1289" y="176" width="48" height="4" fill="#be4244"/>
<rect x="1289" y="178" width="48" height="2" fill="#ae5458"/>
<rect x="1289" y="176" width="48" height="2" fill="#d22e30"/>
<rect x="1289" y="180" width="48" height="10" fill="#e02224"/>
<rect x="1289" y="184" width="48" height="1" fill="#d22e30"/>
<rect x="1289" y="183" width="48" height="2" fill="#d22e30"/>
<rect x="1289" y="190" width="48" height="10" fill="#be4244"/>
<rect x="1289" y="194" width="48" height="1" fill="#ae5458"/>
<rect x="1289" y="193" width="48" height="1" fill="#ae5458"/>
<rect x="1289" y="195" width="48" height="1" fill="#ae5458"/>
<rect x="1289" y="197" width="48" height="2" fill="#d22e30"/>
<rect x="1289" y="200" width="48" height="22" fill="#a65a60"/>
<rect x="1289" y="206" width="48" height="2" fill="#8c6c78"/>
<rect x="1289" y="210" width="48" height="1" fill="#8c6c78"/>
<rect x="1289" y="207" width="48" height="1" fill="#8c6c78"/>
<rect x="1289" y="216" width="48" height="2" fill="#8c6c78"/>
<rect x="1289" y="206" width="48" height="1" fill="#8c6c78"/>
<rect x="1289" y="200" width="48" height="1" fill="#be4244"/>
<rect x="1289" y="203" width="48" height="2" fill="#be4244"/>
<rect x="1289" y="201" width="48" height="1" fill="#be4244"/>
<rect x="1289" y="212" width="48" height="2" fill="#be4244"/>
<rect x="1289" y="222" width="48" height="18" fill="#be4244"/>
<rect x="1289" y="235" width="48" height="3" fill="#ae5458"/>
<rect x="1289" y="222" width="48" height="2" fill="#ae5458"/>
<rect x="1289" y="230" width="48" height="2" fill="#ae5458"/>
<rect x="1289" y="229" width="48" height="1" fill="#d22e30"/>
<rect x="1289" y="235" width="48" height="2" fill="#d22e30"/>
<rect x="1289" y="240" width="48" height="82" fill="#a65a60"/>
<rect x="1289" y="292" width="48" height="2" fill="#8c6c78"/>
<rect x="1289" y="268" width="48" height="1" fill="#8c6c78"/>
<rect x="1289" y="281" width="48" height="1" fill="#8c6c78"/>
<rect x="1289" y="311" width="48" height="3" fill="#8c6c78"/>
<rect x="1289" y="251" width="48" height="3" fill="#8c6c78"/>
<rect x="1289" y="277" width="48" height="2" fill="#8c6c78"/>
<rect x="1289" y="312" width="48" height="2" fill="#8c6c78"/>
<rect x="1289" y="281" width="48" height="2" fill="#8c6c78"/>
<rect x="1289" y="307" width="48" height="1" fill="#8c6c78"/>
<rect x="1289" y="283" width="48" height="2" fill="#8c6c78"/>
<rect x="1289" y="313" width="48" height="2" fill="#8c6c78"/>
<rect x="1289" y="289" width="48" height="1" fill="#8c6c78"/>
<rect x="1289" y="270" width="48" height="1" fill="#8c6c78"/>
<rect x="1289" y="253" width="48" height="2" fill="#8c6c78"/>
<rect x="1289" y="262" width="48" height="2" fill="#be4244"/>
<rect x="1289" y="249" width="48" height="2" fill="#be4244"/>
<rect x="1289" y="264" width="48" height="3" fill="#be4244"/>
<rect x="1289" y="241" width="48" height="2" fill="#be4244"/>
<rect x="1289" y="312" width="48" height="1" fill="#be4244"/>
<rect x="1289" y="310" width="48" height="2" fill="#be4244"/>
<rect x="1289" y="317" width="48" height="2" fill="#be4244"/>
<rect x="1289" y="297" width="48" height="2" fill="#be4244"/>
<rect x="1289" y="314" width="48" height="3" fill="#be4244"/>
<rect x="1289" y="322" width="48" height="6" fill="#4e52a5"/>
<rect x="1289" y="326" width="48" height="2" fill="#62629a"/>
<rect x="1289" y="322" width="48" height="2" fill="#62629a"/>
<rect x="1289" y="324" width="48" height="2" fill="#76728c"/>
<rect x="1289" y="328" width="48" height="6" fill="#76728c"/>
<rect x="1289" y="329" width="48" height="1" fill="#62629a"/>
<rect x="1289" y="332" width="48" height="2" fill="#8c6c78"/>
<rect x="1289" y="334" width="48" height="185" fill="#4e52a5"/>
<rect x="1289" y="357" width="48" height="2" fill="#62629a"/>
<rect x="1289" y="357" width="48" height="2" fill="#62629a"/>
<rect x="1289" y="457" width="48" height="2" fill="#62629a"/>
<rect x="1289" y="368" width="48" height="1" fill="#62629a"/>
<rect x="1289" y="409" width="48" height="2" fill="#62629a"/>
<rect x="1289" y="430" width="48" height="2" fill="#62629a"/>
<rect x="1289" y="444" width="48" height="1" fill="#62629a"/>
<rect x="1289" y="505" width="48" height="1" fill="#62629a"/>
<rect x="1289" y="376" width="48" height="2" fill="#62629a"/>
<rect x="1289" y="370" width="48" height="1" fill="#62629a"/>
<rect x="1289" y="422" width="48" height="3" fill="#62629a"/>
<rect x="1289" y="398" width="48" height="3" fill="#62629a"/>
<rect x="1289" y="391" width="48" height="2" fill="#62629a"/>
<rect x="1289" y="358" width="48" height="1" fill="#62629a"/>
<rect x="1289" y="516" width="48" height="1" fill="#62629a"/>
<rect x="1289" y="455" width="48" height="1" fill="#62629a"/>
<rect x="1289" y="379" width="48" height="1" fill="#62629a"/>
<rect x="1289" y="499" width="48" height="1" fill="#62629a"/>
<rect x="1289" y="435" width="48" height="1" fill="#62629a"/>
<rect x="1289" y="511" width="48" height="2" fill="#62629a"/>
<rect x="1289" y="440" width="48" height="3" fill="#62629a"/>
<rect x="1289" y="471" width="48" height="1" fill="#62629a"/>
<rect x="1289" y="474" width="48" height="2" fill="#62629a"/>
<rect x="1289" y="444" width="48" height="2" fill="#62629a"/>
<rect x="1289" y="393" width="48" height="3" fill="#62629a"/>
<rect x="1289" y="359" width="48" height="3" fill="#62629a"/>
<rect x="1289" y="512" width="48" height="2" fill="#62629a"/>
<rect x="1289" y="366" width="48" height="1" fill="#62629a"/>
<rect x="1289" y="509" width="48" height="3" fill="#62629a"/>
<rect x="1289" y="504" width="48" height="1" fill="#62629a"/>
<rect x="1289" y="489" width="48" height="2" fill="#62629a"/>
<rect x="1289" y="438" width="48" height="1" fill="#62629a"/>
<rect x="1289" y="496" width="48" height="1" fill="#62629a"/>
<rect x="1289" y="486" width="48" height="3" fill="#62629a"/>
<rect x="1289" y="406" width="48" height="1" fill="#62629a"/>
<rect x="1289" y="468" width="48" height="2" fill="#62629a"/>
<rect x="1289" y="343" width="48" height="2" fill="#62629a"/>
<rect x="1289" y="515" width="48" height="2" fill="#62629a"/>
<rect x="1289" y="490" width="48" height="2" fill="#62629a"/>
<rect x="1289" y="456" width="48" height="1" fill="#62629a"/>
<rect x="1289" y="413" width="48" height="3" fill="#62629a"/>
<rect x="1289" y="452" width="48" height="1" fill="#76728c"/>
<rect x="1289" y="474" width="48" height="1" fill="#76728c"/>
<rect x="1289" y="466" width="48" height="2" fill="#76728c"/>
<rect x="1289" y="419" width="48" height="2" fill="#76728c"/>
<rect x="1289" y="362" width="48" height="1" fill="#76728c"/>
<rect x="1289" y="459" width="48" height="2" fill="#76728c"/>
<rect x="1289" y="465" width="48" height="2" fill="#76728c"/>
<rect x="1289" y="335" width="48" height="1" fill="#76728c"/>
<rect x="1289" y="502" width="48" height="2" fill="#76728c"/>
<rect x="1289" y="359" width="48" height="1" fill="#76728c"/>
<rect x="1289" y="519" width="48" height="45" fill="#4e52a5"/>
<rect x="1289" y="554" width="48" height="2" fill="#62629a"/>
<rect x="1289" y="558" width="48" height="2" fill="#62629a"/>
<rect x="1289" y="553" width="48" height="3" fill="#62629a"/>
<rect x="1289" y="564" width="48" height="38" fill="#76728c"/>
<rect x="1289" y="594" width="48" height="3" fill="#62629a"/>
<rect x="1289" y="570" width="48" height="2" fill="#62629a"/>
<rect x="1289" y="586" width="48" height="2" fill="#62629a"/>
<rect x="1289" y="567" width="48" height="2" fill="#62629a"/>
<rect x="1289" y="566" width="48" height="3" fill="#62629a"/>
<rect x="1289" y="599" width="48" height="3" fill="#8c6c78"/>
<rect x="1289" y="583" width="48" height="3" fill="#8c6c78"/>
<rect x="1289" y="589" width="48" height="1" fill="#8c6c78"/>
<rect x="1289" y="602" width="48" height="12" fill="#4e52a5"/>
<rect x="1289" y="607" width="48" height="2" fill="#62629a"/>
<rect x="1289" y="613" width="48" height="1" fill="#62629a"/>
<rect x="1289" y="607" width="48" height="2" fill="#62629a"/>
<rect x="1289" y="609" width="48" height="1" fill="#76728c"/>
<rect x="1289" y="614" width="48" height="27" fill="#76728c"/>
<rect x="1289" y="630" width="48" height="2" fill="#62629a"/>
<rect x="1289" y="623" width="48" height="2" fill="#62629a"/>
<rect x="1289" y="614" width="48" height="1" fill="#62629a"/>
<rect x="1289" y="630" width="48" height="1" fill="#62629a"/>
<rect x="1289" y="629" width="48" height="2" fill="#62629a"/>
<rect x="1289" y="634" width="48" height="1" fill="#8c6c78"/>
<rect x="1289" y="626" width="48" height="1" fill="#8c6c78"/>
<rect x="1289" y="624" width="48" height="3" fill="#8c6c78"/>
<rect x="1289" y="641" width="48" height="10" fill="#4e52a5"/>
<rect x="1289" y="646" width="48" height="1" fill="#62629a"/>
<rect x="1289" y="642" width="48" height="1" fill="#62629a"/>
<rect x="1289" y="644" width="48" height="2" fill="#62629a"/>
<rect x="1289" y="642" width="48" height="1" fill="#76728c"/>
<rect x="1337" y="65" width="49" height="15" fill="#a65a60"/>
<rect x="1337" y="73" width="49" height="1" fill="#8c6c78"/>
<rect x="1337" y="70" width="49" height="3" fill="#8c6c78"/>
<rect x="1337" y="66" width="49" height="1" fill="#8c6c78"/>
<rect x="1337" y="70" width="49" height="2" fill="#be4244"/>
<rect x="1337" y="70" width="49" height="1" fill="#be4244"/>
<rect x="1337" y="80" width="49" height="4" fill="#d22e30"/>
<rect x="1337" y="80" width="49" height="3" fill="#be4244"/>
<rect x="1337" y="84" width="49" height="57" fill="#a65a60"/>
<rect x="1337" y="101" width="49" height="2" fill="#8c6c78"/>
<rect x="1337" y="85" width="49" height="1" fill="#8c6c78"/>
<rect x="1337" y="107" width="49" height="2" fill="#8c6c78"/>
<rect x="1337" y="100" width="49" height="3" fill="#8c6c78"/>
<rect x="1337" y="131" width="49" height="2" fill="#8c6c78"/>
<rect x="1337" y="99" width="49" height="2" fill="#8c6c78"/>
<rect x="1337" y="104" width="49" height="2" fill="#8c6c78"/>
<rect x="1337" y="103" width="49" height="2" fill="#8c6c78"/>
<rect x="1337" y="137" width="49" height="1" fill="#8c6c78"/>
<rect x="1337" y="138" width="49" height="3" fill="#be4244"/>
<rect x="1337" y="133" width="49" height="1" fill="#be4244"/>
<rect x="1337" y="104" width="49" height="3" fill="#be4244"/>
<rect x="1337" y="91" width="49" height="2" fill="#be4244"/>
<rect x="1337" y="89" width="49" height="3" fill="#be4244"/>
<rect x="1337" y="141" width="49" height="25" fill="#be4244"/>
<rect x="1337" y="159" width="49" height="2" fill="#ae5458"/>
<rect x="1337" y="161" width="49" height="1" fill="#ae5458"/>
<rect x="1337" y="156" width="49" height="1" fill="#ae5458"/>
<rect x="1337" y="152" width="49" height="2" fill="#ae5458"/>
<rect x="1337" y="163" width="49" height="2" fill="#ae5458"/>
<rect x="1337" y="163" width="49" height="2" fill="#d22e30"/>
<rect x="1337" y="166" width="49" height="34" fill="#be4244"/>
<rect x="1337" y="198" width="49" height="1" fill="#ae5458"/>
<rect x="1337" y="192" width="49" height="2" fill="#ae5458"/>
<rect x="1337" y="187" width="49" height="3" fill="#ae5458"/>
<rect x="1337" y="169" width="49" height="2" fill="#ae5458"/>
<rect x="1337" y="176" width="49" height="1" fill="#ae5458"/>
<rect x="1337" y="180" width="49" height="2" fill="#ae5458"/>
<rect x="1337" y="196" width="49" height="3" fill="#d22e30"/>
<rect x="1337" y="200" width="49" height="22" fill="#a65a60"/>
<rect x="1337" y="220" width="49" height="2" fill="#8c6c78"/>
<rect x="1337" y="218" width="49" height="3" fill="#8c6c78"/>
<rect x="1337" y="218" width="49" height="2" fill="#8c6c78"/>
<rect x="1337" y="202" width="49" height="1" fill="#8c6c78"/>
<rect x="1337" y="216" width="49" height="2" fill="#be4244"/>
<rect x="1337" y="202" width="49" height="2" fill="#be4244"/>
<rect x="1337" y="202" width="49" height="3" fill="#be4244"/>
<rect x="1337" y="222" width="49" height="18" fill="#be4244"/>
<rect x="1337" y="233" width="49" height="3" fill="#ae5458"/>
<rect x="1337" y="222" width="49" height="2" fill="#ae5458"/>
<rect x="1337" y="223" width="49" height="1" fill="#ae5458"/>
<rect x="1337" y="229" width="49" height="3" fill="#d22e30"/>
<rect x="1337" y="240" width="49" height="52" fill="#a65a60"/>
<rect x="1337" y="265" width="49" height="2" fill="#8c6c78"/>
<rect x="1337" y="275" width="49" height="2" fill="#8c6c78"/>
<rect x="1337" y="273" width="49" height="1" fill="#8c6c78"/>
<rect x="1337" y="287" width="49" height="1" fill="#8c6c78"/>
<rect x="1337" y="289" width="49" height="3" fill="#8c6c78"/>
<rect x="1337" y="276" width="49" height="2" fill="#8c6c78"/>
<rect x="1337" y="260" width="49" height="3" fill="#8c6c78"/>
<rect x="1337" y="278" width="49" height="3" fill="#8c6c78"/>
<rect x="1337" y="246" width="49" height="2" fill="#be4244"/>
<rect x="1337" y="266" width="49" height="2" fill="#be4244"/>
<rect x="1337" y="284" width="49" height="1" fill="#be4244"/>
<rect x="1337" y="284" width="49" height="3" fill="#be4244"/>
<rect x="1337" y="244" width="49" height="2" fill="#be4244"/>
<rect x="1337" y="258" width="49" height="2" fill="#be4244"/>
<rect x="1337" y="292" width="49" height="30" fill="#be4244"/>
<rect x="1337" y="319" width="49" height="1" fill="#ae5458"/>
<rect x="1337" y="320" width="49" height="1" fill="#ae5458"/>
<rect x="1337" y="306" width="49" height="2" fill="#ae5458"/>
<rect x="1337" y="297" width="49" height="2" fill="#ae5458"/>
<rect x="1337" y="312" width="49" height="1" fill="#ae5458"/>
<rect x="1337" y="310" width="49" height="1" fill="#ae5458"/>
<rect x="1337" y="300" width="49" height="1" fill="#ae5458"/>
<rect x="1337" y="298" width="49" height="1" fill="#d22e30"/>
<rect x="1337" y="317" width="49" height="1" fill="#d22e30"/>
<rect x="1337" y="306" width="49" height="1" fill="#d22e30"/>
<rect x="1337" y="322" width="49" height="6" fill="#4e52a5"/>
<rect x="1337" y="324" width="49" height="2" fill="#62629a"/>
<rect x="1337" y="326" width="49" height="2" fill="#62629a"/>
<rect x="1337" y="323" width="49" height="2" fill="#76728c"/>
<rect x="1337" y="328" width="49" height="50" fill="#76728c"/>
<rect x="1337" y="354" width="49" height="1" fill="#62629a"/>
<rect x="1337" y="351" width="49" height="1" fill="#62629a"/>
<rect x="1337" y="358" width="49" height="1" fill="#62629a"/>
<rect x="1337" y="330" width="49" height="2" fill="#62629a"/>
<rect x="1337" y="334" width="49" height="3" fill="#62629a"/>
<rect x="1337" y="361" width="49" height="2" fill="#62629a"/>
<rect x="1337" y="338" width="49" height="3" fill="#62629a"/>
<rect x="1337" y="336" width="49" height="1" fill="#8c6c78"/>
<rect x="1337" y="372" width="49" height="2" fill="#8c6c78"/>
<rect x="1337" y="355" width="49" height="1" fill="#8c6c78"/>
<rect x="1337" y="368" width="49" height="1" fill="#8c6c78"/>
<rect x="1337" y="331" width="49" height="1" fill="#8c6c78"/>
<rect x="1337" y="361" width="49" height="2" fill="#8c6c78"/>
<rect x="1337" y="371" width="49" height="1" fill="#8c6c78"/>
<rect x="1337" y="378" width="49" height="133" fill="#4e52a5"/>
<rect x="1337" y="492" width="49" height="2" fill="#62629a"/>
<rect x="1337" y="384" width="49" height="2" fill="#62629a"/>
<rect x="1337" y="409" width="49" height="2" fill="#62629a"/>
<rect x="1337" y="407" width="49" height="3" fill="#62629a"/>
<rect x="1337" y="448" width="49" height="2" fill="#62629a"/>
<rect x="1337" y="395" width="49" height="1" fill="#62629a"/>
<rect x="1337" y="485" width="49" height="1" fill="#62629a"/>
<rect x="1337" y="436" width="49" height="1" fill="#62629a"/>
<rect x="1337" y="410" width="49" height="1" fill="#62629a"/>
<rect x="1337" y="486" width="49" height="2" fill="#62629a"/>
<rect x="1337" y="378" width="49" height="2" fill="#62629a"/>
<rect x="1337" y="427" width="49" height="2" fill="#62629a"/>
<rect x="1337" y="472" width="49" height="1" fill="#62629a"/>
<rect x="1337" y="470" width="49" height="1" fill="#62629a"/>
<rect x="1337" y="507" width="49" height="1" fill="#62629a"/>
<rect x="1337" y="442" width="49" height="1" fill="#62629a"/>
<rect x="1337" y="407" width="49" height="2" fill="#62629a"/>
<rect x="1337" y="445" width="49" height="1" fill="#62629a"/>
<rect x="1337" y="433" width="49" height="1" fill="#62629a"/>
<rect x="1337" y="448" width="49" height="1" fill="#62629a"/>
<rect x="1337" y="501" width="49" height="1" fill="#62629a"/>
<rect x="1337" y="493" width="49" height="2" fill="#62629a"/>
<rect x="1337" y="507" width="49" height="2" fill="#62629a"/>
<rect x="1337" y="400" width="49" height="1" fill="#62629a"/>
<rect x="1337" y="437" width="49" height="3" fill="#62629a"/>
<rect x="1337" y="405" width="49" height="2" fill="#62629a"/>
<rect x="1337" y="410" width="49" height="1" fill="#62629a"/>
<rect x="1337" y="389" width="49" height="2" fill="#62629a"/>
<rect x="1337" y="487" width="49" height="2" fill="#62629a"/>
<rect x="1337" y="393" width="49" height="2" fill="#62629a"/>
<rect x="1337" y="380" width="49" height="3" fill="#62629a"/>
<rect x="1337" y="396" width="49" height="1" fill="#62629a"/>
<rect x="1337" y="411" width="49" height="2" fill="#76728c"/>
<rect x="1337" y="396" width="49" height="2" fill="#76728c"/>
<rect x="1337" y="437" width="49" height="2" fill="#76728c"/>
<rect x="1337" y="442" width="49" height="2" fill="#76728c"/>
<rect x="1337" y="461" width="49" height="1" fill="#76728c"/>
<rect x="1337" y="468" width="49" height="1" fill="#76728c"/>
<rect x="1337" y="441" width="49" height="3" fill="#76728c"/>
<rect x="1337" y="511" width="49" height="8" fill="#76728c"/>
<rect x="1337" y="517" width="49" height="1" fill="#62629a"/>
<rect x="1337" y="515" width="49" height="3" fill="#62629a"/>
<rect x="1337" y="513" width="49" height="1" fill="#8c6c78"/>
<rect x="1337" y="511" width="49" height="1" fill="#8c6c78"/>
<rect x="1337" y="519" width="49" height="49" fill="#4e52a5"/>
<rect x="1337" y="541" width="49" height="2" fill="#62629a"/>
<rect x="1337" y="533" width="49" height="1" fill="#62629a"/>
<rect x="1337" y="555" width="49" height="2" fill="#62629a"/>
<rect x="1337" y="555" width="49" height="1" fill="#62629a"/>
<rect x="1337" y="533" width="49" height="2" fill="#62629a"/>
<rect x="1337" y="522" width="49" height="2" fill="#62629a"/>
<rect x="1337" y="560" width="49" height="3" fill="#62629a"/>
<rect x="1337" y="543" width="49" height="2" fill="#62629a"/>
<rect x="1337" y="546" width="49" height="1" fill="#62629a"/>
<rect x="1337" y="522" width="49" height="2" fill="#62629a"/>
<rect x="1337" y="566" width="49" height="2" fill="#62629a"/>
<rect x="1337" y="542" width="49" height="2" fill="#76728c"/>
<rect x="1337" y="554" width="49" height="1" fill="#76728c"/>
<rect x="1337" y="540" width="49" height="2" fill="#76728c"/>
<rect x="1337" y="568" width="49" height="40" fill="#76728c"/>
<rect x="1337" y="598" width="49" height="2" fill="#62629a"/>
<rect x="1337" y="590" width="49" height="1" fill="#62629a"/>
<rect x="1337" y="599" width="49" height="2" fill="#62629a"/>
<rect x="1337" y="585" width="49" height="3" fill="#62629a"/>
<rect x="1337" y="573" width="49" height="1" fill="#62629a"/>
<rect x="1337" y="571" width="49" height="2" fill="#62629a"/>
<rect x="1337" y="572" width="49" height="2" fill="#8c6c78"/>
<rect x="1337" y="600" width="49" height="1" fill="#8c6c78"/>
<rect x="1337" y="571" width="49" height="2" fill="#8c6c78"/>
<rect x="1337" y="589" width="49" height="2" fill="#8c6c78"/>
<rect x="1337" y="600" width="49" height="1" fill="#8c6c78"/>
<rect x="1337" y="608" width="49" height="12" fill="#4e52a5"/>
<rect x="1337" y="614" width="49" height="2" fill="#62629a"/>
<rect x="1337" y="613" width="49" height="3" fill="#62629a"/>
<rect x="1337" y="608" width="49" height="2" fill="#76728c"/>
<rect x="1337" y="620" width="49" height="25" fill="#76728c"/>
<rect x="1337" y="628" width="49" height="1" fill="#62629a"/>
<rect x="1337" y="640" width="49" height="1" fill="#62629a"/>
<rect x="1337" y="634" width="49" height="1" fill="#62629a"/>
<rect x="1337" y="624" width="49" height="1" fill="#62629a"/>
<rect x="1337" y="633" width="49" height="1" fill="#62629a"/>
<rect x="1337" y="639" width="49" height="2" fill="#62629a"/>
<rect x="1337" y="625" width="49" height="2" fill="#8c6c78"/>
<rect x="1337" y="625" width="49" height="1" fill="#8c6c78"/>
<rect x="1337" y="621" width="49" height="2" fill="#8c6c78"/>
<rect x="1337" y="645" width="49" height="6" fill="#4e52a5"/>
<rect x="1337" y="646" width="49" height="2" fill="#62629a"/>
<rect x="1337" y="647" width="49" height="1" fill="#62629a"/>
<rect x="1337" y="646" width="49" height="2" fill="#76728c"/>
<rect x="1386" y="65" width="49" height="61" fill="#be4244"/>
<rect x="1386" y="77" width="49" height="2" fill="#ae5458"/>
<rect x="1386" y="96" width="49" height="3" fill="#ae5458"/>
<rect x="1386" y="100" width="49" height="3" fill="#ae5458"/>
<rect x="1386" y="81" width="49" height="1" fill="#ae5458"/>
<rect x="1386" y="80" width="49" height="1" fill="#ae5458"/>
<rect x="1386" y="77" width="49" height="3" fill="#ae5458"/>
<rect x="1386" y="85" width="49" height="2" fill="#ae5458"/>
<rect x="1386" y="99" width="49" height="2" fill="#ae5458"/>
<rect x="1386" y="112" width="49" height="2" fill="#ae5458"/>
<rect x="1386" y="84" width="49" height="1" fill="#d22e30"/>
<rect x="1386" y="111" width="49" height="1" fill="#d22e30"/>
<rect x="1386" y="101" width="49" height="2" fill="#d22e30"/>
<rect x="1386" y="69" width="49" height="1" fill="#d22e30"/>
<rect x="1386" y="126" width="49" height="4" fill="#76728c"/>
<rect x="1386" y="128" width="49" height="1" fill="#62629a"/>
<rect x="1386" y="129" width="49" height="1" fill="#8c6c78"/>
<rect x="1386" y="130" width="49" height="38" fill="#be4244"/>
<rect x="1386" y="140" width="49" height="2" fill="#ae5458"/>
<rect x="1386" y="162" width="49" height="2" fill="#ae5458"/>
<rect x="1386" y="161" width="49" height="1" fill="#ae5458"/>
<rect x="1386" y="164" width="49" height="3" fill="#ae5458"/>
<rect x="1386" y="151" width="49" height="2" fill="#ae5458"/>
<rect x="1386" y="153" width="49" height="1" fill="#ae5458"/>
<rect x="1386" y="152" width="49" height="2" fill="#ae5458"/>
<rect x="1386" y="144" width="49" height="1" fill="#d22e30"/>
<rect x="1386" y="140" width="49" height="2" fill="#d22e30"/>
<rect x="1386" y="144" width="49" height="3" fill="#d22e30"/>
<rect x="1386" y="168" width="49" height="8" fill="#76728c"/>
<rect x="1386" y="173" width="49" height="1" fill="#62629a"/>
<rect x="1386" y="173" width="49" height="1" fill="#62629a"/>
<rect x="1386" y="171" width="49" height="1" fill="#8c6c78"/>
<rect x="1386" y="169" width="49" height="2" fill="#8c6c78"/>
<rect x="1386" y="176" width="49" height="20" fill="#be4244"/>
<rect x="1386" y="181" width="49" height="2" fill="#ae5458"/>
<rect x="1386" y="191" width="49" height="2" fill="#ae5458"/>
<rect x="1386" y="189" width="49" height="1" fill="#ae5458"/>
<rect x="1386" y="190" width="49" height="2" fill="#ae5458"/>
<rect x="1386" y="180" width="49" height="2" fill="#d22e30"/>
<rect x="1386" y="196" width="49" height="4" fill="#76728c"/>
<rect x="1386" y="198" width="49" height="1" fill="#62629a"/>
<rect x="1386" y="198" width="49" height="2" fill="#8c6c78"/>
<rect x="1386" y="200" width="49" height="8" fill="#be4244"/>
<rect x="1386" y="200" width="49" height="2" fill="#ae5458"/>
<rect x="1386" y="203" width="49" height="2" fill="#ae5458"/>
<rect x="1386" y="203" width="49" height="2" fill="#d22e30"/>
<rect x="1386" y="208" width="49" height="4" fill="#d22e30"/>
<rect x="1386" y="208" width="49" height="2" fill="#be4244"/>
<rect x="1386" y="212" width="49" height="42" fill="#a65a60"/>
<rect x="1386" y="240" width="49" height="1" fill="#8c6c78"/>
<rect x="1386" y="212" width="49" height="1" fill="#8c6c78"/>
<rect x="1386" y="215" width="49" height="3" fill="#8c6c78"/>
<rect x="1386" y="241" width="49" height="2" fill="#8c6c78"/>
<rect x="1386" y="238" width="49" height="2" fill="#8c6c78"/>
<rect x="1386" y="244" width="49" height="2" fill="#8c6c78"/>
<rect x="1386" y="231" width="49" height="2" fill="#8c6c78"/>
<rect x="1386" y="224" width="49" height="1" fill="#be4244"/>
<rect x="1386" y="233" width="49" height="2" fill="#be4244"/>
<rect x="1386" y="221" width="49" height="2" fill="#be4244"/>
<rect x="1386" y="216" width="49" height="3" fill="#be4244"/>
<rect x="1386" y="237" width="49" height="1" fill="#be4244"/>
<rect x="1386" y="254" width="49" height="4" fill="#d22e30"/>
<rect x="1386" y="256" width="49" height="2" fill="#be4244"/>
<rect x="1386" y="258" width="49" height="34" fill="#a65a60"/>
<rect x="1386" y="268" width="49" height="1" fill="#8c6c78"/>
<rect x="1386" y="283" width="49" height="1" fill="#8c6c78"/>
<rect x="1386" y="282" width="49" height="2" fill="#8c6c78"/>
<rect x="1386" y="275" width="49" height="3" fill="#8c6c78"/>
<rect x="1386" y="289" width="49" height="2" fill="#8c6c78"/>
<rect x="1386" y="274" width="49" height="2" fill="#8c6c78"/>
<rect x="1386" y="278" width="49" height="2" fill="#be4244"/>
<rect x="1386" y="272" width="49" height="2" fill="#be4244"/>
<rect x="1386" y="259" width="49" height="1" fill="#be4244"/>
<rect x="1386" y="282" width="49" height="2" fill="#be4244"/>
<rect x="1386" y="265" width="49" height="2" fill="#be4244"/>
<rect x="1386" y="292" width="49" height="30" fill="#96646e"/>
<rect x="1386" y="320" width="49" height="2" fill="#8c6c78"/>
<rect x="1386" y="309" width="49" height="2" fill="#8c6c78"/>
<rect x="1386" y="310" width="49" height="3" fill="#8c6c78"/>
<rect x="1386" y="311" width="49" height="2" fill="#8c6c78"/>
<rect x="1386" y="300" width="49" height="2" fill="#a65a60"/>
<rect x="1386" y="307" width="49" height="3" fill="#a65a60"/>
<rect x="1386" y="304" width="49" height="1" fill="#a65a60"/>
<rect x="1386" y="305" width="49" height="3" fill="#a65a60"/>
<rect x="1386" y="322" width="49" height="8" fill="#76728c"/>
<rect x="1386" y="325" width="49" height="1" fill="#62629a"/>
<rect x="1386" y="324" width="49" height="2" fill="#62629a"/>
<rect x="1386" y="322" width="49" height="1" fill="#8c6c78"/>
<rect x="1386" y="323" width="49" height="1" fill="#8c6c78"/>
<rect x="1386" y="330" width="49" height="144" fill="#4e52a5"/>
<rect x="1386" y="356" width="49" height="3" fill="#62629a"/>
<rect x="1386" y="403" width="49" height="2" fill="#62629a"/>
<rect x="1386" y="343" width="49" height="1" fill="#62629a"/>
<rect x="1386" y="331" width="49" height="2" fill="#62629a"/>
<rect x="1386" y="460" width="49" height="1" fill="#62629a"/>
<rect x="1386" y="341" width="49" height="2" fill="#62629a"/>
<rect x="1386" y="468" width="49" height="2" fill="#62629a"/>
<rect x="1386" y="383" width="49" height="1" fill="#62629a"/>
<rect x="1386" y="454" width="49" height="1" fill="#62629a"/>
<rect x="1386" y="418" width="49" height="1" fill="#62629a"/>
<rect x="1386" y="474" width="49" height="25" fill="#76728c"/>
<rect x="1386" y="493" width="49" height="2" fill="#62629a"/>
<rect x="1386" y="493" width="49" height="1" fill="#62629a"/>
<rect x="1386" y="484" width="49" height="2" fill="#62629a"/>
<rect x="1386" y="497" width="49" height="1" fill="#62629a"/>
<rect x="1386" y="490" width="49" height="2" fill="#62629a"/>
<rect x="1386" y="487" width="49" height="1" fill="#8c6c78"/>
<rect x="1386" y="475" width="49" height="2" fill="#8c6c78"/>
<rect x="1386" y="479" width="49" height="3" fill="#8c6c78"/>
<rect x="1386" y="499" width="49" height="152" fill="#4e52a5"/>
<rect x="1386" y="542" width="49" height="2" fill="#62629a"/>
<rect x="1386" y="566" width="49" height="1" fill="#62629a"/>
<rect x="1386" y="565" width="49" height="1" fill="#62629a"/>
<rect x="1386" y="552" width="49" height="2" fill="#62629a"/>
<rect x="1386" y="569" width="49" height="2" fill="#62629a"/>
<rect x="1386" y="570" width="49" height="3" fill="#62629a"/>
<rect x="1386" y="535" width="49" height="1" fill="#62629a"/>
<rect x="1386" y="580" width="49" height="3" fill="#62629a"/>
<rect x="1386" y="553" width="49" height="2" fill="#62629a"/>
<rect x="1386" y="606" width="49" height="2" fill="#62629a"/>
<rect x="1386" y="574" width="49" height="2" fill="#62629a"/>
<rect x="1435" y="65" width="49" height="63" fill="#a65a60"/>
<rect x="1435" y="102" width="49" height="2" fill="#8c6c78"/>
<rect x="1435" y="81" width="49" height="2" fill="#8c6c78"/>
<rect x="1435" y="89" width="49" height="2" fill="#8c6c78"/>
<rect x="1435" y="100" width="49" height="2" fill="#8c6c78"/>
<rect x="1435" y="121" width="49" height="2" fill="#8c6c78"/>
<rect x="1435" y="99" width="49" height="2" fill="#8c6c78"/>
<rect x="1435" y="111" width="49" height="1" fill="#8c6c78"/>
<rect x="1435" y="87" width="49" height="1" fill="#8c6c78"/>
<rect x="1435" y="66" width="49" height="1" fill="#8c6c78"/>
<rect x="1435" y="119" width="49" height="1" fill="#8c6c78"/>
<rect x="1435" y="125" width="49" height="1" fill="#8c6c78"/>
<rect x="1435" y="122" width="49" height="1" fill="#8c6c78"/>
<rect x="1435" y="117" width="49" height="1" fill="#8c6c78"/>
<rect x="1435" y="125" width="49" height="1" fill="#be4244"/>
<rect x="1435" y="66" width="49" height="1" fill="#be4244"/>
<rect x="1435" y="89" width="49" height="1" fill="#be4244"/>
<rect x="1435" y="95" width="49" height="2" fill="#be4244"/>
<rect x="1435" y="105" width="49" height="2" fill="#be4244"/>
<rect x="1435" y="102" width="49" height="1" fill="#be4244"/>
<rect x="1435" y="107" width="49" height="1" fill="#be4244"/>
<rect x="1435" y="94" width="49" height="1" fill="#be4244"/>
<rect x="1435" y="94" width="49" height="2" fill="#be4244"/>
<rect x="1435" y="91" width="49" height="1" fill="#be4244"/>
<rect x="1435" y="128" width="49" height="14" fill="#d22e30"/>
<rect x="1435" y="134" width="49" height="2" fill="#be4244"/>
<rect x="1435" y="130" width="49" height="1" fill="#be4244"/>
<rect x="1435" y="142" width="49" height="38" fill="#a65a60"/>
<rect x="1435" y="152" width="49" height="2" fill="#8c6c78"/>
<rect x="1435" y="144" width="49" height="2" fill="#8c6c78"/>
<rect x="1435" y="151" width="49" height="2" fill="#8c6c78"/>
<rect x="1435" y="154" width="49" height="1" fill="#8c6c78"/>
<rect x="1435" y="167" width="49" height="2" fill="#8c6c78"/>
<rect x="1435" y="142" width="49" height="1" fill="#8c6c78"/>
<rect x="1435" y="151" width="49" height="2" fill="#8c6c78"/>
<rect x="1435" y="154" width="49" height="1" fill="#be4244"/>
<rect x="1435" y="158" width="49" height="2" fill="#be4244"/>
<rect x="1435" y="165" width="49" height="2" fill="#be4244"/>
<rect x="1435" y="145" width="49" height="2" fill="#be4244"/>
<rect x="1435" y="177" width="49" height="3" fill="#be4244"/>
<rect x="1435" y="180" width="49" height="12" fill="#76728c"/>
<rect x="1435" y="181" width="49" height="1" fill="#62629a"/>
<rect x="1435" y="186" width="49" height="1" fill="#62629a"/>
<rect x="1435" y="190" width="49" height="1" fill="#62629a"/>
<rect x="1435" y="184" width="49" height="2" fill="#8c6c78"/>
<rect x="1435" y="185" width="49" height="1" fill="#8c6c78"/>
<rect x="1435" y="192" width="49" height="10" fill="#4e52a5"/>
<rect x="1435" y="197" width="49" height="2" fill="#62629a"/>
<rect x="1435" y="198" width="49" height="2" fill="#62629a"/>
<rect x="1435" y="198" width="49" height="1" fill="#76728c"/>
<rect x="1435" y="202" width="49" height="20" fill="#a65a60"/>
<rect x="1435" y="216" width="49" height="2" fill="#8c6c78"/>
<rect x="1435" y="202" width="49" height="1" fill="#8c6c78"/>
<rect x="1435" y="218" width="49" height="1" fill="#8c6c78"/>
<rect x="1435" y="212" width="49" height="1" fill="#8c6c78"/>
<rect x="1435" y="214" width="49" height="1" fill="#8c6c78"/>
<rect x="1435" y="207" width="49" height="2" fill="#be4244"/>
<rect x="1435" y="210" width="49" height="2" fill="#be4244"/>
<rect x="1435" y="218" width="49" height="3" fill="#be4244"/>
<rect x="1435" y="222" width="49" height="30" fill="#be4244"/>
<rect x="1435" y="229" width="49" height="2" fill="#ae5458"/>
<rect x="1435" y="236" width="49" height="1" fill="#ae5458"/>
<rect x="1435" y="229" width="49" height="2" fill="#ae5458"/>
<rect x="1435" y="240" width="49" height="2" fill="#ae5458"/>
<rect x="1435" y="242" width="49" height="1" fill="#ae5458"/>
<rect x="1435" y="224" width="49" height="1" fill="#ae5458"/>
<rect x="1435" y="246" width="49" height="2" fill="#d22e30"/>
<rect x="1435" y="244" width="49" height="1" fill="#d22e30"/>
<rect x="1435" y="252" width="49" height="10" fill="#e02224"/>
<rect x="1435" y="259" width="49" height="1" fill="#d22e30"/>
<rect x="1435" y="256" width="49" height="2" fill="#d22e30"/>
<rect x="1435" y="262" width="49" height="13" fill="#d22e30"/>
<rect x="1435" y="267" width="49" height="1" fill="#be4244"/>
<rect x="1435" y="265" width="49" height="2" fill="#be4244"/>
<rect x="1435" y="275" width="49" height="17" fill="#be4244"/>
<rect x="1435" y="275" width="49" height="2" fill="#ae5458"/>
<rect x="1435" y="284" width="49" height="2" fill="#ae5458"/>
<rect x="1435" y="286" width="49" height="2" fill="#ae5458"/>
<rect x="1435" y="281" width="49" height="2" fill="#d22e30"/>
<rect x="1435" y="292" width="49" height="30" fill="#be4244"/>
<rect x="1435" y="308" width="49" height="1" fill="#ae5458"/>
<rect x="1435" y="306" width="49" height="1" fill="#ae5458"/>
<rect x="1435" y="299" width="49" height="2" fill="#ae5458"/>
<rect x="1435" y="304" width="49" height="2" fill="#ae5458"/>
<rect x="1435" y="305" width="49" height="2" fill="#ae5458"/>
<rect x="1435" y="302" width="49" height="3" fill="#ae5458"/>
<rect x="1435" y="310" width="49" height="2" fill="#d22e30"/>
<rect x="1435" y="303" width="49" height="1" fill="#d22e30"/>
<rect x="1435" y="322" width="49" height="11" fill="#76728c"/>
<rect x="1435" y="329" width="49" height="1" fill="#62629a"/>
<rect x="1435" y="331" width="49" height="1" fill="#62629a"/>
<rect x="1435" y="325" width="49" height="2" fill="#62629a"/>
<rect x="1435" y="330" width="49" height="1" fill="#8c6c78"/>
<rect x="1435" y="328" width="49" height="2" fill="#8c6c78"/>
<rect x="1435" y="333" width="49" height="318" fill="#4e52a5"/>
<rect x="1435" y="507" width="49" height="1" fill="#62629a"/>
<rect x="1435" y="354" width="49" height="2" fill="#62629a"/>
<rect x="1435" y="339" width="49" height="1" fill="#62629a"/>
<rect x="1435" y="575" width="49" height="2" fill="#62629a"/>
<rect x="1435" y="481" width="49" height="1" fill="#62629a"/>
<rect x="1435" y="587" width="49" height="1" fill="#62629a"/>
<rect x="1435" y="392" width="49" height="2" fill="#62629a"/>
<rect x="1435" y="391" width="49" height="2" fill="#62629a"/>
<rect x="1435" y="577" width="49" height="1" fill="#62629a"/>
<rect x="1435" y="499" width="49" height="1" fill="#62629a"/>
<rect x="1435" y="489" width="49" height="2" fill="#62629a"/>
<rect x="1435" y="534" width="49" height="2" fill="#62629a"/>
<rect x="1435" y="516" width="49" height="2" fill="#62629a"/>
<rect x="1435" y="463" width="49" height="2" fill="#62629a"/>
<rect x="1435" y="449" width="49" height="2" fill="#62629a"/>
<rect x="1435" y="646" width="49" height="1" fill="#62629a"/>
<rect x="1435" y="618" width="49" height="3" fill="#62629a"/>
<rect x="1435" y="411" width="49" height="2" fill="#62629a"/>
<rect x="1435" y="355" width="49" height="1" fill="#62629a"/>
<rect x="1435" y="412" width="49" height="1" fill="#62629a"/>
<rect x="1435" y="381" width="49" height="2" fill="#62629a"/>
<rect x="1435" y="525" width="49" height="2" fill="#62629a"/>
<rect x="1435" y="618" width="49" height="2" fill="#62629a"/>
</g>
<g shape-rendering="crispEdges">
<rect x="632" y="800" width="64" height="24" fill="#3953a6"/>
<rect x="696" y="800" width="71" height="24" fill="#3a50a4"/>
<rect x="767" y="800" width="61" height="24" fill="#3d4ca2"/>
<rect x="828" y="800" width="62" height="24" fill="#4148a0"/>
<rect x="890" y="800" width="54" height="24" fill="#4a4c9f"/>
<rect x="944" y="800" width="47" height="24" fill="#5d5da8"/>
<rect x="991" y="800" width="44" height="24" fill="#75749f"/>
<rect x="1035" y="800" width="37" height="24" fill="#828282"/>
<rect x="1072" y="800" width="44" height="24" fill="#9e7272"/>
<rect x="1116" y="800" width="47" height="24" fill="#b06262"/>
<rect x="1163" y="800" width="54" height="24" fill="#c05252"/>
<rect x="1217" y="800" width="57" height="24" fill="#d24040"/>
<rect x="1274" y="800" width="65" height="24" fill="#e22a2a"/>
<rect x="1339" y="800" width="145" height="24" fill="#ee1c24"/>
</g>
<line x1="2" y1="900.3" x2="1496" y2="900.3" stroke="#000" stroke-width="3.2" stroke-dasharray="24 24.17" stroke-dashoffset="11.7"/>
<line x1="801.0" y1="997" x2="801.0" y2="2213" stroke="#d2d2d2" stroke-width="2.2"/>
<line x1="897.5" y1="997" x2="897.5" y2="2213" stroke="#d2d2d2" stroke-width="2.2"/>
<line x1="994.0" y1="997" x2="994.0" y2="2213" stroke="#d2d2d2" stroke-width="2.2"/>
<line x1="1090.5" y1="997" x2="1090.5" y2="2213" stroke="#d2d2d2" stroke-width="2.2"/>
<line x1="1187.0" y1="997" x2="1187.0" y2="2213" stroke="#d2d2d2" stroke-width="2.2"/>
<line x1="1283.5" y1="997" x2="1283.5" y2="2213" stroke="#d2d2d2" stroke-width="2.2"/>
<line x1="1380.0" y1="997" x2="1380.0" y2="2213" stroke="#d2d2d2" stroke-width="2.2"/>
<rect x="705" y="1003.6" width="641.1" height="10" fill="#c1202a"/>
<rect x="705.1" y="1013.7" width="261.3" height="8.8" fill="#fff" stroke="#c1202a" stroke-width="4.2"/>
<rect x="705" y="1039.5" width="579.8" height="10" fill="#c1202a"/>
<rect x="705.1" y="1049.6" width="225.3" height="8.8" fill="#fff" stroke="#c1202a" stroke-width="4.2"/>
<rect x="705" y="1075.4" width="539.5" height="10" fill="#c1202a"/>
<rect x="705.1" y="1085.5" width="259.5" height="8.8" fill="#fff" stroke="#c1202a" stroke-width="4.2"/>
<rect x="705" y="1111.2" width="536.3" height="10" fill="#c1202a"/>
<rect x="705.1" y="1121.3" width="224.8" height="8.8" fill="#fff" stroke="#c1202a" stroke-width="4.2"/>
<rect x="705" y="1147.1" width="506.2" height="10" fill="#c1202a"/>
<rect x="705.1" y="1157.2" width="257.6" height="8.8" fill="#fff" stroke="#c1202a" stroke-width="4.2"/>
<rect x="705" y="1183.0" width="457.1" height="10" fill="#c1202a"/>
<rect x="705.1" y="1193.1" width="272.8" height="8.8" fill="#fff" stroke="#c1202a" stroke-width="4.2"/>
<rect x="705" y="1218.9" width="476.6" height="10" fill="#c1202a"/>
<rect x="705.1" y="1229.0" width="254.1" height="8.8" fill="#fff" stroke="#c1202a" stroke-width="4.2"/>
<rect x="705" y="1254.8" width="437.7" height="10" fill="#c1202a"/>
<rect x="705.1" y="1264.9" width="238.7" height="8.8" fill="#fff" stroke="#c1202a" stroke-width="4.2"/>
<rect x="705" y="1290.6" width="391.0" height="10" fill="#c1202a"/>
<rect x="705.1" y="1300.7" width="0.8" height="8.8" fill="#fff" stroke="#c1202a" stroke-width="4.2"/>
<rect x="705" y="1326.5" width="416.9" height="10" fill="#c1202a"/>
<rect x="705.1" y="1336.6" width="187.5" height="8.8" fill="#fff" stroke="#c1202a" stroke-width="4.2"/>
<rect x="705" y="1362.4" width="403.0" height="10" fill="#c1202a"/>
<rect x="705.1" y="1372.5" width="164.8" height="8.8" fill="#fff" stroke="#c1202a" stroke-width="4.2"/>
<rect x="705" y="1398.3" width="327.5" height="10" fill="#c1202a"/>
<rect x="705.1" y="1408.4" width="55.8" height="8.8" fill="#fff" stroke="#c1202a" stroke-width="4.2"/>
<rect x="705" y="1434.2" width="323.5" height="10" fill="#c1202a"/>
<rect x="705.1" y="1444.3" width="138.1" height="8.8" fill="#fff" stroke="#c1202a" stroke-width="4.2"/>
<rect x="705" y="1470.0" width="310.5" height="10" fill="#c1202a"/>
<rect x="705.1" y="1480.1" width="124.3" height="8.8" fill="#fff" stroke="#1b71b9" stroke-width="4.2"/>
<rect x="705" y="1505.9" width="311.8" height="10" fill="#c1202a"/>
<rect x="705.1" y="1516.0" width="183.5" height="8.8" fill="#fff" stroke="#c1202a" stroke-width="4.2"/>
<rect x="705" y="1541.8" width="291.5" height="10" fill="#c1202a"/>
<rect x="705.1" y="1551.9" width="260.8" height="8.8" fill="#fff" stroke="#1b71b9" stroke-width="4.2"/>
<rect x="705" y="1577.7" width="300.9" height="10" fill="#c1202a"/>
<rect x="705.1" y="1587.8" width="53.6" height="8.8" fill="#fff" stroke="#c1202a" stroke-width="4.2"/>
<rect x="705" y="1613.6" width="271.5" height="10" fill="#c1202a"/>
<rect x="705.1" y="1623.7" width="34.9" height="8.8" fill="#fff" stroke="#c1202a" stroke-width="4.2"/>
<rect x="705" y="1649.4" width="271.0" height="10" fill="#c1202a"/>
<rect x="705.1" y="1659.5" width="67.5" height="8.8" fill="#fff" stroke="#c1202a" stroke-width="4.2"/>
<rect x="705" y="1685.3" width="264.9" height="10" fill="#c1202a"/>
<rect x="705.1" y="1695.4" width="94.7" height="8.8" fill="#fff" stroke="#c1202a" stroke-width="4.2"/>
<rect x="705" y="1721.2" width="259.0" height="10" fill="#c1202a"/>
<rect x="705.1" y="1731.3" width="6.1" height="8.8" fill="#fff" stroke="#c1202a" stroke-width="4.2"/>
<rect x="705" y="1757.1" width="268.3" height="10" fill="#c1202a"/>
<rect x="705.1" y="1767.2" width="130.7" height="8.8" fill="#fff" stroke="#c1202a" stroke-width="4.2"/>
<rect x="705" y="1793.0" width="269.1" height="10" fill="#c1202a"/>
<rect x="705.1" y="1803.1" width="161.6" height="8.8" fill="#fff" stroke="#c1202a" stroke-width="4.2"/>
<rect x="705" y="1828.8" width="275.0" height="10" fill="#c1202a"/>
<rect x="705.1" y="1838.9" width="173.1" height="8.8" fill="#fff" stroke="#c1202a" stroke-width="4.2"/>
<rect x="705" y="1864.7" width="283.5" height="10" fill="#1b71b9"/>
<rect x="705.1" y="1874.8" width="249.6" height="8.8" fill="#fff" stroke="#1b71b9" stroke-width="4.2"/>
<rect x="705" y="1900.6" width="293.1" height="10" fill="#1b71b9"/>
<rect x="705.1" y="1910.7" width="266.7" height="8.8" fill="#fff" stroke="#1b71b9" stroke-width="4.2"/>
<rect x="705" y="1936.5" width="311.0" height="10" fill="#1b71b9"/>
<rect x="705.1" y="1946.6" width="197.3" height="8.8" fill="#fff" stroke="#1b71b9" stroke-width="4.2"/>
<rect x="705" y="1972.4" width="330.2" height="10" fill="#1b71b9"/>
<rect x="705.1" y="1982.5" width="234.1" height="8.8" fill="#fff" stroke="#1b71b9" stroke-width="4.2"/>
<rect x="705" y="2008.2" width="387.8" height="10" fill="#1b71b9"/>
<rect x="705.1" y="2018.3" width="208.8" height="8.8" fill="#fff" stroke="#1b71b9" stroke-width="4.2"/>
<rect x="705" y="2044.1" width="389.1" height="10" fill="#1b71b9"/>
<rect x="705.1" y="2054.2" width="283.5" height="8.8" fill="#fff" stroke="#1b71b9" stroke-width="4.2"/>
<rect x="705" y="2080.0" width="470.5" height="10" fill="#1b71b9"/>
<rect x="705.1" y="2090.1" width="229.3" height="8.8" fill="#fff" stroke="#1b71b9" stroke-width="4.2"/>
<rect x="705" y="2115.9" width="445.7" height="10" fill="#1b71b9"/>
<rect x="705.1" y="2126.0" width="324.8" height="8.8" fill="#fff" stroke="#1b71b9" stroke-width="4.2"/>
<rect x="705" y="2151.8" width="411.5" height="10" fill="#1b71b9"/>
<rect x="705.1" y="2161.9" width="390.5" height="8.8" fill="#fff" stroke="#1b71b9" stroke-width="4.2"/>
<rect x="705" y="2187.6" width="662.2" height="10" fill="#1b71b9"/>
<rect x="705.1" y="2197.7" width="516.8" height="8.8" fill="#fff" stroke="#1b71b9" stroke-width="4.2"/>
<polyline points="1313.9,1012.6 1313.9,1048.5 1249.6,1084.4 1198.7,1120.2 1198.7,1156.1 1113.1,1192.0 1113.1,1227.9 1054.7,1263.8 1005.9,1299.6 998.1,1335.5 998.1,1371.4 916.0,1407.3 903.5,1443.2 896.8,1479.0 890.1,1514.9 875.5,1550.8 875.5,1586.7 850.7,1622.6 847.5,1658.4 845.9,1694.3 845.9,1730.2 845.9,1766.1 845.9,1802.0 842.7,1837.8 838.7,1873.7 853.9,1909.6 872.8,1945.5 880.3,1981.4 972.0,2017.2 977.3,2053.1 1083.2,2089.0 1045.3,2124.9 990.7,2160.8 1446.1,2196.6" fill="none" stroke="#6f6f6f" stroke-width="2.2"/>
<polyline points="785.3,1012.6 773.9,1048.5 785.3,1084.4 773.9,1120.2 785.3,1156.1 785.3,1192.0 785.3,1227.9 773.9,1263.8 712.8,1299.6 751.5,1335.5 742.7,1371.4 719.2,1407.3 732.0,1443.2 704.8,1479.0 751.5,1514.9 704.8,1550.8 719.2,1586.7 716.8,1622.6 721.9,1658.4 721.9,1694.3 713.9,1730.2 729.3,1766.1 742.7,1802.0 742.7,1837.8 781.9,1873.7 793.3,1909.6 750.7,1945.5 771.5,1981.4 756.0,2017.2 805.3,2053.1 771.5,2089.0 849.3,2124.9 927.5,2160.8 1161.9,2196.6" fill="none" stroke="#000" stroke-width="2.6"/>
<circle cx="1313.9" cy="1012.6" r="5.9" fill="#7140a0"/>
<circle cx="1313.9" cy="1048.5" r="5.9" fill="#7140a0"/>
<circle cx="1249.6" cy="1084.4" r="5.9" fill="#7140a0"/>
<circle cx="1198.7" cy="1120.2" r="5.9" fill="#7140a0"/>
<circle cx="1198.7" cy="1156.1" r="5.9" fill="#7140a0"/>
<circle cx="1113.1" cy="1192.0" r="5.9" fill="#7140a0"/>
<circle cx="1113.1" cy="1227.9" r="5.9" fill="#7140a0"/>
<circle cx="1054.7" cy="1263.8" r="5.9" fill="#7140a0"/>
<circle cx="1005.9" cy="1299.6" r="5.9" fill="#7140a0"/>
<circle cx="998.1" cy="1335.5" r="5.9" fill="#7140a0"/>
<circle cx="998.1" cy="1371.4" r="5.9" fill="#7140a0"/>
<circle cx="916.0" cy="1407.3" r="5.9" fill="#7140a0"/>
<circle cx="903.5" cy="1443.2" r="5.9" fill="#7140a0"/>
<circle cx="896.8" cy="1479.0" r="5.9" fill="#7140a0"/>
<circle cx="890.1" cy="1514.9" r="5.9" fill="#7140a0"/>
<circle cx="875.5" cy="1550.8" r="5.9" fill="#7140a0"/>
<circle cx="875.5" cy="1586.7" r="5.9" fill="#7140a0"/>
<circle cx="850.7" cy="1622.6" r="5.9" fill="#7140a0"/>
<circle cx="847.5" cy="1658.4" r="5.9" fill="#7140a0"/>
<circle cx="845.9" cy="1694.3" r="5.9" fill="#7140a0"/>
<circle cx="845.9" cy="1730.2" r="5.9" fill="#7140a0"/>
<circle cx="845.9" cy="1766.1" r="5.9" fill="#7140a0"/>
<circle cx="845.9" cy="1802.0" r="5.9" fill="#7140a0"/>
<circle cx="842.7" cy="1837.8" r="5.9" fill="#7140a0"/>
<circle cx="838.7" cy="1873.7" r="5.9" fill="#7140a0"/>
<circle cx="853.9" cy="1909.6" r="5.9" fill="#7140a0"/>
<circle cx="872.8" cy="1945.5" r="5.9" fill="#7140a0"/>
<circle cx="880.3" cy="1981.4" r="5.9" fill="#7140a0"/>
<circle cx="972.0" cy="2017.2" r="5.9" fill="#7140a0"/>
<circle cx="977.3" cy="2053.1" r="5.9" fill="#7140a0"/>
<circle cx="1083.2" cy="2089.0" r="5.9" fill="#7140a0"/>
<circle cx="1045.3" cy="2124.9" r="5.9" fill="#7140a0"/>
<circle cx="990.7" cy="2160.8" r="5.9" fill="#7140a0"/>
<circle cx="1446.1" cy="2196.6" r="5.9" fill="#7140a0"/>
<circle cx="785.3" cy="1012.6" r="5.9" fill="#f0862f"/>
<circle cx="773.9" cy="1048.5" r="5.9" fill="#f0862f"/>
<circle cx="785.3" cy="1084.4" r="5.9" fill="#f0862f"/>
<circle cx="773.9" cy="1120.2" r="5.9" fill="#f0862f"/>
<circle cx="785.3" cy="1156.1" r="5.9" fill="#f0862f"/>
<circle cx="785.3" cy="1192.0" r="5.9" fill="#f0862f"/>
<circle cx="785.3" cy="1227.9" r="5.9" fill="#f0862f"/>
<circle cx="773.9" cy="1263.8" r="5.9" fill="#f0862f"/>
<circle cx="712.8" cy="1299.6" r="5.9" fill="#f0862f"/>
<circle cx="751.5" cy="1335.5" r="5.9" fill="#f0862f"/>
<circle cx="742.7" cy="1371.4" r="5.9" fill="#f0862f"/>
<circle cx="719.2" cy="1407.3" r="5.9" fill="#f0862f"/>
<circle cx="732.0" cy="1443.2" r="5.9" fill="#f0862f"/>
<circle cx="704.8" cy="1479.0" r="5.9" fill="#f0862f"/>
<circle cx="751.5" cy="1514.9" r="5.9" fill="#f0862f"/>
<circle cx="704.8" cy="1550.8" r="5.9" fill="#f0862f"/>
<circle cx="719.2" cy="1586.7" r="5.9" fill="#f0862f"/>
<circle cx="716.8" cy="1622.6" r="5.9" fill="#f0862f"/>
<circle cx="721.9" cy="1658.4" r="5.9" fill="#f0862f"/>
<circle cx="721.9" cy="1694.3" r="5.9" fill="#f0862f"/>
<circle cx="713.9" cy="1730.2" r="5.9" fill="#f0862f"/>
<circle cx="729.3" cy="1766.1" r="5.9" fill="#f0862f"/>
<circle cx="742.7" cy="1802.0" r="5.9" fill="#f0862f"/>
<circle cx="742.7" cy="1837.8" r="5.9" fill="#f0862f"/>
<circle cx="781.9" cy="1873.7" r="5.9" fill="#f0862f"/>
<circle cx="793.3" cy="1909.6" r="5.9" fill="#f0862f"/>
<circle cx="750.7" cy="1945.5" r="5.9" fill="#f0862f"/>
<circle cx="771.5" cy="1981.4" r="5.9" fill="#f0862f"/>
<circle cx="756.0" cy="2017.2" r="5.9" fill="#f0862f"/>
<circle cx="805.3" cy="2053.1" r="5.9" fill="#f0862f"/>
<circle cx="771.5" cy="2089.0" r="5.9" fill="#f0862f"/>
<circle cx="849.3" cy="2124.9" r="5.9" fill="#f0862f"/>
<circle cx="927.5" cy="2160.8" r="5.9" fill="#f0862f"/>
<circle cx="1161.9" cy="2196.6" r="5.9" fill="#f0862f"/>
<rect x="703.2" y="995.2" width="773.4" height="1219.9" fill="none" stroke="#000" stroke-width="4.4"/>
<rect x="1441.3" y="1054.7" width="15" height="48.3" fill="#c1202a"/>
<rect x="1395.7" y="1054.3" width="15.3" height="49.4" fill="#fff" stroke="#c1202a" stroke-width="4" rx="1.5"/>
<rect x="1435" y="1346.7" width="15" height="48" fill="#1b71b9"/>
<rect x="1395.7" y="1346.3" width="15.3" height="49.4" fill="#fff" stroke="#1b71b9" stroke-width="4" rx="1.5"/>
<line x1="1449" y1="1675" x2="1449" y2="1722.7" stroke="#737373" stroke-width="4" stroke-linecap="round"/>
<circle cx="1449" cy="1698.7" r="9.7" fill="#7140a0"/>
<line x1="1403.5" y1="1675" x2="1403.5" y2="1722.7" stroke="#000" stroke-width="4.5" stroke-linecap="round"/>
<circle cx="1403.5" cy="1698.7" r="9.7" fill="#f0862f"/>
<text x="17.38" y="47.50" font-size="46.5" textLength="21.67" lengthAdjust="spacingAndGlyphs" fill="#000">a</text>
<text x="165.26" y="41.30" font-size="35.4" textLength="373.02" lengthAdjust="spacingAndGlyphs" fill="#000">Union Differential Genes</text>
<text x="316.69" y="252.90" font-size="33.6" textLength="71.82" lengthAdjust="spacingAndGlyphs" fill="#000">2565</text>
<text x="49.69" y="602.60" font-size="31.5" textLength="133.80" lengthAdjust="spacingAndGlyphs" fill="#000">1286/804</text>
<text x="239.57" y="602.60" font-size="31.5" textLength="100.76" lengthAdjust="spacingAndGlyphs" fill="#000">81/292</text>
<text x="361.50" y="602.60" font-size="31.5" textLength="80.10" lengthAdjust="spacingAndGlyphs" fill="#000">71/31</text>
<text x="16.00" y="806.00" font-size="34.3" textLength="228.20" lengthAdjust="spacingAndGlyphs" fill="#000">AIM vs. Control</text>
<text x="289.50" y="806.00" font-size="34.3" textLength="270.61" lengthAdjust="spacingAndGlyphs" fill="#000">CAEBV vs. Control</text>
<text x="21.67" y="849.00" font-size="33.0" textLength="9.47" lengthAdjust="spacingAndGlyphs" fill="#000">(</text>
<text x="48.83" y="849.00" font-size="33.0" textLength="87.06" lengthAdjust="spacingAndGlyphs" fill="#000">1367/</text>
<text x="152.98" y="849.00" font-size="33.0" textLength="82.69" lengthAdjust="spacingAndGlyphs" fill="#000">1096)</text>
<text x="332.67" y="849.00" font-size="33.0" textLength="9.47" lengthAdjust="spacingAndGlyphs" fill="#000">(</text>
<text x="361.85" y="849.00" font-size="33.0" textLength="67.03" lengthAdjust="spacingAndGlyphs" fill="#000">152/</text>
<text x="450.97" y="849.00" font-size="33.0" textLength="65.73" lengthAdjust="spacingAndGlyphs" fill="#000">323)</text>
<text transform="translate(588.00,142.80) rotate(90)" font-size="28.1" textLength="450.27" lengthAdjust="spacingAndGlyphs" fill="#000">2565 Differentially Expressed Genes</text>
<text x="742.30" y="42.00" font-size="35.3" textLength="48.02" lengthAdjust="spacingAndGlyphs" fill="#000">AIM</text>
<text x="1008.87" y="42.00" font-size="35.3" textLength="81.61" lengthAdjust="spacingAndGlyphs" fill="#000">CAEBV</text>
<text x="1237.02" y="41.80" font-size="35.6" textLength="192.63" lengthAdjust="spacingAndGlyphs" fill="#000">Healthy Control</text>
<text transform="translate(663.10,787.15) rotate(-90)" font-size="29.3" textLength="124.41" lengthAdjust="spacingAndGlyphs" fill="#000">15VC1799</text>
<text transform="translate(713.60,787.15) rotate(-90)" font-size="29.3" textLength="124.41" lengthAdjust="spacingAndGlyphs" fill="#000">15VC1803</text>
<text transform="translate(763.80,787.15) rotate(-90)" font-size="29.3" textLength="124.41" lengthAdjust="spacingAndGlyphs" fill="#000">15VC2293</text>
<text transform="translate(815.00,787.15) rotate(-90)" font-size="29.3" textLength="124.41" lengthAdjust="spacingAndGlyphs" fill="#000">15VC2386</text>
<text transform="translate(866.10,744.49) rotate(-90)" font-size="29.3" textLength="81.77" lengthAdjust="spacingAndGlyphs" fill="#000">ED483</text>
<text transform="translate(916.90,744.48) rotate(-90)" font-size="29.3" textLength="81.34" lengthAdjust="spacingAndGlyphs" fill="#000">ED490</text>
<text transform="translate(968.20,787.15) rotate(-90)" font-size="29.3" textLength="124.41" lengthAdjust="spacingAndGlyphs" fill="#000">15VC2295</text>
<text transform="translate(1018.70,787.15) rotate(-90)" font-size="29.3" textLength="124.41" lengthAdjust="spacingAndGlyphs" fill="#000">15VC2407</text>
<text transform="translate(1070.00,787.14) rotate(-90)" font-size="29.3" textLength="123.99" lengthAdjust="spacingAndGlyphs" fill="#000">15VC2414</text>
<text transform="translate(1121.30,787.15) rotate(-90)" font-size="29.3" textLength="124.41" lengthAdjust="spacingAndGlyphs" fill="#000">15VC2656</text>
<text transform="translate(1172.50,787.14) rotate(-90)" font-size="29.3" textLength="123.99" lengthAdjust="spacingAndGlyphs" fill="#000">15VC3454</text>
<text transform="translate(1223.40,711.44) rotate(-90)" font-size="29.3" textLength="48.72" lengthAdjust="spacingAndGlyphs" fill="#000">C13</text>
<text transform="translate(1274.60,711.44) rotate(-90)" font-size="29.3" textLength="48.72" lengthAdjust="spacingAndGlyphs" fill="#000">C15</text>
<text transform="translate(1325.20,711.44) rotate(-90)" font-size="29.3" textLength="48.72" lengthAdjust="spacingAndGlyphs" fill="#000">C21</text>
<text transform="translate(1375.80,711.44) rotate(-90)" font-size="29.3" textLength="48.72" lengthAdjust="spacingAndGlyphs" fill="#000">C22</text>
<text transform="translate(1427.00,711.44) rotate(-90)" font-size="29.3" textLength="48.72" lengthAdjust="spacingAndGlyphs" fill="#000">C23</text>
<text transform="translate(1477.60,711.43) rotate(-90)" font-size="29.3" textLength="48.29" lengthAdjust="spacingAndGlyphs" fill="#000">C24</text>
<text x="631.73" y="867.00" font-size="28.0" textLength="53.42" lengthAdjust="spacingAndGlyphs" fill="#000">Low</text>
<text x="858.11" y="867.00" font-size="28.0" textLength="397.84" lengthAdjust="spacingAndGlyphs" fill="#000">z-score normalized signal value</text>
<text x="1424.23" y="867.00" font-size="28.0" textLength="62.48" lengthAdjust="spacingAndGlyphs" fill="#000">High</text>
<text x="14.07" y="957.30" font-size="48.0" textLength="28.72" lengthAdjust="spacingAndGlyphs" fill="#000">b</text>
<text x="48.78" y="1021.70" font-size="26.0" textLength="622.16" lengthAdjust="spacingAndGlyphs" fill="#000">hsa04060 Cytokine-cytokine receptor interaction (206)</text>
<text x="159.42" y="1057.70" font-size="26.0" textLength="511.48" lengthAdjust="spacingAndGlyphs" fill="#000">hsa04064 NF-kappa B signaling pathway (87)</text>
<text x="232.73" y="1093.70" font-size="26.0" textLength="438.17" lengthAdjust="spacingAndGlyphs" fill="#000">hsa04668 TNF signaling pathway (107)</text>
<text x="202.30" y="1129.70" font-size="26.0" textLength="468.63" lengthAdjust="spacingAndGlyphs" fill="#000">hsa04380 Osteoclast differentiation (122)</text>
<text x="145.40" y="1165.70" font-size="26.0" textLength="525.52" lengthAdjust="spacingAndGlyphs" fill="#000">hsa04062 Chemokine signaling pathway (168)</text>
<text x="102.00" y="1201.70" font-size="26.0" textLength="568.92" lengthAdjust="spacingAndGlyphs" fill="#000">hsa04620 Toll-like receptor signaling pathway (94)</text>
<text x="84.70" y="1237.70" font-size="26.0" textLength="586.22" lengthAdjust="spacingAndGlyphs" fill="#000">hsa04621 NOD-like receptor signaling pathway (55)</text>
<text x="179.45" y="1273.70" font-size="26.0" textLength="491.43" lengthAdjust="spacingAndGlyphs" fill="#000">hsa04630 Jak-STAT signaling pathway (126)</text>
<text x="208.42" y="1309.70" font-size="26.0" textLength="462.48" lengthAdjust="spacingAndGlyphs" fill="#000">hsa04010 MAPK signaling pathway (218)</text>
<text x="200.40" y="1345.70" font-size="26.0" textLength="470.52" lengthAdjust="spacingAndGlyphs" fill="#000">hsa04640 Hematopoietic cell lineage (79)</text>
<text x="164.08" y="1381.70" font-size="26.0" textLength="506.87" lengthAdjust="spacingAndGlyphs" fill="#000">hsa03450 Non-homologous end-joining (13)</text>
<text x="181.78" y="1417.70" font-size="26.0" textLength="489.16" lengthAdjust="spacingAndGlyphs" fill="#000">hsa03440 Homologous recombination (28)</text>
<text x="230.41" y="1453.70" font-size="26.0" textLength="440.51" lengthAdjust="spacingAndGlyphs" fill="#000">hsa00640 Propanoate metabolism (29)</text>
<text x="240.10" y="1489.70" font-size="26.0" textLength="430.83" lengthAdjust="spacingAndGlyphs" fill="#000">hsa00240 Pyrimidine metabolism (93)</text>
<text x="192.13" y="1525.70" font-size="26.0" textLength="478.77" lengthAdjust="spacingAndGlyphs" fill="#000">hsa01230 Biosynthesis of amino acids (67)</text>
<text x="77.70" y="1561.70" font-size="26.0" textLength="593.23" lengthAdjust="spacingAndGlyphs" fill="#000">hsa00270 Cysteine and methionine metabolism (39)</text>
<text x="186.43" y="1597.70" font-size="26.0" textLength="484.48" lengthAdjust="spacingAndGlyphs" fill="#000">hsa03015 mRNA surveillance pathway (79)</text>
<text x="282.16" y="1633.70" font-size="26.0" textLength="388.72" lengthAdjust="spacingAndGlyphs" fill="#000">hsa03410 Base excision repair (32)</text>
<text x="376.44" y="1669.70" font-size="26.0" textLength="294.45" lengthAdjust="spacingAndGlyphs" fill="#000">hsa03010 Ribosome (120)</text>
<text x="25.01" y="1705.70" font-size="26.0" textLength="645.91" lengthAdjust="spacingAndGlyphs" fill="#000">hsa00280 Valine, leucine and isoleucine degradation (42)</text>
<text x="329.73" y="1741.70" font-size="26.0" textLength="341.16" lengthAdjust="spacingAndGlyphs" fill="#000">hsa03013 RNA transport (158)</text>
<text x="221.02" y="1777.70" font-size="26.0" textLength="449.88" lengthAdjust="spacingAndGlyphs" fill="#000">hsa03460 Fanconi anemia pathway (50)</text>
<text x="275.11" y="1813.70" font-size="26.0" textLength="395.81" lengthAdjust="spacingAndGlyphs" fill="#000">hsa00230 Purine metabolism (144)</text>
<text x="233.16" y="1849.70" font-size="26.0" textLength="437.72" lengthAdjust="spacingAndGlyphs" fill="#000">hsa00020 Citrate cycle (TCA cycle) (30)</text>
<text x="320.42" y="1885.70" font-size="26.0" textLength="350.49" lengthAdjust="spacingAndGlyphs" fill="#000">hsa03430 Mismatch repair (23)</text>
<text x="346.14" y="1921.70" font-size="26.0" textLength="324.75" lengthAdjust="spacingAndGlyphs" fill="#000">hsa03040 Spliceosome (128)</text>
<text x="209.41" y="1957.70" font-size="26.0" textLength="461.50" lengthAdjust="spacingAndGlyphs" fill="#000">hsa03420 Nucleotide excision repair (44)</text>
<text x="168.72" y="1993.70" font-size="26.0" textLength="502.19" lengthAdjust="spacingAndGlyphs" fill="#000">hsa00970 Aminoacyl-tRNA biosynthesis (44)</text>
<text x="317.13" y="2029.70" font-size="26.0" textLength="353.78" lengthAdjust="spacingAndGlyphs" fill="#000">hsa04114 Oocyte meiosis (105)</text>
<text x="265.41" y="2065.70" font-size="26.0" textLength="405.50" lengthAdjust="spacingAndGlyphs" fill="#000">hsa01200 Carbon metabolism (106)</text>
<text x="369.45" y="2101.70" font-size="26.0" textLength="301.44" lengthAdjust="spacingAndGlyphs" fill="#000">hsa03050 Proteasome (44)</text>
<text x="186.38" y="2137.70" font-size="26.0" textLength="484.56" lengthAdjust="spacingAndGlyphs" fill="#000">hsa00190 Oxidative phosphorylation (110)</text>
<text x="385.74" y="2173.70" font-size="26.0" textLength="285.15" lengthAdjust="spacingAndGlyphs" fill="#000">hsa04110 Cell cycle (116)</text>
<text x="324.11" y="2209.70" font-size="26.0" textLength="346.80" lengthAdjust="spacingAndGlyphs" fill="#000">hsa03030 DNA replication (35)</text>
<text x="697.19" y="979.40" font-size="26.0" fill="#000">0</text>
<text x="697.19" y="2250.40" font-size="26.0" fill="#000">0</text>
<text x="793.48" y="979.40" font-size="26.0" fill="#000">1</text>
<text x="793.48" y="2250.40" font-size="26.0" fill="#000">1</text>
<text x="890.19" y="979.40" font-size="26.0" fill="#000">2</text>
<text x="890.19" y="2250.40" font-size="26.0" fill="#000">2</text>
<text x="986.89" y="979.40" font-size="26.0" fill="#000">3</text>
<text x="986.89" y="2250.40" font-size="26.0" fill="#000">3</text>
<text x="1083.39" y="979.40" font-size="26.0" fill="#000">4</text>
<text x="1083.39" y="2250.40" font-size="26.0" fill="#000">4</text>
<text x="1179.89" y="979.40" font-size="26.0" fill="#000">5</text>
<text x="1179.89" y="2250.40" font-size="26.0" fill="#000">5</text>
<text x="1276.19" y="979.40" font-size="26.0" fill="#000">6</text>
<text x="1276.19" y="2250.40" font-size="26.0" fill="#000">6</text>
<text x="1372.69" y="979.40" font-size="26.0" fill="#000">7</text>
<text x="1372.69" y="2250.40" font-size="26.0" fill="#000">7</text>
<text x="1469.39" y="979.40" font-size="26.0" fill="#000">8</text>
<text x="1469.39" y="2250.40" font-size="26.0" fill="#000">8</text>
<text x="914.04" y="942.20" font-size="27.9" textLength="353.68" lengthAdjust="spacingAndGlyphs" fill="#000">Enrichment Statistic Score</text>
<text x="920.86" y="2284.70" font-size="27.9" textLength="343.60" lengthAdjust="spacingAndGlyphs" fill="#000">-Log10 (adjusted p-value)</text>
<text transform="translate(1440.30,1115.94) rotate(90)" font-size="29.5" textLength="123.66" lengthAdjust="spacingAndGlyphs" fill="#000">Up in AIM</text>
<text transform="translate(1393.70,1115.95) rotate(90)" font-size="29.5" textLength="168.21" lengthAdjust="spacingAndGlyphs" fill="#000">Up in CAEBV</text>
<text transform="translate(1433.30,1408.32) rotate(90)" font-size="29.5" textLength="158.26" lengthAdjust="spacingAndGlyphs" fill="#000">Down in AIM</text>
<text transform="translate(1394.00,1408.33) rotate(90)" font-size="29.5" textLength="202.54" lengthAdjust="spacingAndGlyphs" fill="#000">Down in CAEBV</text>
<text transform="translate(1440.30,1740.43) rotate(90)" font-size="29.2" textLength="376.45" lengthAdjust="spacingAndGlyphs" fill="#000">-Log10(adjusted p-value) -AIM</text>
<text transform="translate(1394.30,1736.43) rotate(90)" font-size="29.2" textLength="421.43" lengthAdjust="spacingAndGlyphs" fill="#000">-Log10(adjusted p-value) -CAEBV</text>
</svg></body></html>
